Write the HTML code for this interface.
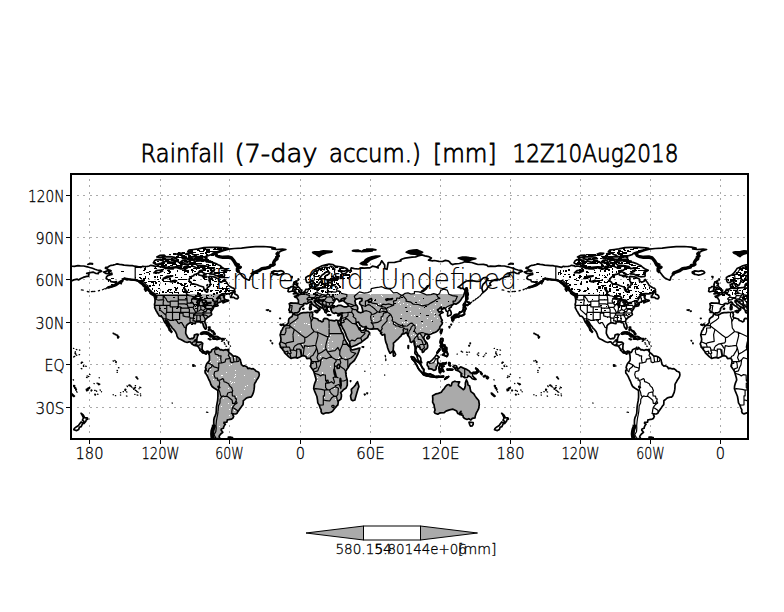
<!DOCTYPE html>
<html><head><meta charset="utf-8"><style>
html,body{margin:0;padding:0;background:#fff;}
svg{display:block;font-family:"Liberation Sans",sans-serif;}
</style></head><body>
<svg width="784" height="612" viewBox="0 0 784 612">
<defs>
<clipPath id="cm"><rect x="72" y="175" width="675" height="263"/></clipPath>
<clipPath id="cg"><rect x="72" y="294" width="438" height="144"/></clipPath>
<clipPath id="cg2"><rect x="510" y="294" width="237" height="144"/></clipPath>
</defs>
<rect width="784" height="612" fill="#fff"/>
<g clip-path="url(#cm)">
<path d="M89.5 175 V438 M160.5 175 V438 M229.5 175 V438 M300.5 175 V438 M370.5 175 V438 M440.5 175 V438 M510.5 175 V438 M580.5 175 V438 M650.5 175 V438 M720.5 175 V438" stroke="#aaa" stroke-width="1" stroke-dasharray="2 4.47" stroke-dashoffset="2.54" fill="none" shape-rendering="crispEdges"/>
<path d="M72 195.5 H747 M72 237.5 H747 M72 279.5 H747 M72 322.5 H747 M72 364.5 H747 M72 407.5 H747" stroke="#aaa" stroke-width="1" stroke-dasharray="2 4.47" stroke-dashoffset="1.87" fill="none" shape-rendering="crispEdges"/>
</g>
<g clip-path="url(#cg2)"><path d="M524.3 272.0 L526.6 273.4 L528.0 273.7 L530.7 273.5 L532.5 273.1 L532.7 274.5 L530.7 275.0 L528.4 275.7 L527.2 276.8 L526.9 278.5 L528.4 279.5 L530.7 280.0 L531.5 281.7 L534.8 282.2 L537.1 281.7 L536.6 283.4 L535.0 284.8 L533.1 285.8 L530.7 287.0 L528.4 287.5 L530.1 287.4 L532.5 286.5 L534.8 285.8 L537.1 284.8 L538.9 283.4 L540.6 282.0 L541.8 280.9 L543.2 281.0 L544.2 278.9 L545.3 278.2 L545.9 279.2 L547.7 279.9 L549.4 279.2 L551.7 279.9 L554.7 279.9 L557.0 280.3 L558.8 281.2 L560.5 282.2 L561.7 282.7 L563.4 284.1 L564.6 285.6 L566.4 287.0 L568.1 287.5 L568.7 289.1 L569.9 290.5 L571.0 291.5 L571.6 292.6 L573.4 293.6 L574.5 294.3 L576.3 295.2 L577.1 295.6 L577.5 296.9 L576.9 298.1 L575.7 297.0 L574.9 296.3 L575.5 298.3 L575.7 299.4 L575.7 302.5 L575.1 304.2 L575.5 306.8 L575.2 307.6 L575.9 308.9 L576.9 311.0 L577.5 311.7 L578.0 312.7 L578.3 313.4 L579.2 314.5 L579.7 315.8 L581.0 316.1 L582.1 316.6 L582.9 317.4 L583.7 318.5 L584.4 320.2 L585.1 321.9 L585.9 322.9 L587.0 324.3 L587.3 325.3 L588.8 327.1 L589.6 328.9 L589.8 330.2 L591.1 331.3 L592.2 332.3 L592.6 331.5 L591.7 330.5 L591.2 329.6 L590.3 328.0 L589.5 325.8 L588.6 324.4 L587.6 322.6 L586.6 320.9 L586.5 319.8 L587.4 320.5 L588.7 321.6 L589.5 323.3 L590.9 325.3 L592.1 326.5 L592.9 328.2 L594.4 329.4 L596.2 331.8 L597.3 334.3 L597.6 335.9 L598.5 337.6 L599.7 338.8 L602.0 339.8 L603.7 340.8 L605.5 341.8 L607.8 342.5 L609.6 341.9 L610.8 341.8 L612.7 344.1 L614.3 345.1 L616.0 345.6 L617.8 346.0 L618.4 346.3 L619.2 347.3 L620.3 348.9 L620.5 350.3 L621.3 350.8 L622.4 352.0 L623.6 353.0 L624.8 353.1 L626.0 353.8 L626.8 354.2 L627.1 353.4 L627.7 352.1 L628.9 352.8 L629.6 354.4 L630.0 355.5 L630.2 359.0 L630.0 360.5 L628.8 362.2 L627.7 363.3 L627.0 364.7 L626.5 366.1 L626.1 367.8 L626.9 368.9 L625.7 370.8 L625.8 372.9 L627.1 374.6 L628.3 376.7 L629.5 379.5 L630.6 381.7 L631.6 384.5 L632.7 386.5 L634.7 388.0 L637.1 389.4 L638.5 390.7 L638.6 393.7 L638.6 397.2 L638.2 400.7 L637.6 403.6 L637.1 407.1 L636.9 410.6 L636.7 413.5 L635.9 415.6 L635.1 417.3 L634.5 419.8 L634.4 423.4 L634.7 424.8 L634.4 426.9 L633.5 429.0 L632.7 431.1 L632.4 434.0 L632.7 436.8 L633.5 438.9 L635.3 440.3 L637.6 441.0 L639.4 438.9 L640.7 438.6 L639.7 436.8 L640.1 435.8 L641.4 434.0 L643.5 432.3 L641.7 430.1 L642.0 429.0 L644.1 428.3 L644.4 426.9 L645.2 425.2 L646.0 424.3 L644.6 423.4 L644.6 422.4 L647.6 422.1 L647.9 419.8 L649.3 419.7 L652.2 419.1 L653.4 418.4 L654.3 416.3 L653.6 415.3 L653.4 414.2 L652.2 413.2 L653.1 413.5 L654.9 414.0 L656.3 414.0 L657.7 413.3 L658.2 412.3 L659.6 410.2 L660.8 408.5 L661.6 407.4 L662.5 406.0 L663.7 404.7 L663.9 402.2 L663.9 400.7 L665.1 399.8 L666.5 398.6 L668.3 397.6 L670.2 397.2 L671.5 397.1 L672.7 395.8 L673.6 393.7 L674.2 392.3 L674.8 389.4 L675.0 386.6 L675.0 384.5 L675.6 383.1 L676.5 381.7 L677.4 380.0 L678.8 378.1 L679.7 376.0 L679.9 374.6 L679.5 372.5 L678.5 371.8 L676.8 371.2 L675.6 369.9 L673.9 368.7 L671.8 368.8 L669.8 368.1 L668.6 368.7 L667.4 366.7 L665.1 365.7 L663.9 366.1 L662.2 364.7 L661.6 362.6 L661.0 359.8 L659.8 358.2 L658.1 356.8 L656.3 356.2 L654.0 356.2 L652.8 355.1 L651.1 353.4 L649.9 352.7 L648.7 350.8 L647.6 349.9 L645.8 349.7 L644.1 350.4 L642.3 349.7 L640.9 349.9 L639.4 348.4 L638.6 347.5 L638.8 348.6 L637.2 349.3 L637.1 349.2 L636.5 348.0 L636.8 347.2 L635.9 348.2 L634.7 348.7 L633.5 349.2 L632.4 349.9 L632.0 351.3 L631.2 352.4 L630.2 352.5 L629.5 351.6 L627.7 351.1 L626.5 351.8 L625.4 352.1 L624.4 351.6 L623.6 350.6 L622.8 349.2 L622.9 347.0 L623.0 344.9 L623.4 343.5 L621.9 342.2 L620.1 342.1 L618.1 342.2 L617.2 342.4 L617.4 340.7 L617.5 338.6 L618.0 337.1 L618.4 335.7 L619.2 334.5 L617.8 334.2 L616.0 334.6 L615.0 335.0 L614.8 336.9 L613.7 338.6 L612.5 338.4 L610.8 339.0 L609.6 338.4 L608.4 337.6 L607.8 336.4 L607.0 335.0 L606.3 333.2 L606.4 330.8 L606.8 328.0 L607.0 325.8 L607.8 324.7 L609.6 323.4 L610.8 322.7 L612.5 322.9 L614.3 323.4 L616.0 323.7 L616.0 322.0 L617.2 321.7 L618.4 321.9 L620.1 321.7 L621.3 322.7 L622.4 322.3 L623.6 323.7 L624.0 325.4 L624.5 327.1 L625.4 328.2 L626.1 329.2 L626.8 328.7 L627.1 327.2 L626.8 325.4 L626.4 324.3 L625.7 322.6 L625.5 321.2 L626.0 319.5 L627.1 318.5 L628.3 317.4 L629.5 316.8 L630.6 315.8 L631.8 315.2 L632.4 314.5 L632.0 313.1 L631.6 312.4 L631.9 311.7 L632.4 310.7 L632.8 309.9 L633.5 309.0 L634.1 307.9 L634.2 307.0 L635.3 306.5 L637.1 306.2 L638.2 305.9 L638.8 305.6 L638.1 304.8 L638.0 303.8 L638.8 302.8 L640.0 302.4 L641.7 301.7 L642.4 301.1 L644.6 300.3 L645.3 300.0 L645.2 300.7 L643.5 302.1 L643.7 302.9 L645.2 302.2 L646.4 301.7 L648.2 301.1 L649.3 300.7 L648.7 300.1 L647.6 300.1 L646.0 299.5 L645.0 298.7 L644.6 297.8 L645.0 297.1 L644.1 296.9 L645.2 295.7 L644.1 295.2 L641.7 295.2 L640.6 296.2 L639.2 297.6 L638.2 298.3 L637.4 298.6 L638.8 297.1 L640.0 296.0 L641.1 295.0 L642.9 293.8 L645.8 293.6 L648.7 293.8 L651.1 293.3 L653.4 292.1 L655.2 291.2 L655.5 289.8 L654.6 288.4 L652.8 287.7 L651.1 286.7 L649.3 285.6 L648.4 284.1 L647.6 282.7 L646.4 281.3 L645.2 279.5 L644.3 280.2 L644.1 281.3 L642.9 281.7 L641.7 282.3 L640.6 281.6 L639.4 281.0 L639.4 279.5 L638.8 278.5 L637.1 278.2 L635.9 277.4 L634.1 276.8 L632.4 276.6 L630.0 276.4 L629.2 277.1 L630.0 278.8 L629.7 280.6 L630.6 282.0 L631.2 283.7 L630.9 285.3 L630.0 286.3 L628.3 287.4 L627.7 288.4 L628.5 290.5 L628.3 291.9 L627.1 292.2 L626.0 291.2 L624.8 289.9 L624.4 288.4 L624.2 287.0 L622.4 286.5 L620.1 285.8 L617.8 284.8 L616.0 284.3 L614.3 283.9 L612.5 284.1 L611.3 282.0 L609.9 281.3 L609.8 279.9 L610.2 278.5 L611.3 277.4 L612.5 276.4 L614.3 275.7 L614.8 274.7 L617.2 274.2 L618.9 273.1 L620.1 271.1 L621.9 270.3 L623.6 270.0 L625.4 268.6 L625.4 266.9 L624.2 266.2 L621.3 266.0 L620.1 267.9 L617.8 268.2 L616.0 267.2 L614.3 266.5 L612.5 265.8 L613.1 264.4 L611.3 262.9 L609.0 264.4 L608.4 266.5 L607.3 268.6 L605.5 268.3 L603.7 268.9 L601.4 268.9 L599.1 268.3 L596.7 267.5 L594.4 267.9 L593.8 269.0 L592.1 268.6 L589.1 268.9 L586.8 268.3 L586.2 268.6 L583.3 267.2 L580.4 266.6 L578.0 266.0 L575.1 266.5 L574.5 265.8 L571.6 265.3 L569.9 266.0 L568.1 266.3 L565.8 266.5 L564.6 266.6 L563.4 266.3 L561.7 267.3 L559.3 266.8 L557.0 266.3 L555.3 266.2 L552.9 265.6 L550.6 265.6 L547.7 265.3 L544.7 265.1 L542.4 264.6 L540.1 264.4 L537.7 263.9 L536.0 264.5 L533.6 265.1 L531.9 265.3 L530.1 266.0 L528.4 267.3 L526.4 267.3 L526.0 268.2 L528.4 269.2 L529.3 269.9 L530.7 270.1 L531.9 270.9 L530.1 271.3 L528.4 270.7 L527.2 271.1 L526.0 271.6 Z M713.7 314.1 L712.7 316.6 L710.7 317.8 L709.6 318.8 L709.1 320.9 L709.4 322.3 L708.3 323.7 L707.2 324.8 L705.4 325.8 L703.7 327.7 L703.1 329.4 L701.9 331.1 L701.3 332.9 L700.7 335.0 L701.3 337.1 L701.7 339.3 L701.3 341.7 L700.2 343.9 L701.0 345.6 L701.1 347.2 L702.5 348.4 L703.4 349.9 L704.8 351.3 L705.2 352.7 L706.6 354.1 L707.7 355.1 L709.5 356.9 L711.8 358.5 L713.6 357.8 L715.9 357.4 L718.3 358.1 L720.6 356.9 L722.4 355.9 L724.7 355.7 L726.4 356.5 L727.6 358.6 L729.4 358.3 L730.5 358.3 L731.7 359.3 L732.1 361.2 L731.7 363.3 L731.5 365.4 L730.9 366.1 L732.9 368.9 L734.4 371.2 L735.0 373.2 L735.8 376.0 L736.4 378.1 L736.7 380.0 L735.4 383.1 L734.6 385.9 L734.4 388.7 L735.2 390.8 L736.4 393.7 L737.5 396.5 L738.1 400.0 L738.5 402.9 L739.9 405.1 L740.8 407.8 L741.9 409.9 L741.6 411.3 L742.2 412.9 L744.0 413.9 L746.9 412.8 L749.8 412.8 L751.6 412.3 L753.3 411.1 L755.1 408.8 L756.8 406.4 L758.5 405.0 L758.9 402.2 L759.2 400.7 L761.5 399.3 L762.1 396.5 L762.1 394.4 L761.3 392.7 L763.3 390.8 L764.4 389.4 L766.8 388.0 L767.9 385.2 L767.9 380.2 L766.8 376.0 L766.5 373.9 L766.2 371.8 L767.3 369.6 L769.1 367.2 L770.8 364.0 L772.6 362.6 L774.9 360.5 L776.7 357.6 L778.4 354.1 L779.6 351.3 L780.5 348.0 L779.0 348.4 L777.3 348.9 L774.4 349.6 L772.6 350.0 L771.2 348.4 L770.6 347.0 L769.1 345.2 L767.3 342.8 L766.2 340.7 L765.0 338.6 L764.2 335.0 L763.6 333.6 L762.1 331.5 L761.5 329.4 L760.3 327.0 L759.2 324.4 L758.7 322.4 L758.3 320.5 L756.8 320.0 L755.1 320.9 L752.2 320.3 L749.8 320.0 L747.5 318.6 L745.1 318.3 L744.0 319.6 L744.0 321.0 L742.8 321.9 L741.0 320.9 L739.3 320.5 L738.4 319.0 L735.8 318.2 L734.0 317.8 L732.9 316.6 L733.5 314.8 L732.9 313.1 L733.5 312.4 L732.3 312.0 L730.5 312.5 L728.2 312.4 L726.4 312.7 L724.1 312.7 L721.8 313.1 L719.4 314.5 L718.0 315.1 L715.9 315.0 L714.4 314.0 Z M758.7 322.4 L759.7 325.1 L760.7 325.4 L761.0 323.7 L761.5 323.0 L762.1 325.1 L763.3 328.0 L765.0 330.8 L766.2 333.6 L767.1 336.4 L768.5 339.3 L770.3 342.1 L770.6 344.2 L771.2 346.6 L772.6 346.8 L773.8 346.3 L777.3 344.9 L779.0 343.8 L781.4 342.7 L783.1 341.4 L785.5 339.5 L787.0 338.4 L788.1 337.6 L789.0 335.7 L790.5 333.0 L789.0 331.3 L787.2 330.8 L786.5 329.5 L786.4 327.5 L785.5 328.7 L784.3 330.4 L781.9 330.5 L780.9 330.1 L780.9 328.1 L780.4 327.8 L780.0 329.6 L779.3 328.2 L778.4 326.5 L777.3 324.7 L776.7 323.0 L777.6 322.3 L779.0 322.0 L780.0 323.7 L780.8 325.3 L783.1 326.8 L785.5 327.0 L786.6 326.4 L787.6 328.2 L789.5 328.8 L792.5 329.2 L794.8 328.9 L798.3 328.8 L799.2 329.9 L800.6 331.5 L802.4 332.5 L801.2 333.2 L803.0 335.2 L805.3 334.3 L805.7 337.1 L805.9 339.3 L806.5 342.1 L807.7 344.9 L808.2 347.7 L809.4 350.6 L810.6 353.1 L811.2 353.3 L812.0 352.1 L813.1 351.6 L813.8 350.1 L814.1 347.0 L814.3 345.6 L814.1 343.2 L815.3 342.1 L816.8 340.7 L818.8 338.8 L820.5 337.0 L822.0 335.7 L822.3 334.3 L824.0 333.9 L825.2 333.6 L826.4 332.6 L827.5 333.0 L828.1 334.3 L828.5 335.4 L829.9 337.1 L830.7 339.3 L830.9 341.8 L832.2 342.4 L833.9 341.0 L834.6 342.1 L834.9 344.2 L835.7 347.0 L835.8 350.6 L835.5 352.7 L835.7 353.7 L837.5 355.5 L837.9 357.6 L838.6 359.8 L840.4 361.9 L841.5 362.9 L842.4 362.6 L841.5 360.5 L841.4 358.3 L840.0 355.9 L838.6 354.9 L837.8 353.0 L836.6 351.3 L836.5 349.2 L837.5 346.8 L838.5 345.8 L839.2 346.9 L840.4 347.5 L841.0 349.2 L842.7 350.0 L843.1 352.4 L844.5 351.7 L845.4 350.0 L847.4 348.7 L848.2 347.7 L848.3 345.6 L847.7 343.1 L846.2 341.4 L845.0 339.7 L844.2 337.8 L845.0 336.0 L846.2 334.3 L847.4 334.2 L848.6 334.3 L849.1 336.0 L849.7 334.6 L851.2 334.2 L853.2 333.3 L854.2 332.9 L856.1 332.3 L857.9 331.1 L859.1 329.9 L860.2 328.7 L860.5 327.2 L861.4 325.8 L862.6 324.4 L863.2 322.6 L862.0 321.5 L862.9 320.2 L861.8 318.5 L861.2 316.2 L860.0 315.2 L861.4 313.5 L863.7 312.4 L862.0 311.3 L859.7 312.1 L859.1 311.0 L858.1 309.9 L859.1 309.3 L860.2 308.3 L862.0 307.0 L862.6 309.6 L862.2 309.9 L863.5 308.9 L864.9 308.4 L866.1 308.4 L866.9 311.0 L868.4 311.7 L868.2 315.2 L868.4 316.1 L870.2 315.5 L871.7 314.8 L871.9 313.1 L871.3 311.0 L870.2 309.6 L869.6 308.4 L871.9 307.0 L872.2 305.9 L873.3 304.9 L874.8 303.6 L876.6 304.2 L878.9 302.8 L881.3 300.4 L882.4 298.3 L884.2 296.2 L884.8 294.0 L885.8 290.9 L885.4 289.8 L883.6 288.1 L881.3 288.5 L880.7 287.7 L878.6 287.2 L880.1 286.3 L881.9 284.8 L884.8 282.4 L887.1 281.0 L890.6 280.7 L894.1 280.9 L897.0 281.3 L898.8 281.3 L901.1 281.0 L901.7 279.9 L904.1 277.8 L907.0 277.4 L908.7 278.8 L907.6 279.9 L905.2 283.0 L903.8 284.1 L902.9 286.3 L902.5 288.4 L903.1 290.5 L903.7 292.6 L905.5 291.2 L907.6 289.1 L908.1 287.7 L909.9 285.6 L911.4 285.3 L910.5 283.4 L911.7 282.0 L913.4 280.6 L915.2 279.9 L918.7 279.2 L919.8 279.9 L922.2 278.5 L924.5 277.4 L928.0 276.4 L929.8 276.4 L930.4 274.2 L929.2 273.5 L928.0 273.3 L930.4 272.8 L931.5 272.6 L934.4 272.1 L937.4 273.5 L939.7 273.7 L939.7 272.4 L942.0 271.7 L943.0 271.3 L941.5 270.3 L938.5 270.0 L936.2 269.2 L933.9 268.3 L930.9 267.5 L928.6 266.8 L925.1 266.0 L921.6 265.9 L919.2 265.6 L915.7 266.3 L911.1 266.2 L908.7 266.5 L907.6 265.1 L904.1 264.4 L898.8 264.5 L895.9 263.6 L892.4 262.5 L888.9 262.2 L885.4 261.8 L883.0 262.7 L880.1 263.5 L876.0 263.8 L873.1 264.6 L871.3 263.6 L870.2 261.8 L868.4 260.8 L866.1 260.4 L863.2 261.5 L859.7 261.4 L855.0 260.5 L853.2 260.8 L849.1 260.1 L852.1 258.0 L849.1 256.6 L845.6 255.9 L842.5 254.9 L838.6 255.9 L836.3 256.9 L832.8 257.1 L829.3 257.6 L825.8 258.1 L822.8 259.0 L821.1 260.1 L821.7 260.8 L818.8 261.5 L815.3 262.4 L811.7 262.5 L808.8 262.5 L807.7 269.3 L805.3 268.6 L805.3 265.1 L802.4 260.8 L800.6 264.4 L798.3 266.5 L798.9 267.9 L796.6 266.9 L793.0 266.2 L790.7 267.9 L788.4 267.9 L784.9 268.2 L782.5 267.9 L779.0 269.0 L774.9 268.6 L772.0 267.9 L771.4 269.3 L772.0 271.1 L769.7 270.7 L767.9 271.4 L766.8 273.1 L764.4 274.2 L762.7 273.4 L761.5 271.4 L759.2 270.7 L760.9 270.6 L765.0 271.3 L768.5 269.7 L767.3 268.6 L765.0 267.7 L761.5 266.9 L759.2 266.5 L755.7 266.0 L753.3 264.5 L749.8 264.2 L746.3 264.9 L742.8 265.8 L739.9 267.2 L737.0 268.6 L735.2 271.4 L733.5 273.5 L731.7 275.0 L728.8 276.1 L726.4 277.4 L726.4 279.2 L727.0 281.3 L727.6 282.4 L729.4 282.7 L731.7 281.3 L732.9 280.2 L733.5 281.3 L734.0 282.3 L734.6 283.4 L735.4 285.3 L735.8 286.4 L737.5 286.0 L739.3 284.8 L739.9 283.2 L741.6 281.3 L742.8 280.2 L741.0 278.9 L741.0 277.1 L742.8 275.0 L745.1 273.5 L746.9 271.8 L749.2 271.7 L750.4 272.8 L749.2 274.2 L746.3 275.7 L745.7 277.8 L745.7 279.2 L747.5 279.9 L750.4 279.5 L753.3 279.2 L755.7 280.0 L753.3 280.6 L748.6 280.7 L748.1 281.7 L749.2 282.4 L748.6 283.9 L746.3 283.4 L745.1 284.8 L745.1 286.5 L744.0 287.2 L742.2 287.7 L739.3 288.0 L737.0 288.4 L734.6 288.1 L733.5 288.4 L732.3 287.7 L732.3 286.3 L732.9 283.4 L731.7 283.9 L730.2 284.8 L730.5 286.3 L730.9 288.4 L728.8 289.1 L726.4 289.4 L725.9 290.8 L724.7 291.9 L723.5 292.5 L722.5 293.3 L722.1 294.0 L720.8 294.5 L719.4 294.9 L719.1 294.5 L718.4 294.5 L718.7 295.9 L717.1 295.7 L715.1 296.3 L715.6 297.1 L717.7 297.8 L718.3 299.0 L719.2 300.4 L719.1 302.5 L718.5 303.4 L716.5 303.2 L714.2 303.1 L711.3 302.9 L709.9 303.8 L710.3 305.3 L710.4 307.5 L709.5 309.9 L710.3 311.1 L710.2 312.4 L711.8 312.1 L713.2 312.7 L714.1 313.8 L715.3 312.8 L718.0 312.8 L719.7 311.6 L720.6 309.9 L720.3 308.9 L721.5 307.2 L723.2 306.2 L724.3 305.3 L724.2 303.9 L725.9 303.4 L727.6 303.8 L729.4 302.8 L730.9 301.9 L732.3 302.5 L732.9 304.1 L734.6 305.5 L736.4 306.5 L738.1 307.9 L739.3 309.6 L738.9 311.0 L739.9 310.3 L740.7 309.6 L740.0 308.2 L741.0 307.5 L742.2 308.0 L741.6 307.2 L739.3 306.0 L738.7 305.3 L737.0 304.6 L736.4 303.2 L735.0 301.8 L735.2 300.4 L736.6 300.1 L736.5 301.1 L737.5 300.8 L738.7 302.5 L740.5 303.6 L742.2 304.8 L743.4 305.6 L743.2 307.5 L744.0 308.9 L745.1 310.3 L745.7 312.4 L746.9 313.1 L747.5 311.7 L747.2 310.6 L748.6 310.7 L747.2 308.9 L746.9 307.5 L748.6 307.0 L751.0 307.0 L751.2 307.7 L752.7 306.9 L754.5 306.5 L753.3 305.9 L753.1 304.6 L753.9 303.2 L755.3 301.1 L756.2 299.0 L757.4 298.8 L758.6 299.7 L759.7 300.8 L759.7 301.8 L761.5 301.2 L763.3 300.7 L761.5 300.1 L762.1 299.0 L765.0 298.1 L766.5 298.0 L765.0 299.7 L764.4 301.1 L765.6 302.1 L767.1 303.2 L769.1 305.3 L769.2 306.0 L767.3 306.8 L765.0 306.9 L763.3 306.3 L761.5 305.3 L759.2 305.3 L757.4 306.5 L755.1 306.5 L754.5 307.6 L752.2 307.6 L751.2 308.9 L751.9 310.3 L752.5 311.7 L753.3 312.7 L755.1 313.5 L756.4 312.7 L758.0 313.5 L760.3 313.4 L762.1 313.0 L762.9 312.8 L762.4 314.1 L762.6 315.2 L761.5 318.1 L760.9 320.0 L759.7 320.7 L758.7 320.9 Z" fill="#fff"/></g>
<g clip-path="url(#cg)"><path d="M103.6 272.0 L106.0 273.4 L107.4 273.7 L110.0 273.5 L111.8 273.1 L112.0 274.5 L110.0 275.0 L107.7 275.7 L106.5 276.8 L106.2 278.5 L107.7 279.5 L110.0 280.0 L110.9 281.7 L114.1 282.2 L116.5 281.7 L115.9 283.4 L114.4 284.8 L112.4 285.8 L110.0 287.0 L107.7 287.5 L109.5 287.4 L111.8 286.5 L114.1 285.8 L116.5 284.8 L118.2 283.4 L120.0 282.0 L121.2 280.9 L122.6 281.0 L123.5 278.9 L124.7 278.2 L125.2 279.2 L127.0 279.9 L128.7 279.2 L131.1 279.9 L134.0 279.9 L136.3 280.3 L138.1 281.2 L139.8 282.2 L141.0 282.7 L142.8 284.1 L143.9 285.6 L145.7 287.0 L147.4 287.5 L148.0 289.1 L149.2 290.5 L150.4 291.5 L150.9 292.6 L152.7 293.6 L153.9 294.3 L155.6 295.2 L156.4 295.6 L156.8 296.9 L156.2 298.1 L155.0 297.0 L154.2 296.3 L154.8 298.3 L155.0 299.4 L155.0 302.5 L154.5 304.2 L154.8 306.8 L154.6 307.6 L155.3 308.9 L156.2 311.0 L156.8 311.7 L157.4 312.7 L157.6 313.4 L158.5 314.5 L159.0 315.8 L160.3 316.1 L161.5 316.6 L162.3 317.4 L163.0 318.5 L163.7 320.2 L164.4 321.9 L165.2 322.9 L166.4 324.3 L166.6 325.3 L168.1 327.1 L168.9 328.9 L169.2 330.2 L170.5 331.3 L171.5 332.3 L172.0 331.5 L171.0 330.5 L170.6 329.6 L169.6 328.0 L168.8 325.8 L167.9 324.4 L167.0 322.6 L165.9 320.9 L165.8 319.8 L166.7 320.5 L168.0 321.6 L168.8 323.3 L170.2 325.3 L171.4 326.5 L172.2 328.2 L173.7 329.4 L175.5 331.8 L176.7 334.3 L176.9 335.9 L177.8 337.6 L179.0 338.8 L181.3 339.8 L183.1 340.8 L184.8 341.8 L187.2 342.5 L188.9 341.9 L190.1 341.8 L192.1 344.1 L193.6 345.1 L195.4 345.6 L197.1 346.0 L197.7 346.3 L198.5 347.3 L199.7 348.9 L199.8 350.3 L200.6 350.8 L201.8 352.0 L202.9 353.0 L204.1 353.1 L205.3 353.8 L206.1 354.2 L206.5 353.4 L207.0 352.1 L208.2 352.8 L208.9 354.4 L209.4 355.5 L209.5 359.0 L209.4 360.5 L208.1 362.2 L207.0 363.3 L206.3 364.7 L205.9 366.1 L205.4 367.8 L206.2 368.9 L205.0 370.8 L205.2 372.9 L206.5 374.6 L207.6 376.7 L208.8 379.5 L210.0 381.7 L210.9 384.5 L212.1 386.5 L214.0 388.0 L216.4 389.4 L217.8 390.7 L217.9 393.7 L217.9 397.2 L217.6 400.7 L217.0 403.6 L216.4 407.1 L216.3 410.6 L216.0 413.5 L215.2 415.6 L214.4 417.3 L213.8 419.8 L213.7 423.4 L214.0 424.8 L213.7 426.9 L212.9 429.0 L212.1 431.1 L211.7 434.0 L212.1 436.8 L212.9 438.9 L214.6 440.3 L217.0 441.0 L218.7 438.9 L220.0 438.6 L219.1 436.8 L219.4 435.8 L220.7 434.0 L222.8 432.3 L221.1 430.1 L221.3 429.0 L223.4 428.3 L223.7 426.9 L224.6 425.2 L225.4 424.3 L224.0 423.4 L224.0 422.4 L226.9 422.1 L227.3 419.8 L228.7 419.7 L231.6 419.1 L232.7 418.4 L233.7 416.3 L233.0 415.3 L232.7 414.2 L231.6 413.2 L232.4 413.5 L234.3 414.0 L235.7 414.0 L237.1 413.3 L237.5 412.3 L238.9 410.2 L240.1 408.5 L240.9 407.4 L241.9 406.0 L243.0 404.7 L243.3 402.2 L243.3 400.7 L244.4 399.8 L245.8 398.6 L247.6 397.6 L249.6 397.2 L250.9 397.1 L252.0 395.8 L253.0 393.7 L253.5 392.3 L254.1 389.4 L254.4 386.6 L254.4 384.5 L254.9 383.1 L255.9 381.7 L256.7 380.0 L258.1 378.1 L259.0 376.0 L259.3 374.6 L258.8 372.5 L257.9 371.8 L256.1 371.2 L254.9 369.9 L253.2 368.7 L251.1 368.8 L249.1 368.1 L247.9 368.7 L246.8 366.7 L244.4 365.7 L243.3 366.1 L241.5 364.7 L240.9 362.6 L240.3 359.8 L239.2 358.2 L237.4 356.8 L235.7 356.2 L233.3 356.2 L232.2 355.1 L230.4 353.4 L229.2 352.7 L228.1 350.8 L226.9 349.9 L225.1 349.7 L223.4 350.4 L221.6 349.7 L220.2 349.9 L218.7 348.4 L217.9 347.5 L218.1 348.6 L216.5 349.3 L216.4 349.2 L215.8 348.0 L216.2 347.2 L215.2 348.2 L214.0 348.7 L212.9 349.2 L211.7 349.9 L211.4 351.3 L210.5 352.4 L209.5 352.5 L208.8 351.6 L207.0 351.1 L205.9 351.8 L204.7 352.1 L203.8 351.6 L202.9 350.6 L202.1 349.2 L202.2 347.0 L202.4 344.9 L202.7 343.5 L201.2 342.2 L199.4 342.1 L197.5 342.2 L196.5 342.4 L196.8 340.7 L196.9 338.6 L197.3 337.1 L197.7 335.7 L198.5 334.5 L197.1 334.2 L195.4 334.6 L194.3 335.0 L194.2 336.9 L193.0 338.6 L191.8 338.4 L190.1 339.0 L188.9 338.4 L187.8 337.6 L187.2 336.4 L186.4 335.0 L185.7 333.2 L185.8 330.8 L186.1 328.0 L186.4 325.8 L187.2 324.7 L188.9 323.4 L190.1 322.7 L191.8 322.9 L193.6 323.4 L195.4 323.7 L195.4 322.0 L196.5 321.7 L197.7 321.9 L199.4 321.7 L200.6 322.7 L201.8 322.3 L202.9 323.7 L203.3 325.4 L203.9 327.1 L204.7 328.2 L205.4 329.2 L206.1 328.7 L206.5 327.2 L206.1 325.4 L205.8 324.3 L205.0 322.6 L204.8 321.2 L205.3 319.5 L206.5 318.5 L207.6 317.4 L208.8 316.8 L210.0 315.8 L211.1 315.2 L211.7 314.5 L211.4 313.1 L210.9 312.4 L211.2 311.7 L211.7 310.7 L212.2 309.9 L212.9 309.0 L213.5 307.9 L213.6 307.0 L214.6 306.5 L216.4 306.2 L217.6 305.9 L218.1 305.6 L217.4 304.8 L217.3 303.8 L218.1 302.8 L219.3 302.4 L221.1 301.7 L221.8 301.1 L224.0 300.3 L224.7 300.0 L224.6 300.7 L222.8 302.1 L223.0 302.9 L224.6 302.2 L225.7 301.7 L227.5 301.1 L228.7 300.7 L228.1 300.1 L226.9 300.1 L225.4 299.5 L224.3 298.7 L224.0 297.8 L224.3 297.1 L223.4 296.9 L224.6 295.7 L223.4 295.2 L221.1 295.2 L219.9 296.2 L218.5 297.6 L217.6 298.3 L216.7 298.6 L218.1 297.1 L219.3 296.0 L220.5 295.0 L222.2 293.8 L225.1 293.6 L228.1 293.8 L230.4 293.3 L232.7 292.1 L234.5 291.2 L234.8 289.8 L233.9 288.4 L232.2 287.7 L230.4 286.7 L228.7 285.6 L227.7 284.1 L226.9 282.7 L225.7 281.3 L224.6 279.5 L223.6 280.2 L223.4 281.3 L222.2 281.7 L221.1 282.3 L219.9 281.6 L218.7 281.0 L218.7 279.5 L218.1 278.5 L216.4 278.2 L215.2 277.4 L213.5 276.8 L211.7 276.6 L209.4 276.4 L208.6 277.1 L209.4 278.8 L209.0 280.6 L210.0 282.0 L210.5 283.7 L210.2 285.3 L209.4 286.3 L207.6 287.4 L207.0 288.4 L207.9 290.5 L207.6 291.9 L206.5 292.2 L205.3 291.2 L204.1 289.9 L203.8 288.4 L203.5 287.0 L201.8 286.5 L199.4 285.8 L197.1 284.8 L195.4 284.3 L193.6 283.9 L191.8 284.1 L190.7 282.0 L189.3 281.3 L189.2 279.9 L189.5 278.5 L190.7 277.4 L191.8 276.4 L193.6 275.7 L194.2 274.7 L196.5 274.2 L198.3 273.1 L199.4 271.1 L201.2 270.3 L202.9 270.0 L204.7 268.6 L204.7 266.9 L203.5 266.2 L200.6 266.0 L199.4 267.9 L197.1 268.2 L195.4 267.2 L193.6 266.5 L191.8 265.8 L192.4 264.4 L190.7 262.9 L188.3 264.4 L187.8 266.5 L186.6 268.6 L184.8 268.3 L183.1 268.9 L180.7 268.9 L178.4 268.3 L176.1 267.5 L173.7 267.9 L173.1 269.0 L171.4 268.6 L168.5 268.9 L166.1 268.3 L165.6 268.6 L162.6 267.2 L159.7 266.6 L157.4 266.0 L154.5 266.5 L153.9 265.8 L150.9 265.3 L149.2 266.0 L147.4 266.3 L145.1 266.5 L143.9 266.6 L142.8 266.3 L141.0 267.3 L138.7 266.8 L136.3 266.3 L134.6 266.2 L132.3 265.6 L129.9 265.6 L127.0 265.3 L124.1 265.1 L121.7 264.6 L119.4 264.4 L117.1 263.9 L115.3 264.5 L113.0 265.1 L111.2 265.3 L109.5 266.0 L107.7 267.3 L105.7 267.3 L105.4 268.2 L107.7 269.2 L108.6 269.9 L110.0 270.1 L111.2 270.9 L109.5 271.3 L107.7 270.7 L106.5 271.1 L105.4 271.6 Z M293.0 314.1 L292.0 316.6 L290.0 317.8 L288.9 318.8 L288.5 320.9 L288.7 322.3 L287.7 323.7 L286.5 324.8 L284.7 325.8 L283.0 327.7 L282.4 329.4 L281.2 331.1 L280.7 332.9 L280.1 335.0 L280.7 337.1 L281.0 339.3 L280.7 341.7 L279.5 343.9 L280.3 345.6 L280.4 347.2 L281.8 348.4 L282.8 349.9 L284.2 351.3 L284.5 352.7 L285.9 354.1 L287.1 355.1 L288.8 356.9 L291.2 358.5 L292.9 357.8 L295.3 357.4 L297.6 358.1 L299.9 356.9 L301.7 355.9 L304.0 355.7 L305.8 356.5 L306.9 358.6 L308.7 358.3 L309.9 358.3 L311.0 359.3 L311.4 361.2 L311.0 363.3 L310.8 365.4 L310.2 366.1 L312.2 368.9 L313.7 371.2 L314.3 373.2 L315.1 376.0 L315.7 378.1 L316.1 380.0 L314.8 383.1 L314.0 385.9 L313.7 388.7 L314.5 390.8 L315.7 393.7 L316.9 396.5 L317.5 400.0 L317.8 402.9 L319.2 405.1 L320.1 407.8 L321.2 409.9 L321.0 411.3 L321.6 412.9 L323.3 413.9 L326.2 412.8 L329.1 412.8 L330.9 412.3 L332.7 411.1 L334.4 408.8 L336.2 406.4 L337.8 405.0 L338.3 402.2 L338.5 400.7 L340.8 399.3 L341.4 396.5 L341.4 394.4 L340.6 392.7 L342.6 390.8 L343.8 389.4 L346.1 388.0 L347.3 385.2 L347.3 380.2 L346.1 376.0 L345.9 373.9 L345.5 371.8 L346.7 369.6 L348.4 367.2 L350.2 364.0 L351.9 362.6 L354.3 360.5 L356.0 357.6 L357.8 354.1 L358.9 351.3 L359.9 348.0 L358.4 348.4 L356.6 348.9 L353.7 349.6 L351.9 350.0 L350.5 348.4 L349.9 347.0 L348.4 345.2 L346.7 342.8 L345.5 340.7 L344.3 338.6 L343.5 335.0 L342.9 333.6 L341.4 331.5 L340.8 329.4 L339.7 327.0 L338.5 324.4 L338.0 322.4 L337.7 320.5 L336.2 320.0 L334.4 320.9 L331.5 320.3 L329.1 320.0 L326.8 318.6 L324.5 318.3 L323.3 319.6 L323.3 321.0 L322.1 321.9 L320.4 320.9 L318.6 320.5 L317.7 319.0 L315.1 318.2 L313.4 317.8 L312.2 316.6 L312.8 314.8 L312.2 313.1 L312.8 312.4 L311.6 312.0 L309.9 312.5 L307.5 312.4 L305.8 312.7 L303.4 312.7 L301.1 313.1 L298.8 314.5 L297.4 315.1 L295.3 315.0 L293.7 314.0 Z M338.0 322.4 L339.1 325.1 L340.0 325.4 L340.4 323.7 L340.8 323.0 L341.4 325.1 L342.6 328.0 L344.3 330.8 L345.5 333.6 L346.4 336.4 L347.8 339.3 L349.6 342.1 L349.9 344.2 L350.5 346.6 L351.9 346.8 L353.1 346.3 L356.6 344.9 L358.4 343.8 L360.7 342.7 L362.4 341.4 L364.8 339.5 L366.3 338.4 L367.5 337.6 L368.3 335.7 L369.8 333.0 L368.3 331.3 L366.5 330.8 L365.8 329.5 L365.7 327.5 L364.8 328.7 L363.6 330.4 L361.3 330.5 L360.2 330.1 L360.2 328.1 L359.8 327.8 L359.3 329.6 L358.6 328.2 L357.8 326.5 L356.6 324.7 L356.0 323.0 L357.0 322.3 L358.4 322.0 L359.3 323.7 L360.1 325.3 L362.4 326.8 L364.8 327.0 L366.0 326.4 L366.9 328.2 L368.9 328.8 L371.8 329.2 L374.1 328.9 L377.6 328.8 L378.6 329.9 L380.0 331.5 L381.7 332.5 L380.6 333.2 L382.3 335.2 L384.7 334.3 L385.0 337.1 L385.2 339.3 L385.8 342.1 L387.0 344.9 L387.6 347.7 L388.7 350.6 L389.9 353.1 L390.5 353.3 L391.3 352.1 L392.5 351.6 L393.2 350.1 L393.4 347.0 L393.6 345.6 L393.4 343.2 L394.6 342.1 L396.1 340.7 L398.1 338.8 L399.8 337.0 L401.4 335.7 L401.6 334.3 L403.3 333.9 L404.5 333.6 L405.7 332.6 L406.9 333.0 L407.4 334.3 L407.8 335.4 L409.2 337.1 L410.0 339.3 L410.2 341.8 L411.5 342.4 L413.3 341.0 L414.0 342.1 L414.2 344.2 L415.0 347.0 L415.1 350.6 L414.8 352.7 L415.0 353.7 L416.8 355.5 L417.3 357.6 L418.0 359.8 L419.7 361.9 L420.9 362.9 L421.7 362.6 L420.9 360.5 L420.8 358.3 L419.4 355.9 L418.0 354.9 L417.1 353.0 L416.0 351.3 L415.9 349.2 L416.8 346.8 L417.8 345.8 L418.5 346.9 L419.7 347.5 L420.3 349.2 L422.0 350.0 L422.4 352.4 L423.8 351.7 L424.7 350.0 L426.7 348.7 L427.5 347.7 L427.7 345.6 L427.1 343.1 L425.5 341.4 L424.4 339.7 L423.6 337.8 L424.4 336.0 L425.5 334.3 L426.7 334.2 L427.9 334.3 L428.5 336.0 L429.1 334.6 L430.6 334.2 L432.6 333.3 L433.5 332.9 L435.5 332.3 L437.2 331.1 L438.4 329.9 L439.6 328.7 L439.8 327.2 L440.7 325.8 L441.9 324.4 L442.5 322.6 L441.3 321.5 L442.3 320.2 L441.1 318.5 L440.5 316.2 L439.3 315.2 L440.7 313.5 L443.1 312.4 L441.3 311.3 L439.0 312.1 L438.4 311.0 L437.5 309.9 L438.4 309.3 L439.6 308.3 L441.3 307.0 L441.9 309.6 L441.6 309.9 L442.8 308.9 L444.2 308.4 L445.4 308.4 L446.2 311.0 L447.8 311.7 L447.5 315.2 L447.8 316.1 L449.5 315.5 L451.0 314.8 L451.3 313.1 L450.7 311.0 L449.5 309.6 L448.9 308.4 L451.3 307.0 L451.5 305.9 L452.7 304.9 L454.2 303.6 L455.9 304.2 L458.3 302.8 L460.6 300.4 L461.8 298.3 L463.5 296.2 L464.1 294.0 L465.2 290.9 L464.7 289.8 L462.9 288.1 L460.6 288.5 L460.0 287.7 L457.9 287.2 L459.4 286.3 L461.2 284.8 L464.1 282.4 L466.4 281.0 L470.0 280.7 L473.5 280.9 L476.4 281.3 L478.1 281.3 L480.5 281.0 L481.1 279.9 L483.4 277.8 L486.3 277.4 L488.1 278.8 L486.9 279.9 L484.6 283.0 L483.2 284.1 L482.2 286.3 L481.9 288.4 L482.5 290.5 L483.0 292.6 L484.8 291.2 L486.9 289.1 L487.5 287.7 L489.2 285.6 L490.8 285.3 L489.8 283.4 L491.0 282.0 L492.7 280.6 L494.5 279.9 L498.0 279.2 L499.2 279.9 L501.5 278.5 L503.8 277.4 L507.3 276.4 L509.1 276.4 L509.7 274.2 L508.5 273.5 L507.3 273.3 L509.7 272.8 L510.9 272.6 L513.8 272.1 L516.7 273.5 L519.0 273.7 L519.0 272.4 L521.4 271.7 L522.3 271.3 L520.8 270.3 L517.9 270.0 L515.5 269.2 L513.2 268.3 L510.3 267.5 L507.9 266.8 L504.4 266.0 L500.9 265.9 L498.6 265.6 L495.1 266.3 L490.4 266.2 L488.1 266.5 L486.9 265.1 L483.4 264.4 L478.1 264.5 L475.2 263.6 L471.7 262.5 L468.2 262.2 L464.7 261.8 L462.4 262.7 L459.4 263.5 L455.3 263.8 L452.4 264.6 L450.7 263.6 L449.5 261.8 L447.8 260.8 L445.4 260.4 L442.5 261.5 L439.0 261.4 L434.3 260.5 L432.6 260.8 L428.5 260.1 L431.4 258.0 L428.5 256.6 L425.0 255.9 L421.8 254.9 L418.0 255.9 L415.6 256.9 L412.1 257.1 L408.6 257.6 L405.1 258.1 L402.2 259.0 L400.4 260.1 L401.0 260.8 L398.1 261.5 L394.6 262.4 L391.1 262.5 L388.2 262.5 L387.0 269.3 L384.7 268.6 L384.7 265.1 L381.7 260.8 L380.0 264.4 L377.6 266.5 L378.2 267.9 L375.9 266.9 L372.4 266.2 L370.0 267.9 L367.7 267.9 L364.2 268.2 L361.9 267.9 L358.4 269.0 L354.3 268.6 L351.3 267.9 L350.8 269.3 L351.3 271.1 L349.0 270.7 L347.3 271.4 L346.1 273.1 L343.8 274.2 L342.0 273.4 L340.8 271.4 L338.5 270.7 L340.2 270.6 L344.3 271.3 L347.8 269.7 L346.7 268.6 L344.3 267.7 L340.8 266.9 L338.5 266.5 L335.0 266.0 L332.7 264.5 L329.1 264.2 L325.6 264.9 L322.1 265.8 L319.2 267.2 L316.3 268.6 L314.5 271.4 L312.8 273.5 L311.0 275.0 L308.1 276.1 L305.8 277.4 L305.8 279.2 L306.4 281.3 L306.9 282.4 L308.7 282.7 L311.0 281.3 L312.2 280.2 L312.8 281.3 L313.4 282.3 L314.0 283.4 L314.8 285.3 L315.1 286.4 L316.9 286.0 L318.6 284.8 L319.2 283.2 L321.0 281.3 L322.1 280.2 L320.4 278.9 L320.4 277.1 L322.1 275.0 L324.5 273.5 L326.2 271.8 L328.6 271.7 L329.7 272.8 L328.6 274.2 L325.6 275.7 L325.1 277.8 L325.1 279.2 L326.8 279.9 L329.7 279.5 L332.7 279.2 L335.0 280.0 L332.7 280.6 L328.0 280.7 L327.4 281.7 L328.6 282.4 L328.0 283.9 L325.6 283.4 L324.5 284.8 L324.5 286.5 L323.3 287.2 L321.6 287.7 L318.6 288.0 L316.3 288.4 L314.0 288.1 L312.8 288.4 L311.6 287.7 L311.6 286.3 L312.2 283.4 L311.0 283.9 L309.5 284.8 L309.9 286.3 L310.2 288.4 L308.1 289.1 L305.8 289.4 L305.2 290.8 L304.0 291.9 L302.9 292.5 L301.8 293.3 L301.5 294.0 L300.2 294.5 L298.8 294.9 L298.4 294.5 L297.7 294.5 L298.1 295.9 L296.4 295.7 L294.4 296.3 L294.9 297.1 L297.0 297.8 L297.6 299.0 L298.5 300.4 L298.4 302.5 L297.8 303.4 L295.8 303.2 L293.5 303.1 L290.6 302.9 L289.2 303.8 L289.7 305.3 L289.8 307.5 L288.8 309.9 L289.7 311.1 L289.5 312.4 L291.2 312.1 L292.6 312.7 L293.4 313.8 L294.7 312.8 L297.4 312.8 L299.0 311.6 L299.9 309.9 L299.6 308.9 L300.9 307.2 L302.5 306.2 L303.7 305.3 L303.6 303.9 L305.2 303.4 L306.9 303.8 L308.7 302.8 L310.2 301.9 L311.6 302.5 L312.2 304.1 L314.0 305.5 L315.7 306.5 L317.5 307.9 L318.6 309.6 L318.3 311.0 L319.2 310.3 L320.0 309.6 L319.3 308.2 L320.4 307.5 L321.6 308.0 L321.0 307.2 L318.6 306.0 L318.0 305.3 L316.3 304.6 L315.7 303.2 L314.3 301.8 L314.5 300.4 L315.9 300.1 L315.8 301.1 L316.9 300.8 L318.0 302.5 L319.8 303.6 L321.6 304.8 L322.7 305.6 L322.5 307.5 L323.3 308.9 L324.5 310.3 L325.1 312.4 L326.2 313.1 L326.8 311.7 L326.6 310.6 L328.0 310.7 L326.6 308.9 L326.2 307.5 L328.0 307.0 L330.3 307.0 L330.5 307.7 L332.1 306.9 L333.8 306.5 L332.7 305.9 L332.4 304.6 L333.2 303.2 L334.6 301.1 L335.6 299.0 L336.7 298.8 L337.9 299.7 L339.1 300.8 L339.1 301.8 L340.8 301.2 L342.6 300.7 L340.8 300.1 L341.4 299.0 L344.3 298.1 L345.9 298.0 L344.3 299.7 L343.8 301.1 L344.9 302.1 L346.4 303.2 L348.4 305.3 L348.5 306.0 L346.7 306.8 L344.3 306.9 L342.6 306.3 L340.8 305.3 L338.5 305.3 L336.7 306.5 L334.4 306.5 L333.8 307.6 L331.5 307.6 L330.5 308.9 L331.2 310.3 L331.8 311.7 L332.7 312.7 L334.4 313.5 L335.7 312.7 L337.3 313.5 L339.7 313.4 L341.4 313.0 L342.2 312.8 L341.8 314.1 L341.9 315.2 L340.8 318.1 L340.2 320.0 L339.1 320.7 L338.0 320.9 Z M432.6 395.8 L433.1 395.5 L436.1 393.8 L438.4 393.4 L441.3 392.3 L442.7 390.1 L444.2 388.7 L445.4 386.6 L447.2 384.8 L448.9 384.5 L450.1 385.9 L451.3 385.6 L451.8 383.5 L452.4 382.2 L454.8 381.2 L455.9 381.5 L457.7 381.9 L459.7 381.9 L458.6 383.8 L458.3 385.6 L460.0 387.0 L461.8 388.4 L463.5 389.7 L464.5 388.7 L465.3 385.9 L465.4 382.8 L466.4 379.8 L467.6 382.4 L468.0 384.9 L469.7 385.9 L470.0 388.0 L470.9 391.6 L473.8 393.7 L475.2 396.1 L476.4 397.9 L478.7 400.5 L479.3 404.3 L478.7 408.5 L477.5 410.9 L476.4 412.8 L475.2 416.3 L475.0 417.8 L472.3 418.4 L470.9 420.0 L468.8 418.7 L467.0 419.5 L464.7 418.5 L463.3 417.4 L462.9 415.3 L461.2 415.0 L461.8 413.5 L460.8 414.4 L459.8 414.6 L461.0 411.3 L458.9 413.9 L457.7 413.5 L456.7 411.1 L453.0 409.2 L449.5 409.9 L446.0 411.1 L444.2 412.6 L440.2 412.8 L437.8 414.2 L434.9 413.2 L434.3 412.0 L435.1 409.9 L434.3 407.1 L434.1 405.0 L432.6 402.2 L432.8 399.3 Z M357.5 381.7 L358.9 386.6 L358.1 388.7 L357.5 390.8 L356.6 393.7 L355.4 397.9 L354.9 400.0 L352.8 400.7 L351.3 399.8 L350.5 395.8 L351.7 393.0 L351.3 389.4 L353.7 387.0 L355.4 385.2 L356.0 383.8 Z M428.7 363.1 L436.1 363.1 L436.4 366.8 L436.1 368.9 L435.4 369.9 L433.7 370.4 L432.0 369.2 L430.5 368.9 L428.7 368.8 L428.5 366.8 Z M457.1 369.6 L457.7 369.4 L460.6 367.2 L463.5 368.1 L466.4 369.2 L469.4 371.1 L471.1 372.9 L471.1 375.3 L468.2 375.7 L464.7 375.3 L461.8 375.3 L461.2 373.9 L458.9 371.2 Z" fill="#aaa"/><path d="M368.1 300.4 L369.5 299.3 L371.4 298.6 L371.8 300.4 L370.6 301.9 L368.9 302.5 Z M170.2 281.6 L173.7 280.6 L176.7 281.0 L172.6 281.9 Z M421.2 291.8 L423.2 291.2 L426.1 289.1 L428.2 285.8 L427.5 285.8 L425.0 289.1 L422.0 290.9 Z M385.8 299.4 L387.6 298.8 L389.9 299.0 L392.5 298.7 L391.7 299.4 L388.2 299.7 L386.4 300.4 Z M202.5 305.8 L204.7 306.0 L206.5 305.2 L207.7 304.2 L206.5 304.5 L204.7 304.5 L202.9 305.3 Z M153.9 272.8 L156.2 270.7 L160.9 270.0 L162.6 271.0 L160.3 272.1 L158.5 273.0 L156.2 272.4 Z M163.2 278.5 L166.7 276.4 L172.6 275.9 L170.2 276.8 L165.0 278.5 Z M201.2 299.8 L202.4 299.8 L204.7 300.0 L205.9 300.7 L206.5 301.8 L204.9 302.1 L204.5 303.6 L203.5 303.9 L203.2 302.5 L202.4 302.5 L202.6 301.1 L201.2 300.4 Z M335.0 279.9 L336.2 280.0 L338.3 278.9 L337.3 277.8 L335.6 278.1 L335.0 279.2 Z M340.2 378.3 L340.7 378.8 L341.1 385.2 L340.5 384.9 L340.0 381.0 Z M197.3 305.3 L197.7 305.9 L198.5 305.8 L199.1 304.6 L199.1 302.5 L199.9 301.1 L200.8 300.0 L200.0 299.8 L198.9 300.0 L197.7 301.1 L197.1 301.8 L197.6 303.2 Z M340.2 278.5 L342.0 278.2 L342.4 277.1 L340.8 275.9 L340.2 276.8 Z M206.7 303.5 L208.2 303.4 L210.8 303.2 L210.9 302.4 L209.4 302.5 L207.2 302.9 Z M192.3 298.7 L194.2 298.8 L196.5 298.3 L197.7 299.0 L200.6 298.6 L201.1 299.0 L200.8 297.6 L199.4 296.2 L196.5 296.2 L195.4 296.9 L193.8 297.8 Z M334.1 369.4 L334.5 369.6 L335.6 373.9 L336.2 377.0 L335.7 377.0 L334.4 373.9 L333.9 371.1 Z M218.1 386.3 L219.0 386.6 L219.7 387.6 L219.1 387.7 L218.1 387.0 Z M337.0 366.1 L338.5 364.3 L339.7 365.1 L339.7 366.1 L339.1 368.2 L337.3 368.5 L336.9 366.8 Z M186.6 293.3 L187.4 291.9 L186.0 290.5 L184.8 288.7 L184.3 289.1 L186.0 291.9 Z M357.2 299.0 L359.5 298.3 L361.9 298.6 L361.9 300.7 L359.9 301.8 L359.5 303.6 L361.3 305.3 L361.9 307.2 L362.4 308.9 L362.9 312.0 L360.7 312.8 L358.4 312.1 L357.2 311.0 L357.8 308.2 L357.2 306.0 L355.4 304.2 L355.4 302.5 L354.9 301.1 L355.4 299.7 Z M414.8 352.7 L416.8 355.5 L417.3 357.6 L418.0 359.8 L419.7 361.9 L420.9 362.9 L421.7 362.6 L420.9 360.5 L420.8 358.3 L419.4 355.9 L418.0 354.9 L417.1 353.0 L416.0 351.3 Z M445.2 308.2 L446.2 311.0 L447.8 311.7 L447.5 315.2 L447.8 316.1 L449.5 315.5 L451.0 314.8 L451.3 313.1 L450.7 311.0 L449.5 309.6 L448.9 308.4 L450.1 307.5 L447.8 306.8 Z" fill="#fff"/><path d="M370 294h1v1h-1zM430 294h1v1h-1zM381 295h1v1h-1zM382 296h1v1h-1zM414 296h1v1h-1zM397 298h1v1h-1zM436 298h1v1h-1zM370 299h1v1h-1zM373 300h1v1h-1zM419 300h1v1h-1zM399 301h1v1h-1zM408 301h1v1h-1zM398 302h1v1h-1zM380 303h1v1h-1zM403 303h1v1h-1zM415 303h1v1h-1zM378 304h1v1h-1zM383 304h1v1h-1zM385 304h1v1h-1zM400 304h1v1h-1zM407 304h1v1h-1zM421 304h1v1h-1zM435 304h1v1h-1zM441 304h1v1h-1zM457 304h1v1h-1zM371 305h1v1h-1zM376 305h1v1h-1zM441 305h1v1h-1zM371 306h1v1h-1zM410 306h1v1h-1zM405 307h1v1h-1zM419 308h1v1h-1zM375 309h1v1h-1zM381 309h1v1h-1zM389 309h1v1h-1zM433 309h1v1h-1zM454 309h1v1h-1zM430 310h1v1h-1zM452 310h1v1h-1zM410 311h1v1h-1zM385 312h1v1h-1zM431 312h1v1h-1zM434 313h1v1h-1zM401 314h1v1h-1zM411 315h1v1h-1zM414 315h1v1h-1zM387 316h1v1h-1zM419 316h1v1h-1zM434 316h1v1h-1zM442 317h1v1h-1zM373 318h1v1h-1zM382 318h1v1h-1zM393 318h1v1h-1zM427 318h1v1h-1zM437 318h1v1h-1zM446 318h1v1h-1zM381 319h1v1h-1zM373 320h1v1h-1zM431 320h1v1h-1zM389 322h1v1h-1zM402 322h1v1h-1zM404 322h1v1h-1zM407 322h1v1h-1zM394 323h1v1h-1zM422 323h1v1h-1zM398 324h1v1h-1zM416 324h1v1h-1zM394 325h1v1h-1zM406 325h1v1h-1zM416 325h1v1h-1zM401 326h1v1h-1zM415 326h1v1h-1zM426 326h1v1h-1zM422 327h1v1h-1zM439 327h1v1h-1zM395 328h1v1h-1zM415 329h1v1h-1zM420 329h1v1h-1zM430 330h1v1h-1zM424 332h1v1h-1zM431 332h1v1h-1zM430 333h1v1h-1zM413 334h1v1h-1zM406 335h1v1h-1zM411 335h1v1h-1zM415 335h1v1h-1zM419 335h1v1h-1zM423 335h1v1h-1zM423 338h1v1h-1zM416 342h1v1h-1zM295 322h1v1h-1zM329 322h1v1h-1zM285 323h1v1h-1zM304 323h1v1h-1zM306 323h1v1h-1zM329 323h1v1h-1zM285 324h1v1h-1zM308 324h1v1h-1zM309 324h1v1h-1zM288 325h1v1h-1zM294 325h1v1h-1zM328 328h1v1h-1zM329 328h1v1h-1zM317 329h1v1h-1zM285 331h1v1h-1zM300 331h1v1h-1zM339 333h1v1h-1zM292 335h1v1h-1zM298 335h1v1h-1zM327 335h1v1h-1zM330 335h1v1h-1zM317 337h1v1h-1zM329 338h1v1h-1zM328 341h1v1h-1zM332 341h1v1h-1zM302 344h1v1h-1zM321 344h1v1h-1zM328 344h1v1h-1zM314 346h1v1h-1zM328 346h1v1h-1zM308 347h1v1h-1zM323 348h1v1h-1zM332 348h1v1h-1zM328 349h1v1h-1zM322 351h1v1h-1zM309 353h1v1h-1zM308 354h1v1h-1zM307 355h1v1h-1zM320 356h1v1h-1zM339 357h1v1h-1zM345 357h1v1h-1zM338 358h1v1h-1zM343 359h1v1h-1zM322 360h1v1h-1zM318 361h1v1h-1zM330 366h1v1h-1zM322 372h1v1h-1zM315 373h1v1h-1zM322 373h1v1h-1zM324 374h1v1h-1zM317 377h1v1h-1zM317 380h1v1h-1zM327 380h1v1h-1zM334 382h1v1h-1zM328 383h1v1h-1zM334 388h1v1h-1zM331 389h1v1h-1zM329 393h1v1h-1zM324 397h1v1h-1zM335 399h1v1h-1zM332 404h1v1h-1zM230 356h1v1h-1zM217 357h1v1h-1zM234 357h1v1h-1zM219 359h1v1h-1zM233 359h1v1h-1zM221 360h1v1h-1zM210 361h1v1h-1zM217 361h1v1h-1zM211 363h1v1h-1zM231 364h1v1h-1zM229 365h1v1h-1zM210 366h1v1h-1zM243 366h1v1h-1zM210 369h1v1h-1zM235 370h1v1h-1zM208 371h1v1h-1zM226 372h1v1h-1zM207 373h1v1h-1zM235 374h1v1h-1zM212 375h1v1h-1zM214 375h1v1h-1zM221 375h1v1h-1zM222 375h1v1h-1zM244 375h1v1h-1zM235 376h1v1h-1zM234 377h1v1h-1zM254 378h1v1h-1zM213 379h1v1h-1zM230 381h1v1h-1zM232 382h1v1h-1zM234 382h1v1h-1zM231 383h1v1h-1zM247 385h1v1h-1zM245 386h1v1h-1zM228 388h1v1h-1zM244 389h1v1h-1zM241 394h1v1h-1zM236 396h1v1h-1zM218 397h1v1h-1zM223 398h1v1h-1zM228 403h1v1h-1zM221 406h1v1h-1zM231 406h1v1h-1zM229 409h1v1h-1zM234 410h1v1h-1zM218 411h1v1h-1zM229 415h1v1h-1zM219 426h1v1h-1z" fill="#fff" shape-rendering="crispEdges"/></g>
<g clip-path="url(#cm)">
<path d="M-264.5 295.4 L-232.0 295.4 L-232.0 294.9 L-231.5 295.7 L-229.4 296.0 L-227.7 296.7 L-225.4 296.9 M-208.0 301.1 L-204.3 301.1 L-203.7 300.7 L-202.9 299.8 L-202.5 298.7 L-201.6 297.7 L-200.4 297.8 L-200.0 298.1 L-200.0 300.1 L-199.3 300.8 M-285.5 266.3 L-285.5 279.5 L-283.2 279.9 L-281.4 281.3 L-279.1 280.2 L-276.7 282.0 L-274.4 284.8 L-272.6 285.7 L-272.6 287.0 M-257.6 318.8 L-254.8 318.5 L-250.6 320.4 L-247.2 320.4 L-247.2 319.8 L-245.2 319.8 L-243.4 321.3 L-242.8 322.7 L-241.3 323.7 L-240.5 322.6 L-238.8 322.7 L-237.9 324.4 L-237.0 325.8 L-236.4 327.2 L-234.3 328.1 M-265.6 299.3 L-264.5 299.5 L-262.1 300.2 L-259.8 299.8 L-257.3 299.7 M-257.5 295.4 L-257.5 299.1 L-257.3 299.7 L-256.9 300.4 L-257.5 302.1 L-257.5 305.3 M-265.9 305.3 L-250.5 305.3 M-256.3 295.4 L-256.3 297.0 L-255.7 297.6 L-254.5 298.8 L-253.9 300.4 L-252.8 301.8 L-251.6 301.8 L-250.5 301.8 M-250.5 301.1 L-250.5 306.8 L-240.0 306.8 M-250.5 301.1 L-242.3 301.1 M-242.3 295.4 L-242.3 306.8 M-242.3 299.8 L-233.6 299.8 M-234.3 295.4 L-233.8 297.6 L-233.6 299.8 L-233.5 303.2 L-233.6 304.6 M-242.3 303.9 L-235.8 303.9 L-233.6 304.6 L-232.9 306.0 L-232.7 307.3 L-232.1 308.2 L-240.0 308.2 L-240.0 306.8 M-254.0 305.3 L-254.0 312.4 L-254.8 313.8 L-254.6 315.2 M-261.0 305.3 L-261.0 309.6 L-254.6 315.2 L-254.5 317.4 L-254.8 318.5 M-254.0 312.4 L-240.0 312.4 L-231.3 312.4 M-248.2 306.8 L-248.2 320.4 M-240.0 306.8 L-240.0 312.4 M-241.1 312.4 L-241.1 319.5 L-245.3 319.5 L-245.2 319.8 M-241.1 313.1 L-237.6 313.1 L-237.6 315.9 L-235.2 316.6 L-232.9 316.9 L-231.2 317.2 L-230.6 317.3 L-230.6 318.1 L-227.3 318.1 M-231.3 312.4 L-231.3 309.4 L-232.1 308.2 M-232.7 307.3 L-227.5 307.3 M-233.5 303.2 L-227.3 303.2 M-228.2 298.7 L-228.6 299.5 L-229.2 300.4 L-229.2 301.5 L-227.3 303.2 L-227.2 304.6 L-226.1 305.6 L-227.1 306.5 L-227.5 307.3 L-227.1 308.9 L-226.1 309.9 L-225.3 312.0 L-225.0 312.4 L-225.3 313.1 L-225.5 313.8 L-226.1 315.2 L-227.1 316.6 L-227.3 318.1 L-227.8 320.9 L-225.5 320.9 L-225.4 322.0 M-231.3 313.1 L-226.0 313.1 L-225.9 313.8 L-225.5 313.8 M-231.3 313.1 L-231.2 317.2 M-230.6 318.1 L-230.6 320.9 L-230.2 322.3 L-230.3 322.7 M-226.4 298.8 L-223.6 300.0 L-223.1 301.0 M-226.6 304.6 L-223.3 304.6 M-223.0 305.8 L-223.0 308.9 L-223.1 310.3 L-223.6 311.3 M-225.0 312.4 L-224.1 312.3 L-223.6 311.3 L-221.8 311.0 L-220.6 310.3 L-219.8 309.4 L-218.3 310.1 L-217.3 310.4 L-216.3 309.6 L-215.4 309.0 L-214.9 307.3 M-223.0 305.7 L-219.8 305.7 L-218.3 305.7 M-219.8 305.8 L-219.8 309.4 M-214.8 305.3 L-214.8 308.6 L-209.3 308.6 M-213.9 305.3 L-208.8 305.3 L-208.4 306.2 L-208.0 306.3 L-208.5 307.3 L-208.1 307.9 L-209.0 308.4 M-217.3 310.4 L-216.6 311.7 L-216.4 311.7 L-214.6 311.7 L-214.2 310.3 L-213.0 309.3 L-211.6 309.2 M-213.6 308.6 L-213.6 309.3 L-211.9 308.7 L-211.5 309.2 L-210.7 309.9 L-209.9 311.0 M-225.3 313.1 L-209.4 313.0 M-216.6 311.7 L-218.5 313.0 M-226.3 315.2 L-217.8 315.2 M-219.2 315.2 L-218.3 314.5 L-216.6 313.8 L-216.2 313.0 M-223.8 315.2 L-224.0 321.7 M-220.8 315.2 L-220.2 319.5 L-220.1 320.9 M-223.1 321.9 L-223.1 320.9 L-220.1 320.9 L-219.9 321.3 L-216.8 321.5 L-216.0 321.3 M-217.8 315.2 L-216.6 316.9 L-215.4 319.3 M-217.8 315.2 L-217.1 315.0 L-215.3 315.1 L-214.2 315.5 L-212.6 316.8 M-206.4 301.1 L-206.5 303.1 L-206.3 304.3 L-206.6 305.3 L-206.7 306.6 M-204.3 301.1 L-205.5 303.2 L-205.4 304.3 M-206.3 304.3 L-203.7 304.3 M-203.8 300.7 L-203.3 303.8 M-206.6 305.3 L-204.2 305.3 M-204.6 305.3 L-204.6 306.3 M-208.0 306.3 L-207.2 306.8 M-209.3 308.6 L-209.2 310.4 L-208.4 310.4 M-228.5 344.2 L-228.5 343.1 L-227.5 341.9 L-226.4 341.9 L-226.4 340.3 L-224.9 339.5 L-224.9 342.2 M-226.0 345.3 L-225.2 344.3 L-225.0 344.1 L-223.8 342.5 M-225.2 344.3 L-223.3 345.1 L-223.3 345.8 M-222.4 346.3 L-221.2 344.9 L-220.1 344.2 L-218.0 343.5 M-220.9 349.0 L-218.9 349.3 L-218.5 349.3 M-217.6 353.3 L-217.3 351.3 M-211.8 354.5 L-211.2 352.5 M-204.0 348.0 L-205.5 349.2 L-206.0 351.7 L-205.5 353.4 L-205.3 354.2 L-202.5 354.8 L-201.9 355.9 L-199.6 355.9 L-200.0 358.3 L-199.4 361.9 L-198.9 363.0 L-201.9 363.1 L-201.8 366.3 L-202.4 370.6 M-198.9 363.0 L-195.5 361.9 L-194.8 359.2 L-191.8 358.6 L-190.8 357.4 L-192.4 355.5 L-191.7 353.7 L-190.8 352.7 M-190.8 357.4 L-190.5 359.0 L-190.3 361.9 L-188.5 362.6 L-186.8 362.0 L-183.8 361.6 L-182.1 361.4 L-181.0 358.8 M-186.8 362.0 L-187.6 356.2 M-183.8 361.6 L-183.8 356.6 M-213.0 362.9 L-211.2 363.6 L-208.7 364.8 L-206.6 366.8 L-202.5 368.0 L-202.4 370.6 M-208.7 364.8 L-209.0 366.8 L-211.9 368.9 L-212.5 371.8 L-214.2 370.4 L-214.6 369.5 M-202.4 370.6 L-206.0 371.8 L-206.6 374.6 L-205.5 378.1 L-203.1 378.1 L-203.2 380.2 L-202.1 380.1 L-201.0 382.4 L-201.4 385.9 L-201.9 388.0 L-201.9 389.4 L-203.0 390.6 M-202.1 380.1 L-200.2 379.8 L-197.9 378.6 L-197.0 379.5 L-196.7 381.7 L-194.4 382.4 L-192.0 383.8 L-191.1 385.9 L-189.0 387.7 L-188.5 389.4 L-187.9 390.4 L-188.5 392.7 L-189.7 392.0 L-192.8 393.0 L-193.5 395.1 L-193.9 396.1 L-196.1 396.5 L-197.6 395.9 L-199.0 396.9 L-200.2 395.1 L-200.8 392.3 L-201.9 389.4 M-199.0 396.9 L-200.5 399.3 L-200.8 402.9 L-202.2 405.7 L-202.5 411.3 L-203.1 414.9 L-203.7 417.7 L-204.3 421.2 L-204.6 425.5 L-204.5 428.3 L-204.9 431.8 L-206.6 434.7 L-205.5 436.8 L-204.8 438.2 L-201.9 438.5 M-188.5 392.7 L-188.3 395.9 L-185.8 396.2 L-185.2 398.6 L-184.2 398.8 L-184.5 400.9 M-193.9 396.1 L-190.8 398.3 L-188.5 400.3 L-188.0 403.3 L-185.9 403.4 L-184.5 400.9 M-184.5 400.9 L-183.6 403.0 L-186.2 404.8 L-188.0 407.4 L-186.2 408.5 L-183.2 410.6 L-183.1 412.3 M-188.0 407.4 L-188.6 409.9 L-189.0 412.6 M-122.8 315.2 L-122.7 318.1 L-125.1 320.0 L-130.9 324.1 L-130.9 325.6 L-136.2 325.6 M-130.9 325.6 L-130.9 328.0 L-134.8 328.0 L-134.8 331.5 L-135.9 334.6 L-140.6 334.6 M-130.9 326.1 L-126.3 329.4 L-119.3 335.0 L-115.8 337.6 M-126.3 329.4 L-127.7 334.6 L-127.2 341.4 L-134.2 342.8 L-135.0 343.9 L-140.0 341.8 M-135.0 343.9 L-134.1 347.2 L-140.2 347.2 M-136.7 346.8 L-138.3 349.3 M-134.1 347.2 L-131.3 347.2 L-130.4 349.2 L-130.7 350.3 L-129.5 353.0 L-130.7 354.0 L-132.8 352.7 L-132.8 351.1 L-136.2 352.0 M-132.8 352.7 L-134.1 354.9 M-130.7 354.0 L-129.5 358.5 M-130.4 350.1 L-127.2 350.0 L-123.9 351.3 L-124.5 357.5 M-123.9 351.3 L-124.1 349.2 L-120.7 349.2 L-119.3 356.1 M-119.7 349.2 L-118.9 355.9 M-116.5 348.2 L-117.6 355.7 M-127.2 350.0 L-127.0 348.0 L-125.8 346.0 L-123.1 344.2 L-120.5 343.6 L-118.2 346.9 L-117.9 347.9 L-116.5 348.2 M-120.5 343.6 L-116.6 342.9 L-115.8 341.5 L-115.8 337.6 L-113.7 337.1 L-106.7 331.5 L-107.3 330.4 L-109.0 328.0 L-109.6 322.0 L-109.6 319.5 L-111.0 315.9 L-110.7 312.5 M-109.6 322.0 L-108.7 320.2 L-107.3 317.8 M-106.7 331.5 L-104.4 332.2 L-103.2 332.2 L-92.7 337.1 L-92.7 336.4 L-91.5 336.4 L-91.5 333.6 L-77.7 333.6 M-91.5 320.0 L-91.5 333.6 M-103.2 332.2 L-102.6 335.7 L-105.0 344.9 M-116.5 348.2 L-116.1 345.6 L-112.6 346.3 L-109.0 345.9 L-105.0 345.3 L-104.1 347.7 L-105.0 350.6 L-106.7 353.4 L-107.9 355.5 L-109.6 356.2 L-110.7 358.3 M-104.1 347.7 L-103.2 350.6 L-102.6 354.1 L-99.1 352.3 L-95.0 349.4 L-94.4 349.4 M-92.7 337.1 L-94.4 343.5 L-95.0 347.0 L-94.4 349.4 L-92.7 352.7 L-88.6 357.4 M-102.6 354.1 L-103.8 357.6 L-102.0 361.6 L-99.7 359.8 L-97.9 357.6 L-94.4 358.8 L-90.9 357.2 L-88.6 357.4 L-84.7 359.8 L-81.1 359.3 L-78.8 358.2 M-109.3 361.4 L-107.5 361.6 L-105.3 361.6 L-102.0 361.6 M-107.5 361.6 L-107.5 363.3 L-109.5 363.3 M-105.3 361.6 L-104.4 363.3 L-103.8 367.8 L-106.7 368.9 L-107.6 370.4 M-99.7 359.8 L-100.3 364.7 L-101.8 367.8 L-102.9 370.8 L-106.5 371.8 M-106.4 373.2 L-102.0 374.6 L-100.1 376.0 L-97.9 374.6 L-95.3 375.0 L-95.0 380.5 L-92.7 380.2 L-92.1 383.1 L-89.2 381.7 L-86.8 383.6 L-86.1 381.9 L-87.5 377.7 L-84.9 376.4 M-106.9 389.2 L-105.1 388.7 L-99.1 389.3 L-96.2 390.1 L-93.3 389.6 L-91.2 389.9 M-95.0 380.5 L-92.7 383.1 L-95.0 383.1 L-95.0 387.6 L-93.3 389.6 M-96.2 390.1 L-96.2 395.8 L-97.4 395.8 L-97.4 399.8 L-97.4 404.8 L-101.5 405.1 M-97.4 399.8 L-94.4 400.7 L-90.9 401.0 L-89.2 398.1 L-86.5 396.1 L-84.2 396.4 L-83.3 400.0 L-82.3 402.7 M-91.2 389.9 L-90.4 392.3 L-88.6 394.4 L-86.5 396.1 M-91.2 389.9 L-88.0 388.0 L-85.2 386.7 L-82.3 388.3 L-82.5 391.6 L-82.8 394.4 L-84.2 396.4 M-85.2 386.7 L-85.4 385.8 L-81.9 384.5 L-81.6 384.5 L-79.8 388.6 L-79.5 385.9 L-80.2 381.0 M-73.5 379.5 L-76.9 381.0 L-80.0 381.0 M-84.9 376.4 L-82.2 378.1 M-74.9 371.3 L-76.7 368.9 L-81.0 366.1 M-86.3 370.9 L-86.1 366.7 L-86.3 363.3 L-84.5 361.4 L-84.7 359.8 M-86.1 366.7 L-85.1 366.1 L-84.5 366.1 M-81.0 358.8 L-79.8 362.6 L-81.0 364.7 M-78.8 358.2 L-75.2 359.8 L-72.8 359.2 L-72.8 367.1 M-72.8 359.2 L-69.3 357.8 L-64.9 353.4 L-69.3 352.0 L-70.7 349.2 M-78.8 358.2 L-81.0 354.8 L-80.9 352.7 L-80.4 349.9 L-78.1 344.5 L-76.3 344.3 L-74.0 344.2 L-71.1 347.0 M-78.1 344.5 L-77.5 340.7 L-75.6 339.3 M-93.3 352.0 L-89.2 351.1 L-85.7 350.6 L-82.8 347.5 L-80.9 351.3 M-89.2 405.7 L-88.0 405.1 L-86.4 406.1 L-87.4 407.8 L-88.6 407.1 L-89.2 405.7 M-122.8 303.4 L-120.7 304.4 L-119.0 304.6 L-117.0 304.8 M-131.0 305.3 L-130.3 305.2 L-128.3 305.8 L-128.8 306.8 L-128.9 308.9 L-129.3 310.3 L-129.5 312.1 M-117.8 292.5 L-117.2 292.9 L-115.8 293.6 L-115.1 294.0 L-114.0 294.7 L-113.3 294.7 L-112.6 295.2 L-111.2 295.4 L-111.9 297.4 M-111.9 297.4 L-112.6 297.6 L-113.7 299.0 L-112.8 299.7 L-112.6 300.7 L-113.0 301.4 L-112.0 302.8 M-111.9 297.4 L-109.6 297.4 L-109.5 298.1 L-108.5 298.4 L-108.8 299.3 L-110.2 300.0 L-111.4 299.7 L-112.6 299.8 L-113.7 299.3 M-109.5 297.6 L-105.5 297.6 L-105.5 296.4 L-104.6 295.7 L-106.6 293.6 L-103.4 292.6 L-103.7 290.4 L-104.0 288.5 M-113.6 293.9 L-113.7 292.9 L-112.6 290.8 L-112.3 289.4 M-116.8 292.1 L-114.0 292.3 M-110.7 287.1 L-109.2 287.2 M-108.5 298.4 L-106.7 298.3 L-104.7 299.0 L-102.0 298.7 M-104.6 295.7 L-103.2 295.4 L-101.0 296.0 L-100.8 296.9 L-101.5 297.6 L-102.0 298.7 M-104.7 299.0 L-104.8 300.3 M-104.8 300.4 L-102.6 300.0 L-101.5 299.0 M-101.9 298.4 L-100.8 296.9 L-98.8 297.1 L-96.8 296.2 L-94.8 296.3 L-94.1 297.1 L-95.6 299.3 L-97.1 299.5 L-98.8 299.8 L-100.3 299.8 L-101.5 299.0 M-103.4 292.6 L-101.5 293.5 L-99.7 294.0 L-97.9 294.7 L-94.4 295.3 M-101.0 296.0 L-99.9 295.4 L-98.8 294.7 M-94.8 296.3 L-94.4 295.3 L-92.7 293.3 L-93.2 291.9 L-93.3 290.5 L-92.8 288.5 L-94.1 287.8 L-97.8 287.8 M-97.1 299.5 L-95.6 301.4 L-94.2 302.1 L-91.5 302.9 L-89.2 302.4 L-87.3 302.9 M-94.1 297.1 L-92.1 297.0 L-89.7 296.6 L-87.8 299.0 L-87.8 300.4 L-86.0 300.8 M-89.7 296.6 L-88.0 296.4 L-86.3 297.8 L-85.7 299.0 L-87.8 300.4 M-94.6 302.5 L-94.4 304.6 L-93.9 306.2 L-90.4 305.8 L-88.0 305.3 M-98.5 299.8 L-98.2 301.2 L-97.9 303.2 L-97.4 304.4 L-96.2 305.1 L-94.7 304.9 M-102.3 300.8 L-98.5 301.1 L-98.2 303.2 L-99.1 304.6 L-100.3 303.9 L-101.8 302.2 L-102.3 300.8 M-98.1 304.5 L-96.8 305.3 L-96.4 306.9 L-97.0 308.6 M-96.8 305.1 L-94.7 304.9 L-93.9 306.2 L-96.4 306.9 M-97.0 308.6 L-96.2 306.9 L-93.9 306.2 L-90.0 305.8 L-90.4 307.0 M-90.0 305.8 L-88.0 305.3 M-72.1 306.0 L-69.9 306.6 L-69.3 308.2 L-68.4 308.6 L-69.0 312.1 M-78.4 312.8 L-78.0 313.5 L-77.5 312.8 L-74.0 312.7 L-71.2 312.3 L-69.0 312.1 M-71.2 312.3 L-72.5 313.1 L-72.8 315.9 L-75.4 317.5 M-78.8 315.8 L-78.1 315.9 L-78.7 317.4 L-78.9 318.5 L-75.4 317.5 M-75.4 317.5 L-74.8 319.2 L-77.5 320.2 L-76.3 321.6 L-76.9 322.3 L-79.8 323.1 M-79.1 317.8 L-79.3 320.2 L-79.8 323.0 M-80.8 320.5 L-80.0 323.0 M-75.4 317.5 L-72.8 319.5 L-68.5 323.4 L-66.4 323.6 L-65.0 324.4 M-69.0 312.1 L-67.6 314.1 L-67.0 315.2 L-67.6 316.6 L-64.9 318.8 L-64.6 321.6 L-63.9 322.4 M-65.0 324.4 L-65.2 323.7 L-66.4 323.6 M-70.7 341.5 L-68.7 340.1 L-65.8 340.8 L-63.5 338.4 L-60.0 337.8 L-55.6 333.6 L-56.2 332.6 L-59.3 332.3 L-60.4 330.1 M-60.0 337.8 L-58.7 341.2 M-56.2 332.6 L-55.3 330.8 L-54.9 329.4 M-57.8 312.0 L-56.5 311.1 L-54.1 310.7 L-51.2 311.7 L-49.5 313.0 L-49.2 314.4 L-50.0 316.6 L-49.6 320.2 L-48.6 320.5 L-48.9 322.6 L-49.6 322.6 L-47.7 324.7 L-47.4 326.3 L-46.9 327.1 L-48.8 329.1 M-68.4 308.6 L-66.4 309.7 L-64.6 309.6 L-64.1 310.3 L-63.6 310.4 M-74.0 303.4 L-71.7 303.5 L-69.3 304.4 L-66.4 305.5 L-64.1 305.6 M-69.9 306.6 L-68.2 306.5 L-66.4 305.5 M-49.2 314.4 L-47.1 314.1 L-45.4 313.4 L-43.0 311.8 L-41.3 312.4 L-38.9 311.7 L-37.2 311.1 L-33.2 312.1 M-33.7 312.4 L-37.2 313.1 L-37.8 315.9 L-39.5 316.9 L-39.5 320.2 L-43.0 322.4 L-47.7 323.1 L-49.6 322.6 M-29.8 314.5 L-31.9 315.9 L-33.7 318.1 L-33.6 320.9 L-35.0 322.4 L-37.8 325.3 L-38.9 327.2 L-38.4 328.4 L-39.5 330.4 L-41.0 331.2 M-29.8 314.5 L-27.8 318.8 L-28.7 320.5 L-27.1 321.9 L-26.1 322.0 L-22.6 324.4 L-20.2 325.3 L-17.8 325.3 L-17.0 326.1 L-13.2 325.8 L-10.3 323.4 L-8.6 323.1 L-7.0 324.8 M-27.1 321.9 L-27.3 324.0 L-24.9 325.8 L-22.6 326.0 L-20.2 327.1 L-17.8 327.2 L-17.8 325.3 M-17.9 334.0 L-17.1 330.4 L-17.8 330.1 L-16.7 328.0 L-15.6 329.1 L-12.9 329.2 L-13.2 330.6 L-13.8 332.2 L-12.6 334.6 M-12.9 335.4 L-12.1 333.6 L-11.5 330.8 L-10.2 329.4 L-9.5 327.2 L-7.0 324.8 L-5.6 325.8 L-5.4 328.2 L-6.5 330.8 L-4.5 333.5 L-2.5 334.5 M-2.5 334.5 L-3.8 335.9 L-6.2 338.6 L-6.8 340.0 L-5.6 342.1 L-5.6 344.9 L-4.8 347.7 L-5.4 350.6 M-3.8 335.9 L-2.7 337.1 L-2.5 339.5 L-1.0 339.4 L0.8 340.0 L1.7 342.1 L2.5 344.5 L-0.4 344.5 L-1.2 345.5 L-0.5 348.2 M-2.5 334.5 L-1.8 333.0 L-0.4 334.0 L0.8 335.3 L1.7 337.3 L3.7 340.0 L4.9 342.2 L5.0 344.2 L3.1 344.9 L3.7 347.7 L2.0 349.3 L1.4 350.0 M2.5 344.5 L3.1 344.9 M-0.4 332.8 L1.4 332.5 L3.7 333.0 L5.5 334.3 M-1.8 333.0 L-0.4 332.8 M-18.1 295.2 L-14.4 299.7 L-14.6 301.1 L-9.7 302.2 L-7.4 304.2 L-2.7 304.5 L2.0 305.9 L7.8 304.6 L9.9 303.1 L13.1 301.4 L16.6 299.0 L19.3 298.3 L17.2 296.9 L15.6 294.3 M15.6 294.3 L16.9 294.7 L18.9 293.6 L20.1 290.5 L23.0 289.1 L26.5 290.1 L28.3 294.3 L31.8 295.6 L36.7 296.4 L34.7 301.1 L32.3 301.2 L32.7 303.9 L31.9 304.8 M-18.1 295.2 L-15.6 293.3 L-12.6 292.9 L-9.7 294.0 L-6.2 293.6 L-6.2 291.5 L-1.5 291.9 L3.1 293.6 L6.1 295.0 L10.1 294.6 L13.1 293.6 L15.6 294.3 M-18.1 295.2 L-20.2 296.2 L-20.8 298.3 L-23.7 298.0 L-24.3 300.4 L-27.3 301.1 L-26.9 303.9 L-27.0 305.3 L-30.8 306.8 L-33.1 307.5 L-34.5 308.9 L-33.2 312.1 L-31.9 313.1 L-29.8 314.5 M24.6 308.2 L26.5 306.8 L29.1 305.5 L30.6 304.8 L31.9 304.8 M26.6 311.4 L27.7 311.0 L29.3 310.1 M-19.1 295.4 L-21.4 294.0 L-23.7 292.6 L-27.3 292.9 L-30.8 289.1 L-35.4 288.4 L-38.9 286.7 L-41.3 287.2 L-44.8 287.7 L-49.5 288.7 L-49.5 291.2 L-53.0 292.6 L-56.5 293.2 L-61.1 291.9 L-64.6 294.7 L-66.4 296.2 L-65.8 298.3 L-64.1 299.0 M-27.0 305.3 L-31.9 303.9 L-34.8 304.6 L-37.8 304.2 L-40.1 306.2 L-43.0 305.3 L-43.6 303.9 L-48.3 303.2 L-52.4 300.4 L-55.3 301.1 L-55.3 306.3 L-56.5 306.0 L-58.8 305.2 M-55.3 306.3 L-52.4 304.6 L-50.6 305.1 L-48.9 306.5 L-45.9 308.9 L-43.0 311.8 M-34.5 308.9 L-37.2 308.9 L-39.5 308.2 L-40.7 310.3 L-41.5 312.0 M-40.1 306.2 L-37.8 306.8 L-35.4 307.5 L-34.5 308.9 M-74.0 297.1 L-73.8 294.7 L-76.3 294.0 L-79.3 293.3 L-80.4 291.9 L-81.6 290.8 L-83.6 291.1 M-93.2 291.9 L-89.2 291.8 L-85.1 292.2 L-83.6 291.1 L-84.5 289.1 L-82.8 288.4 L-84.5 286.3 L-87.8 285.4 M-93.3 288.5 L-92.1 288.5 L-90.4 288.1 L-89.7 286.7 L-87.8 285.4 M-96.2 285.4 L-93.9 285.1 L-91.5 285.3 L-89.7 286.0 M-92.3 282.9 L-90.4 283.0 L-88.7 283.4 L-88.0 284.8 L-87.8 285.4 M-88.7 283.4 L-88.5 282.7 L-88.6 281.3 L-88.0 280.6 M-88.2 279.2 L-86.8 277.8 L-84.5 276.4 L-85.7 274.2 L-86.3 271.4 L-85.7 269.0 L-87.4 267.9 L-87.1 267.2 L-84.7 266.0 M-92.7 271.7 L-93.0 270.6 L-93.3 268.6 L-96.8 267.0 L-95.6 266.8 L-91.5 267.7 L-89.8 265.9 L-87.4 267.2 M-107.4 281.5 L-106.1 279.2 L-106.5 277.4 L-106.7 275.0 L-103.8 272.8 L-102.0 270.0 L-99.1 267.9 L-96.8 267.0 M-3.6 355.5 L-2.7 356.2 L-1.4 355.9 M7.3 361.9 L9.0 363.3 L11.3 363.0 L13.1 362.6 L14.2 360.5 L14.8 358.6 L16.8 358.8 M44.0 368.4 L44.0 374.5 L44.0 377.6 M156.2 295.4 L188.7 295.4 L188.7 294.9 L189.2 295.7 L191.3 296.0 L193.0 296.7 L195.2 296.9 M212.6 301.1 L216.4 301.1 L217.0 300.7 L217.8 299.8 L218.1 298.7 L219.1 297.7 L220.2 297.8 L220.7 298.1 L220.7 300.1 L221.4 300.8 M135.2 266.3 L135.2 279.5 L137.5 279.9 L139.3 281.3 L141.6 280.2 L143.9 282.0 L146.3 284.8 L148.0 285.7 L148.0 287.0 M163.1 318.8 L165.9 318.5 L170.1 320.4 L173.5 320.4 L173.5 319.8 L175.5 319.8 L177.2 321.3 L177.8 322.7 L179.3 323.7 L180.2 322.6 L181.9 322.7 L182.7 324.4 L183.7 325.8 L184.3 327.2 L186.4 328.1 M155.0 299.3 L156.2 299.5 L158.5 300.2 L160.9 299.8 L163.3 299.7 M163.2 295.4 L163.2 299.1 L163.3 299.7 L163.8 300.4 L163.2 302.1 L163.2 305.3 M154.8 305.3 L170.2 305.3 M164.3 295.4 L164.3 297.0 L165.0 297.6 L166.1 298.8 L166.7 300.4 L167.9 301.8 L169.1 301.8 L170.2 301.8 M170.2 301.1 L170.2 306.8 L180.7 306.8 M170.2 301.1 L178.3 301.1 M178.3 295.4 L178.3 306.8 M178.3 299.8 L187.1 299.8 M186.4 295.4 L186.8 297.6 L187.1 299.8 L187.2 303.2 L187.1 304.6 M178.3 303.9 L184.8 303.9 L187.1 304.6 L187.8 306.0 L188.0 307.3 L188.6 308.2 L180.7 308.2 L180.7 306.8 M166.7 305.3 L166.7 312.4 L165.9 313.8 L166.0 315.2 M159.7 305.3 L159.7 309.6 L166.0 315.2 L166.1 317.4 L165.9 318.5 M166.7 312.4 L180.7 312.4 L189.4 312.4 M172.5 306.8 L172.5 320.4 M180.7 306.8 L180.7 312.4 M179.6 312.4 L179.6 319.5 L175.4 319.5 L175.5 319.8 M179.6 313.1 L183.1 313.1 L183.1 315.9 L185.4 316.6 L187.8 316.9 L189.5 317.2 L190.0 317.3 L190.0 318.1 L193.4 318.1 M189.4 312.4 L189.4 309.4 L188.6 308.2 M188.0 307.3 L193.1 307.3 M187.2 303.2 L193.4 303.2 M192.4 298.7 L192.1 299.5 L191.5 300.4 L191.5 301.5 L193.4 303.2 L193.5 304.6 L194.5 305.6 L193.6 306.5 L193.1 307.3 L193.6 308.9 L194.5 309.9 L195.4 312.0 L195.7 312.4 L195.4 313.1 L195.1 313.8 L194.5 315.2 L193.6 316.6 L193.4 318.1 L192.9 320.9 L195.1 320.9 L195.2 322.0 M189.4 313.1 L194.6 313.1 L194.8 313.8 L195.1 313.8 M189.4 313.1 L189.5 317.2 M190.0 318.1 L190.0 320.9 L190.4 322.3 L190.3 322.7 M194.3 298.8 L197.1 300.0 L197.6 301.0 M194.1 304.6 L197.3 304.6 M197.7 305.8 L197.7 308.9 L197.6 310.3 L197.1 311.3 M195.7 312.4 L196.5 312.3 L197.1 311.3 L198.9 311.0 L200.0 310.3 L200.8 309.4 L202.4 310.1 L203.4 310.4 L204.3 309.6 L205.3 309.0 L205.8 307.3 M197.7 305.7 L200.8 305.7 L202.4 305.7 M200.8 305.8 L200.8 309.4 M205.8 305.3 L205.8 308.6 L211.4 308.6 M206.7 305.3 L211.8 305.3 L212.3 306.2 L212.6 306.3 L212.2 307.3 L212.5 307.9 L211.7 308.4 M203.4 310.4 L204.1 311.7 L204.2 311.7 L206.1 311.7 L206.5 310.3 L207.6 309.3 L209.0 309.2 M207.0 308.6 L207.0 309.3 L208.8 308.7 L209.1 309.2 L210.0 309.9 L210.8 311.0 M195.4 313.1 L211.2 313.0 M204.1 311.7 L202.1 313.0 M194.4 315.2 L202.8 315.2 M201.4 315.2 L202.4 314.5 L204.1 313.8 L204.5 313.0 M196.9 315.2 L196.6 321.7 M199.9 315.2 L200.5 319.5 L200.6 320.9 M197.6 321.9 L197.6 320.9 L200.6 320.9 L200.7 321.3 L203.9 321.5 L204.7 321.3 M202.8 315.2 L204.1 316.9 L205.3 319.3 M202.8 315.2 L203.5 315.0 L205.4 315.1 L206.5 315.5 L208.1 316.8 M214.3 301.1 L214.2 303.1 L214.3 304.3 L214.0 305.3 L213.9 306.6 M216.4 301.1 L215.2 303.2 L215.3 304.3 M214.3 304.3 L217.0 304.3 M216.9 300.7 L217.3 303.8 M214.0 305.3 L216.5 305.3 M216.0 305.3 L216.0 306.3 M212.6 306.3 L213.5 306.8 M211.4 308.6 L211.4 310.4 L212.2 310.4 M192.2 344.2 L192.2 343.1 L193.1 341.9 L194.3 341.9 L194.3 340.3 L195.8 339.5 L195.8 342.2 M194.6 345.3 L195.5 344.3 L195.7 344.1 L196.9 342.5 M195.5 344.3 L197.3 345.1 L197.3 345.8 M198.3 346.3 L199.4 344.9 L200.6 344.2 L202.7 343.5 M199.8 349.0 L201.8 349.3 L202.1 349.3 M203.1 353.3 L203.4 351.3 M208.9 354.5 L209.5 352.5 M216.6 348.0 L215.2 349.2 L214.6 351.7 L215.2 353.4 L215.3 354.2 L218.1 354.8 L218.7 355.9 L221.1 355.9 L220.7 358.3 L221.3 361.9 L221.8 363.0 L218.7 363.1 L218.8 366.3 L218.3 370.6 M221.8 363.0 L225.1 361.9 L225.8 359.2 L228.9 358.6 L229.8 357.4 L228.3 355.5 L229.0 353.7 L229.8 352.7 M229.8 357.4 L230.2 359.0 L230.4 361.9 L232.2 362.6 L233.9 362.0 L236.8 361.6 L238.6 361.4 L239.6 358.8 M233.9 362.0 L233.1 356.2 M236.8 361.6 L236.8 356.6 M207.6 362.9 L209.5 363.6 L211.9 364.8 L214.0 366.8 L218.1 368.0 L218.3 370.6 M211.9 364.8 L211.7 366.8 L208.8 368.9 L208.2 371.8 L206.5 370.4 L206.1 369.5 M218.3 370.6 L214.6 371.8 L214.0 374.6 L215.2 378.1 L217.6 378.1 L217.4 380.2 L218.6 380.1 L219.7 382.4 L219.3 385.9 L218.7 388.0 L218.7 389.4 L217.7 390.6 M218.6 380.1 L220.5 379.8 L222.8 378.6 L223.6 379.5 L224.0 381.7 L226.3 382.4 L228.7 383.8 L229.6 385.9 L231.7 387.7 L232.2 389.4 L232.7 390.4 L232.2 392.7 L231.0 392.0 L227.8 393.0 L227.1 395.1 L226.8 396.1 L224.6 396.5 L223.0 395.9 L221.6 396.9 L220.5 395.1 L219.9 392.3 L218.7 389.4 M221.6 396.9 L220.1 399.3 L219.9 402.9 L218.5 405.7 L218.1 411.3 L217.6 414.9 L217.0 417.7 L216.4 421.2 L216.0 425.5 L216.2 428.3 L215.8 431.8 L214.0 434.7 L215.2 436.8 L215.9 438.2 L218.7 438.5 M232.2 392.7 L232.4 395.9 L234.8 396.2 L235.4 398.6 L236.5 398.8 L236.1 400.9 M226.8 396.1 L229.8 398.3 L232.2 400.3 L232.6 403.3 L234.7 403.4 L236.1 400.9 M236.1 400.9 L237.1 403.0 L234.5 404.8 L232.6 407.4 L234.5 408.5 L237.4 410.6 L237.5 412.3 M232.6 407.4 L232.0 409.9 L231.7 412.6 M297.8 315.2 L297.9 318.1 L295.6 320.0 L289.8 324.1 L289.8 325.6 L284.5 325.6 M289.8 325.6 L289.8 328.0 L285.9 328.0 L285.9 331.5 L284.7 334.6 L280.1 334.6 M289.8 326.1 L294.3 329.4 L301.3 335.0 L304.8 337.6 M294.3 329.4 L292.9 334.6 L293.5 341.4 L286.5 342.8 L285.7 343.9 L280.7 341.8 M285.7 343.9 L286.6 347.2 L280.4 347.2 M283.9 346.8 L282.4 349.3 M286.6 347.2 L289.4 347.2 L290.2 349.2 L290.0 350.3 L291.2 353.0 L290.0 354.0 L287.9 352.7 L287.9 351.1 L284.5 352.0 M287.9 352.7 L286.6 354.9 M290.0 354.0 L291.2 358.5 M290.2 350.1 L293.5 350.0 L296.8 351.3 L296.2 357.5 M296.8 351.3 L296.5 349.2 L299.9 349.2 L301.3 356.1 M301.0 349.2 L301.8 355.9 M304.1 348.2 L303.1 355.7 M293.5 350.0 L293.6 348.0 L294.9 346.0 L297.6 344.2 L300.2 343.6 L302.5 346.9 L302.7 347.9 L304.1 348.2 M300.2 343.6 L304.0 342.9 L304.8 341.5 L304.8 337.6 L306.9 337.1 L314.0 331.5 L313.4 330.4 L311.6 328.0 L311.0 322.0 L311.0 319.5 L309.6 315.9 L310.0 312.5 M311.0 322.0 L312.0 320.2 L313.4 317.8 M314.0 331.5 L316.3 332.2 L317.5 332.2 L328.0 337.1 L328.0 336.4 L329.1 336.4 L329.1 333.6 L342.9 333.6 M329.1 320.0 L329.1 333.6 M317.5 332.2 L318.0 335.7 L315.7 344.9 M304.1 348.2 L304.6 345.6 L308.1 346.3 L311.6 345.9 L315.7 345.3 L316.5 347.7 L315.7 350.6 L314.0 353.4 L312.8 355.5 L311.0 356.2 L310.0 358.3 M316.5 347.7 L317.5 350.6 L318.0 354.1 L321.6 352.3 L325.6 349.4 L326.2 349.4 M328.0 337.1 L326.2 343.5 L325.6 347.0 L326.2 349.4 L328.0 352.7 L332.1 357.4 M318.0 354.1 L316.9 357.6 L318.6 361.6 L321.0 359.8 L322.7 357.6 L326.2 358.8 L329.7 357.2 L332.1 357.4 L335.9 359.8 L339.5 359.3 L341.9 358.2 M311.4 361.4 L313.1 361.6 L315.4 361.6 L318.6 361.6 M313.1 361.6 L313.1 363.3 L311.2 363.3 M315.4 361.6 L316.3 363.3 L316.9 367.8 L314.0 368.9 L313.0 370.4 M321.0 359.8 L320.4 364.7 L318.9 367.8 L317.8 370.8 L314.2 371.8 M314.3 373.2 L318.6 374.6 L320.6 376.0 L322.7 374.6 L325.4 375.0 L325.6 380.5 L328.0 380.2 L328.6 383.1 L331.5 381.7 L333.8 383.6 L334.5 381.9 L333.1 377.7 L335.8 376.4 M313.7 389.2 L315.6 388.7 L321.6 389.3 L324.5 390.1 L327.4 389.6 L329.5 389.9 M325.6 380.5 L328.0 383.1 L325.6 383.1 L325.6 387.6 L327.4 389.6 M324.5 390.1 L324.5 395.8 L323.3 395.8 L323.3 399.8 L323.3 404.8 L319.2 405.1 M323.3 399.8 L326.2 400.7 L329.7 401.0 L331.5 398.1 L334.2 396.1 L336.5 396.4 L337.3 400.0 L338.4 402.7 M329.5 389.9 L330.3 392.3 L332.1 394.4 L334.2 396.1 M329.5 389.9 L332.7 388.0 L335.5 386.7 L338.4 388.3 L338.1 391.6 L337.9 394.4 L336.5 396.4 M335.5 386.7 L335.2 385.8 L338.7 384.5 L339.1 384.5 L340.8 388.6 L341.2 385.9 L340.5 381.0 M347.1 379.5 L343.8 381.0 L340.7 381.0 M335.8 376.4 L338.5 378.1 M345.7 371.3 L344.0 368.9 L339.7 366.1 M334.4 370.9 L334.5 366.7 L334.4 363.3 L336.2 361.4 L335.9 359.8 M334.5 366.7 L335.6 366.1 L336.2 366.1 M339.7 358.8 L340.8 362.6 L339.7 364.7 M341.9 358.2 L345.5 359.8 L347.8 359.2 L347.8 367.1 M347.8 359.2 L351.3 357.8 L355.8 353.4 L351.3 352.0 L349.9 349.2 M341.9 358.2 L339.7 354.8 L339.8 352.7 L340.2 349.9 L342.6 344.5 L344.3 344.3 L346.7 344.2 L349.6 347.0 M342.6 344.5 L343.2 340.7 L345.0 339.3 M327.4 352.0 L331.5 351.1 L335.0 350.6 L337.9 347.5 L339.8 351.3 M331.5 405.7 L332.7 405.1 L334.3 406.1 L333.2 407.8 L332.1 407.1 L331.5 405.7 M297.8 303.4 L299.9 304.4 L301.7 304.6 L303.7 304.8 M289.7 305.3 L290.4 305.2 L292.3 305.8 L291.9 306.8 L291.8 308.9 L291.4 310.3 L291.2 312.1 M302.9 292.5 L303.4 292.9 L304.8 293.6 L305.5 294.0 L306.7 294.7 L307.4 294.7 L308.1 295.2 L309.5 295.4 L308.8 297.4 M308.8 297.4 L308.1 297.6 L306.9 299.0 L307.9 299.7 L308.1 300.7 L307.6 301.4 L308.7 302.8 M308.8 297.4 L311.0 297.4 L311.2 298.1 L312.2 298.4 L311.9 299.3 L310.5 300.0 L309.3 299.7 L308.1 299.8 L306.9 299.3 M311.2 297.6 L315.1 297.6 L315.1 296.4 L316.1 295.7 L314.1 293.6 L317.2 292.6 L317.0 290.4 L316.6 288.5 M307.1 293.9 L306.9 292.9 L308.1 290.8 L308.3 289.4 M303.9 292.1 L306.7 292.3 M310.0 287.1 L311.5 287.2 M312.2 298.4 L314.0 298.3 L315.9 299.0 L318.6 298.7 M316.1 295.7 L317.5 295.4 L319.7 296.0 L319.9 296.9 L319.2 297.6 L318.6 298.7 M315.9 299.0 L315.8 300.3 M315.8 300.4 L318.0 300.0 L319.2 299.0 M318.7 298.4 L319.9 296.9 L321.9 297.1 L323.9 296.2 L325.9 296.3 L326.6 297.1 L325.1 299.3 L323.5 299.5 L321.9 299.8 L320.4 299.8 L319.2 299.0 M317.2 292.6 L319.2 293.5 L321.0 294.0 L322.7 294.7 L326.2 295.3 M319.7 296.0 L320.7 295.4 L321.9 294.7 M325.9 296.3 L326.2 295.3 L328.0 293.3 L327.5 291.9 L327.4 290.5 L327.9 288.5 L326.6 287.8 L322.8 287.8 M323.5 299.5 L325.1 301.4 L326.5 302.1 L329.1 302.9 L331.5 302.4 L333.4 302.9 M326.6 297.1 L328.6 297.0 L331.0 296.6 L332.9 299.0 L332.9 300.4 L334.6 300.8 M331.0 296.6 L332.7 296.4 L334.4 297.8 L335.0 299.0 L332.9 300.4 M326.1 302.5 L326.2 304.6 L326.8 306.2 L330.3 305.8 L332.7 305.3 M322.1 299.8 L322.5 301.2 L322.7 303.2 L323.3 304.4 L324.5 305.1 L326.0 304.9 M318.4 300.8 L322.1 301.1 L322.5 303.2 L321.6 304.6 L320.4 303.9 L318.9 302.2 L318.4 300.8 M322.6 304.5 L323.9 305.3 L324.2 306.9 L323.7 308.6 M323.9 305.1 L326.0 304.9 L326.8 306.2 L324.2 306.9 M323.7 308.6 L324.5 306.9 L326.8 306.2 L330.7 305.8 L330.3 307.0 M330.7 305.8 L332.7 305.3 M348.5 306.0 L350.8 306.6 L351.3 308.2 L352.3 308.6 L351.7 312.1 M342.2 312.8 L342.7 313.5 L343.2 312.8 L346.7 312.7 L349.5 312.3 L351.7 312.1 M349.5 312.3 L348.2 313.1 L347.8 315.9 L345.3 317.5 M341.9 315.8 L342.6 315.9 L342.0 317.4 L341.8 318.5 L345.3 317.5 M345.3 317.5 L345.9 319.2 L343.2 320.2 L344.3 321.6 L343.8 322.3 L340.8 323.1 M341.5 317.8 L341.4 320.2 L340.8 323.0 M339.9 320.5 L340.7 323.0 M345.3 317.5 L347.8 319.5 L352.2 323.4 L354.3 323.6 L355.7 324.4 M351.7 312.1 L353.1 314.1 L353.7 315.2 L353.1 316.6 L355.8 318.8 L356.0 321.6 L356.7 322.4 M355.7 324.4 L355.4 323.7 L354.3 323.6 M349.9 341.5 L351.9 340.1 L354.9 340.8 L357.2 338.4 L360.7 337.8 L365.0 333.6 L364.4 332.6 L361.4 332.3 L360.2 330.1 M360.7 337.8 L362.0 341.2 M364.4 332.6 L365.4 330.8 L365.7 329.4 M362.9 312.0 L364.2 311.1 L366.5 310.7 L369.5 311.7 L371.2 313.0 L371.4 314.4 L370.6 316.6 L371.1 320.2 L372.0 320.5 L371.8 322.6 L371.1 322.6 L373.0 324.7 L373.3 326.3 L373.8 327.1 L371.9 329.1 M352.3 308.6 L354.3 309.7 L356.0 309.6 L356.6 310.3 L357.1 310.4 M346.7 303.4 L349.0 303.5 L351.3 304.4 L354.3 305.5 L356.6 305.6 M350.8 306.6 L352.5 306.5 L354.3 305.5 M371.4 314.4 L373.6 314.1 L375.3 313.4 L377.6 311.8 L379.4 312.4 L381.7 311.7 L383.5 311.1 L387.5 312.1 M387.0 312.4 L383.5 313.1 L382.9 315.9 L381.1 316.9 L381.1 320.2 L377.6 322.4 L373.0 323.1 L371.1 322.6 M390.8 314.5 L388.7 315.9 L387.0 318.1 L387.1 320.9 L385.7 322.4 L382.9 325.3 L381.7 327.2 L382.3 328.4 L381.1 330.4 L379.6 331.2 M390.8 314.5 L392.8 318.8 L392.0 320.5 L393.5 321.9 L394.6 322.0 L398.1 324.4 L400.4 325.3 L402.9 325.3 L403.7 326.1 L407.4 325.8 L410.4 323.4 L412.1 323.1 L413.6 324.8 M393.5 321.9 L393.4 324.0 L395.8 325.8 L398.1 326.0 L400.4 327.1 L402.9 327.2 L402.9 325.3 M402.8 334.0 L403.6 330.4 L402.9 330.1 L403.9 328.0 L405.1 329.1 L407.8 329.2 L407.4 330.6 L406.9 332.2 L408.0 334.6 M407.8 335.4 L408.6 333.6 L409.2 330.8 L410.5 329.4 L411.2 327.2 L413.6 324.8 L415.0 325.8 L415.3 328.2 L414.2 330.8 L416.2 333.5 L418.2 334.5 M418.2 334.5 L416.9 335.9 L414.4 338.6 L413.9 340.0 L415.0 342.1 L415.0 344.9 L415.9 347.7 L415.3 350.6 M416.9 335.9 L418.0 337.1 L418.2 339.5 L419.7 339.4 L421.5 340.0 L422.4 342.1 L423.2 344.5 L420.3 344.5 L419.5 345.5 L420.2 348.2 M418.2 334.5 L418.9 333.0 L420.3 334.0 L421.5 335.3 L422.4 337.3 L424.4 340.0 L425.5 342.2 L425.7 344.2 L423.8 344.9 L424.4 347.7 L422.6 349.3 L422.0 350.0 M423.2 344.5 L423.8 344.9 M420.3 332.8 L422.0 332.5 L424.4 333.0 L426.1 334.3 M418.9 333.0 L420.3 332.8 M402.5 295.2 L406.3 299.7 L406.0 301.1 L410.9 302.2 L413.3 304.2 L418.0 304.5 L422.6 305.9 L428.5 304.6 L430.6 303.1 L433.7 301.4 L437.2 299.0 L439.9 298.3 L437.8 296.9 L436.3 294.3 M436.3 294.3 L437.6 294.7 L439.6 293.6 L440.7 290.5 L443.7 289.1 L447.2 290.1 L448.9 294.3 L452.4 295.6 L457.3 296.4 L455.3 301.1 L453.0 301.2 L453.4 303.9 L452.5 304.8 M402.5 295.2 L405.1 293.3 L408.0 292.9 L410.9 294.0 L414.4 293.6 L414.4 291.5 L419.1 291.9 L423.8 293.6 L426.7 295.0 L430.8 294.6 L433.7 293.6 L436.3 294.3 M402.5 295.2 L400.4 296.2 L399.8 298.3 L396.9 298.0 L396.3 300.4 L393.4 301.1 L393.8 303.9 L393.6 305.3 L389.9 306.8 L387.6 307.5 L386.2 308.9 L387.5 312.1 L388.7 313.1 L390.8 314.5 M445.3 308.2 L447.2 306.8 L449.7 305.5 L451.3 304.8 L452.5 304.8 M447.3 311.4 L448.3 311.0 L450.0 310.1 M401.6 295.4 L399.3 294.0 L396.9 292.6 L393.4 292.9 L389.9 289.1 L385.2 288.4 L381.7 286.7 L379.4 287.2 L375.9 287.7 L371.2 288.7 L371.2 291.2 L367.7 292.6 L364.2 293.2 L359.5 291.9 L356.0 294.7 L354.3 296.2 L354.9 298.3 L356.6 299.0 M393.6 305.3 L388.7 303.9 L385.8 304.6 L382.9 304.2 L380.6 306.2 L377.6 305.3 L377.1 303.9 L372.4 303.2 L368.3 300.4 L365.4 301.1 L365.4 306.3 L364.2 306.0 L361.9 305.2 M365.4 306.3 L368.3 304.6 L370.0 305.1 L371.8 306.5 L374.7 308.9 L377.6 311.8 M386.2 308.9 L383.5 308.9 L381.1 308.2 L380.0 310.3 L379.2 312.0 M380.6 306.2 L382.9 306.8 L385.2 307.5 L386.2 308.9 M346.7 297.1 L346.9 294.7 L344.3 294.0 L341.4 293.3 L340.2 291.9 L339.1 290.8 L337.1 291.1 M327.5 291.9 L331.5 291.8 L335.6 292.2 L337.1 291.1 L336.2 289.1 L337.9 288.4 L336.2 286.3 L332.9 285.4 M327.4 288.5 L328.6 288.5 L330.3 288.1 L331.0 286.7 L332.9 285.4 M324.5 285.4 L326.8 285.1 L329.1 285.3 L331.0 286.0 M328.3 282.9 L330.3 283.0 L332.0 283.4 L332.7 284.8 L332.9 285.4 M332.0 283.4 L332.2 282.7 L332.1 281.3 L332.7 280.6 M332.4 279.2 L333.8 277.8 L336.2 276.4 L335.0 274.2 L334.4 271.4 L335.0 269.0 L333.2 267.9 L333.6 267.2 L335.9 266.0 M328.0 271.7 L327.6 270.6 L327.4 268.6 L323.9 267.0 L325.1 266.8 L329.1 267.7 L330.9 265.9 L333.2 267.2 M313.3 281.5 L314.5 279.2 L314.2 277.4 L314.0 275.0 L316.9 272.8 L318.6 270.0 L321.6 267.9 L323.9 267.0 M417.0 355.5 L418.0 356.2 L419.2 355.9 M428.0 361.9 L429.6 363.3 L432.0 363.0 L433.7 362.6 L434.9 360.5 L435.5 358.6 L437.5 358.8 M464.7 368.4 L464.7 374.5 L464.7 377.6 M576.9 295.4 L609.4 295.4 L609.4 294.9 L609.8 295.7 L611.9 296.0 L613.7 296.7 L615.9 296.9 M633.3 301.1 L637.1 301.1 L637.6 300.7 L638.5 299.8 L638.8 298.7 L639.7 297.7 L640.9 297.8 L641.4 298.1 L641.4 300.1 L642.1 300.8 M555.8 266.3 L555.8 279.5 L558.2 279.9 L559.9 281.3 L562.3 280.2 L564.6 282.0 L566.9 284.8 L568.7 285.7 L568.7 287.0 M583.8 318.8 L586.6 318.5 L590.8 320.4 L594.2 320.4 L594.2 319.8 L596.2 319.8 L597.9 321.3 L598.5 322.7 L600.0 323.7 L600.8 322.6 L602.6 322.7 L603.4 324.4 L604.3 325.8 L604.9 327.2 L607.0 328.1 M575.7 299.3 L576.9 299.5 L579.2 300.2 L581.5 299.8 L584.0 299.7 M583.8 295.4 L583.8 299.1 L584.0 299.7 L584.5 300.4 L583.9 302.1 L583.8 305.3 M575.5 305.3 L590.8 305.3 M585.0 295.4 L585.0 297.0 L585.6 297.6 L586.8 298.8 L587.4 300.4 L588.6 301.8 L589.7 301.8 L590.8 301.8 M590.8 301.1 L590.8 306.8 L601.4 306.8 M590.8 301.1 L599.0 301.1 M599.0 295.4 L599.0 306.8 M599.0 299.8 L607.8 299.8 M607.0 295.4 L607.5 297.6 L607.8 299.8 L607.8 303.2 L607.7 304.6 M599.0 303.9 L605.5 303.9 L607.7 304.6 L608.4 306.0 L608.7 307.3 L609.2 308.2 L601.4 308.2 L601.4 306.8 M587.3 305.3 L587.3 312.4 L586.6 313.8 L586.7 315.2 M580.4 305.3 L580.4 309.6 L586.7 315.2 L586.8 317.4 L586.6 318.5 M587.3 312.4 L601.4 312.4 L610.1 312.4 M593.2 306.8 L593.2 320.4 M601.4 306.8 L601.4 312.4 M600.2 312.4 L600.2 319.5 L596.0 319.5 L596.2 319.8 M600.2 313.1 L603.7 313.1 L603.7 315.9 L606.1 316.6 L608.4 316.9 L610.2 317.2 L610.7 317.3 L610.7 318.1 L614.0 318.1 M610.1 312.4 L610.1 309.4 L609.2 308.2 M608.7 307.3 L613.8 307.3 M607.8 303.2 L614.0 303.2 M613.1 298.7 L612.7 299.5 L612.2 300.4 L612.2 301.5 L614.0 303.2 L614.1 304.6 L615.2 305.6 L614.3 306.5 L613.8 307.3 L614.3 308.9 L615.2 309.9 L616.0 312.0 L616.4 312.4 L616.0 313.1 L615.8 313.8 L615.2 315.2 L614.3 316.6 L614.0 318.1 L613.6 320.9 L615.8 320.9 L615.9 322.0 M610.1 313.1 L615.3 313.1 L615.4 313.8 L615.8 313.8 M610.1 313.1 L610.2 317.2 M610.7 318.1 L610.7 320.9 L611.1 322.3 L611.0 322.7 M615.0 298.8 L617.8 300.0 L618.2 301.0 M614.7 304.6 L618.0 304.6 M618.4 305.8 L618.4 308.9 L618.2 310.3 L617.8 311.3 M616.4 312.4 L617.2 312.3 L617.8 311.3 L619.5 311.0 L620.7 310.3 L621.5 309.4 L623.0 310.1 L624.1 310.4 L625.0 309.6 L626.0 309.0 L626.4 307.3 M618.4 305.7 L621.5 305.7 L623.0 305.7 M621.5 305.8 L621.5 309.4 M626.5 305.3 L626.5 308.6 L632.0 308.6 M627.4 305.3 L632.5 305.3 L633.0 306.2 L633.3 306.3 L632.8 307.3 L633.2 307.9 L632.4 308.4 M624.1 310.4 L624.8 311.7 L624.9 311.7 L626.8 311.7 L627.1 310.3 L628.3 309.3 L629.7 309.2 M627.7 308.6 L627.7 309.3 L629.5 308.7 L629.8 309.2 L630.6 309.9 L631.4 311.0 M616.0 313.1 L631.9 313.0 M624.8 311.7 L622.8 313.0 M615.1 315.2 L623.5 315.2 M622.1 315.2 L623.0 314.5 L624.8 313.8 L625.1 313.0 M617.5 315.2 L617.3 321.7 M620.6 315.2 L621.2 319.5 L621.3 320.9 M618.2 321.9 L618.2 320.9 L621.3 320.9 L621.4 321.3 L624.5 321.5 L625.4 321.3 M623.5 315.2 L624.8 316.9 L626.0 319.3 M623.5 315.2 L624.2 315.0 L626.1 315.1 L627.1 315.5 L628.8 316.8 M634.9 301.1 L634.8 303.1 L635.0 304.3 L634.7 305.3 L634.6 306.6 M637.1 301.1 L635.9 303.2 L635.9 304.3 M635.0 304.3 L637.6 304.3 M637.5 300.7 L638.0 303.8 M634.7 305.3 L637.2 305.3 M636.7 305.3 L636.7 306.3 M633.3 306.3 L634.1 306.8 M632.0 308.6 L632.1 310.4 L632.9 310.4 M612.9 344.2 L612.9 343.1 L613.8 341.9 L615.0 341.9 L615.0 340.3 L616.4 339.5 L616.4 342.2 M615.3 345.3 L616.1 344.3 L616.4 344.1 L617.5 342.5 M616.1 344.3 L618.0 345.1 L618.0 345.8 M618.9 346.3 L620.1 344.9 L621.3 344.2 L623.4 343.5 M620.5 349.0 L622.4 349.3 L622.8 349.3 M623.7 353.3 L624.1 351.3 M629.6 354.5 L630.2 352.5 M637.3 348.0 L635.9 349.2 L635.3 351.7 L635.9 353.4 L636.0 354.2 L638.8 354.8 L639.4 355.9 L641.7 355.9 L641.4 358.3 L642.0 361.9 L642.4 363.0 L639.4 363.1 L639.5 366.3 L638.9 370.6 M642.4 363.0 L645.8 361.9 L646.5 359.2 L649.6 358.6 L650.5 357.4 L649.0 355.5 L649.7 353.7 L650.5 352.7 M650.5 357.4 L650.8 359.0 L651.1 361.9 L652.8 362.6 L654.6 362.0 L657.5 361.6 L659.3 361.4 L660.3 358.8 M654.6 362.0 L653.8 356.2 M657.5 361.6 L657.5 356.6 M628.3 362.9 L630.2 363.6 L632.6 364.8 L634.7 366.8 L638.8 368.0 L638.9 370.6 M632.6 364.8 L632.4 366.8 L629.5 368.9 L628.9 371.8 L627.1 370.4 L626.8 369.5 M638.9 370.6 L635.3 371.8 L634.7 374.6 L635.9 378.1 L638.2 378.1 L638.1 380.2 L639.3 380.1 L640.3 382.4 L640.0 385.9 L639.4 388.0 L639.4 389.4 L638.3 390.6 M639.3 380.1 L641.1 379.8 L643.5 378.6 L644.3 379.5 L644.6 381.7 L647.0 382.4 L649.3 383.8 L650.3 385.9 L652.4 387.7 L652.8 389.4 L653.4 390.4 L652.8 392.7 L651.7 392.0 L648.5 393.0 L647.8 395.1 L647.5 396.1 L645.2 396.5 L643.7 395.9 L642.3 396.9 L641.1 395.1 L640.6 392.3 L639.4 389.4 M642.3 396.9 L640.8 399.3 L640.6 402.9 L639.2 405.7 L638.8 411.3 L638.2 414.9 L637.6 417.7 L637.1 421.2 L636.7 425.5 L636.8 428.3 L636.5 431.8 L634.7 434.7 L635.9 436.8 L636.6 438.2 L639.4 438.5 M652.8 392.7 L653.1 395.9 L655.5 396.2 L656.1 398.6 L657.2 398.8 L656.8 400.9 M647.5 396.1 L650.5 398.3 L652.8 400.3 L653.3 403.3 L655.4 403.4 L656.8 400.9 M656.8 400.9 L657.7 403.0 L655.2 404.8 L653.3 407.4 L655.2 408.5 L658.1 410.6 L658.2 412.3 M653.3 407.4 L652.7 409.9 L652.4 412.6 M718.5 315.2 L718.6 318.1 L716.3 320.0 L710.4 324.1 L710.4 325.6 L705.2 325.6 M710.4 325.6 L710.4 328.0 L706.6 328.0 L706.6 331.5 L705.4 334.6 L700.7 334.6 M710.4 326.1 L715.0 329.4 L722.0 335.0 L725.5 337.6 M715.0 329.4 L713.6 334.6 L714.2 341.4 L707.2 342.8 L706.3 343.9 L701.3 341.8 M706.3 343.9 L707.3 347.2 L701.1 347.2 M704.6 346.8 L703.1 349.3 M707.3 347.2 L710.1 347.2 L710.9 349.2 L710.7 350.3 L711.8 353.0 L710.7 354.0 L708.6 352.7 L708.6 351.1 L705.2 352.0 M708.6 352.7 L707.3 354.9 M710.7 354.0 L711.8 358.5 M710.9 350.1 L714.2 350.0 L717.4 351.3 L716.9 357.5 M717.4 351.3 L717.2 349.2 L720.6 349.2 L722.0 356.1 M721.7 349.2 L722.5 355.9 M724.8 348.2 L723.8 355.7 M714.2 350.0 L714.3 348.0 L715.6 346.0 L718.3 344.2 L720.8 343.6 L723.2 346.9 L723.4 347.9 L724.8 348.2 M720.8 343.6 L724.7 342.9 L725.5 341.5 L725.5 337.6 L727.6 337.1 L734.6 331.5 L734.0 330.4 L732.3 328.0 L731.7 322.0 L731.7 319.5 L730.3 315.9 L730.7 312.5 M731.7 322.0 L732.6 320.2 L734.0 317.8 M734.6 331.5 L737.0 332.2 L738.1 332.2 L748.6 337.1 L748.6 336.4 L749.8 336.4 L749.8 333.6 L763.6 333.6 M749.8 320.0 L749.8 333.6 M738.1 332.2 L738.7 335.7 L736.4 344.9 M724.8 348.2 L725.3 345.6 L728.8 346.3 L732.3 345.9 L736.4 345.3 L737.2 347.7 L736.4 350.6 L734.6 353.4 L733.5 355.5 L731.7 356.2 L730.7 358.3 M737.2 347.7 L738.1 350.6 L738.7 354.1 L742.2 352.3 L746.3 349.4 L746.9 349.4 M748.6 337.1 L746.9 343.5 L746.3 347.0 L746.9 349.4 L748.6 352.7 L752.7 357.4 M738.7 354.1 L737.5 357.6 L739.3 361.6 L741.6 359.8 L743.4 357.6 L746.9 358.8 L750.4 357.2 L752.7 357.4 L756.6 359.8 L760.2 359.3 L762.6 358.2 M732.1 361.4 L733.8 361.6 L736.0 361.6 L739.3 361.6 M733.8 361.6 L733.8 363.3 L731.8 363.3 M736.0 361.6 L737.0 363.3 L737.5 367.8 L734.6 368.9 L733.7 370.4 M741.6 359.8 L741.0 364.7 L739.5 367.8 L738.5 370.8 L734.9 371.8 M735.0 373.2 L739.3 374.6 L741.3 376.0 L743.4 374.6 L746.1 375.0 L746.3 380.5 L748.6 380.2 L749.2 383.1 L752.2 381.7 L754.5 383.6 L755.2 381.9 L753.8 377.7 L756.5 376.4 M734.4 389.2 L736.3 388.7 L742.2 389.3 L745.1 390.1 L748.1 389.6 L750.2 389.9 M746.3 380.5 L748.6 383.1 L746.3 383.1 L746.3 387.6 L748.1 389.6 M745.1 390.1 L745.1 395.8 L744.0 395.8 L744.0 399.8 L744.0 404.8 L739.9 405.1 M744.0 399.8 L746.9 400.7 L750.4 401.0 L752.2 398.1 L754.8 396.1 L757.2 396.4 L758.0 400.0 L759.0 402.7 M750.2 389.9 L751.0 392.3 L752.7 394.4 L754.8 396.1 M750.2 389.9 L753.3 388.0 L756.1 386.7 L759.0 388.3 L758.8 391.6 L758.6 394.4 L757.2 396.4 M756.1 386.7 L755.9 385.8 L759.4 384.5 L759.7 384.5 L761.5 388.6 L761.8 385.9 L761.1 381.0 M767.8 379.5 L764.4 381.0 L761.4 381.0 M756.5 376.4 L759.2 378.1 M766.4 371.3 L764.7 368.9 L760.3 366.1 M755.1 370.9 L755.2 366.7 L755.1 363.3 L756.8 361.4 L756.6 359.8 M755.2 366.7 L756.2 366.1 L756.8 366.1 M760.3 358.8 L761.5 362.6 L760.3 364.7 M762.6 358.2 L766.2 359.8 L768.5 359.2 L768.5 367.1 M768.5 359.2 L772.0 357.8 L776.5 353.4 L772.0 352.0 L770.6 349.2 M762.6 358.2 L760.3 354.8 L760.4 352.7 L760.9 349.9 L763.3 344.5 L765.0 344.3 L767.3 344.2 L770.3 347.0 M763.3 344.5 L763.8 340.7 L765.7 339.3 M748.1 352.0 L752.2 351.1 L755.7 350.6 L758.6 347.5 L760.4 351.3 M752.2 405.7 L753.3 405.1 L755.0 406.1 L753.9 407.8 L752.7 407.1 L752.2 405.7 M718.5 303.4 L720.6 304.4 L722.4 304.6 L724.3 304.8 M710.3 305.3 L711.0 305.2 L713.0 305.8 L712.5 306.8 L712.4 308.9 L712.1 310.3 L711.8 312.1 M723.5 292.5 L724.1 292.9 L725.5 293.6 L726.2 294.0 L727.4 294.7 L728.1 294.7 L728.8 295.2 L730.2 295.4 L729.5 297.4 M729.5 297.4 L728.8 297.6 L727.6 299.0 L728.5 299.7 L728.8 300.7 L728.3 301.4 L729.4 302.8 M729.5 297.4 L731.7 297.4 L731.8 298.1 L732.9 298.4 L732.5 299.3 L731.1 300.0 L729.9 299.7 L728.8 299.8 L727.6 299.3 M731.8 297.6 L735.8 297.6 L735.8 296.4 L736.7 295.7 L734.7 293.6 L737.9 292.6 L737.7 290.4 L737.3 288.5 M727.7 293.9 L727.6 292.9 L728.8 290.8 L729.0 289.4 M724.6 292.1 L727.4 292.3 M730.7 287.1 L732.2 287.2 M732.9 298.4 L734.6 298.3 L736.6 299.0 L739.3 298.7 M736.7 295.7 L738.1 295.4 L740.3 296.0 L740.6 296.9 L739.9 297.6 L739.3 298.7 M736.6 299.0 L736.5 300.3 M736.5 300.4 L738.7 300.0 L739.9 299.0 M739.4 298.4 L740.6 296.9 L742.6 297.1 L744.6 296.2 L746.5 296.3 L747.2 297.1 L745.7 299.3 L744.2 299.5 L742.6 299.8 L741.0 299.8 L739.9 299.0 M737.9 292.6 L739.9 293.5 L741.6 294.0 L743.4 294.7 L746.9 295.3 M740.3 296.0 L741.4 295.4 L742.6 294.7 M746.5 296.3 L746.9 295.3 L748.6 293.3 L748.2 291.9 L748.1 290.5 L748.5 288.5 L747.2 287.8 L743.5 287.8 M744.2 299.5 L745.7 301.4 L747.1 302.1 L749.8 302.9 L752.2 302.4 L754.0 302.9 M747.2 297.1 L749.2 297.0 L751.7 296.6 L753.6 299.0 L753.6 300.4 L755.3 300.8 M751.7 296.6 L753.3 296.4 L755.1 297.8 L755.7 299.0 L753.6 300.4 M746.8 302.5 L746.9 304.6 L747.5 306.2 L751.0 305.8 L753.3 305.3 M742.8 299.8 L743.2 301.2 L743.4 303.2 L744.0 304.4 L745.1 305.1 L746.7 304.9 M739.1 300.8 L742.8 301.1 L743.2 303.2 L742.2 304.6 L741.0 303.9 L739.5 302.2 L739.1 300.8 M743.3 304.5 L744.6 305.3 L744.9 306.9 L744.3 308.6 M744.6 305.1 L746.7 304.9 L747.5 306.2 L744.9 306.9 M744.3 308.6 L745.1 306.9 L747.5 306.2 L751.3 305.8 L751.0 307.0 M751.3 305.8 L753.3 305.3 M769.2 306.0 L771.4 306.6 L772.0 308.2 L773.0 308.6 L772.4 312.1 M762.9 312.8 L763.4 313.5 L763.8 312.8 L767.3 312.7 L770.1 312.3 L772.4 312.1 M770.1 312.3 L768.9 313.1 L768.5 315.9 L765.9 317.5 M762.6 315.8 L763.3 315.9 L762.7 317.4 L762.4 318.5 L765.9 317.5 M765.9 317.5 L766.5 319.2 L763.8 320.2 L765.0 321.6 L764.4 322.3 L761.5 323.1 M762.2 317.8 L762.1 320.2 L761.5 323.0 M760.6 320.5 L761.4 323.0 M765.9 317.5 L768.5 319.5 L772.8 323.4 L774.9 323.6 L776.3 324.4 M772.4 312.1 L773.8 314.1 L774.4 315.2 L773.8 316.6 L776.5 318.8 L776.7 321.6 L777.4 322.4 M776.3 324.4 L776.1 323.7 L774.9 323.6 M770.6 341.5 L772.6 340.1 L775.5 340.8 L777.9 338.4 L781.4 337.8 L785.7 333.6 L785.1 332.6 L782.1 332.3 L780.9 330.1 M781.4 337.8 L782.6 341.2 M785.1 332.6 L786.0 330.8 L786.4 329.4 M783.6 312.0 L784.9 311.1 L787.2 310.7 L790.1 311.7 L791.9 313.0 L792.1 314.4 L791.3 316.6 L791.8 320.2 L792.7 320.5 L792.5 322.6 L791.8 322.6 L793.6 324.7 L794.0 326.3 L794.5 327.1 L792.6 329.1 M773.0 308.6 L774.9 309.7 L776.7 309.6 L777.3 310.3 L777.7 310.4 M767.3 303.4 L769.7 303.5 L772.0 304.4 L774.9 305.5 L777.3 305.6 M771.4 306.6 L773.2 306.5 L774.9 305.5 M792.1 314.4 L794.2 314.1 L796.0 313.4 L798.3 311.8 L800.1 312.4 L802.4 311.7 L804.1 311.1 L808.1 312.1 M807.7 312.4 L804.1 313.1 L803.6 315.9 L801.8 316.9 L801.8 320.2 L798.3 322.4 L793.6 323.1 L791.8 322.6 M811.5 314.5 L809.4 315.9 L807.7 318.1 L807.8 320.9 L806.4 322.4 L803.6 325.3 L802.4 327.2 L803.0 328.4 L801.8 330.4 L800.3 331.2 M811.5 314.5 L813.5 318.8 L812.7 320.5 L814.2 321.9 L815.3 322.0 L818.8 324.4 L821.1 325.3 L823.5 325.3 L824.4 326.1 L828.1 325.8 L831.0 323.4 L832.8 323.1 L834.3 324.8 M814.2 321.9 L814.1 324.0 L816.4 325.8 L818.8 326.0 L821.1 327.1 L823.5 327.2 L823.5 325.3 M823.4 334.0 L824.2 330.4 L823.5 330.1 L824.6 328.0 L825.8 329.1 L828.5 329.2 L828.1 330.6 L827.5 332.2 L828.7 334.6 M828.5 335.4 L829.3 333.6 L829.9 330.8 L831.1 329.4 L831.8 327.2 L834.3 324.8 L835.7 325.8 L835.9 328.2 L834.9 330.8 L836.9 333.5 L838.9 334.5 M838.9 334.5 L837.6 335.9 L835.1 338.6 L834.5 340.0 L835.7 342.1 L835.7 344.9 L836.5 347.7 L835.9 350.6 M837.6 335.9 L838.6 337.1 L838.9 339.5 L840.4 339.4 L842.1 340.0 L843.1 342.1 L843.9 344.5 L841.0 344.5 L840.1 345.5 L840.8 348.2 M838.9 334.5 L839.6 333.0 L841.0 334.0 L842.1 335.3 L843.1 337.3 L845.0 340.0 L846.2 342.2 L846.3 344.2 L844.5 344.9 L845.0 347.7 L843.3 349.3 L842.7 350.0 M843.9 344.5 L844.5 344.9 M841.0 332.8 L842.7 332.5 L845.0 333.0 L846.8 334.3 M839.6 333.0 L841.0 332.8 M823.2 295.2 L826.9 299.7 L826.7 301.1 L831.6 302.2 L833.9 304.2 L838.6 304.5 L843.3 305.9 L849.1 304.6 L851.2 303.1 L854.4 301.4 L857.9 299.0 L860.6 298.3 L858.5 296.9 L857.0 294.3 M857.0 294.3 L858.3 294.7 L860.2 293.6 L861.4 290.5 L864.3 289.1 L867.8 290.1 L869.6 294.3 L873.1 295.6 L878.0 296.4 L876.0 301.1 L873.7 301.2 L874.0 303.9 L873.2 304.8 M823.2 295.2 L825.8 293.3 L828.7 292.9 L831.6 294.0 L835.1 293.6 L835.1 291.5 L839.8 291.9 L844.5 293.6 L847.4 295.0 L851.5 294.6 L854.4 293.6 L857.0 294.3 M823.2 295.2 L821.1 296.2 L820.5 298.3 L817.6 298.0 L817.0 300.4 L814.1 301.1 L814.4 303.9 L814.3 305.3 L810.6 306.8 L808.2 307.5 L806.8 308.9 L808.1 312.1 L809.4 313.1 L811.5 314.5 M866.0 308.2 L867.8 306.8 L870.4 305.5 L871.9 304.8 L873.2 304.8 M868.0 311.4 L869.0 311.0 L870.6 310.1 M822.3 295.4 L819.9 294.0 L817.6 292.6 L814.1 292.9 L810.6 289.1 L805.9 288.4 L802.4 286.7 L800.1 287.2 L796.6 287.7 L791.9 288.7 L791.9 291.2 L788.4 292.6 L784.9 293.2 L780.2 291.9 L776.7 294.7 L774.9 296.2 L775.5 298.3 L777.3 299.0 M814.3 305.3 L809.4 303.9 L806.5 304.6 L803.6 304.2 L801.2 306.2 L798.3 305.3 L797.7 303.9 L793.0 303.2 L789.0 300.4 L786.0 301.1 L786.0 306.3 L784.9 306.0 L782.5 305.2 M786.0 306.3 L789.0 304.6 L790.7 305.1 L792.5 306.5 L795.4 308.9 L798.3 311.8 M806.8 308.9 L804.1 308.9 L801.8 308.2 L800.6 310.3 L799.8 312.0 M801.2 306.2 L803.6 306.8 L805.9 307.5 L806.8 308.9 M767.3 297.1 L767.6 294.7 L765.0 294.0 L762.1 293.3 L760.9 291.9 L759.7 290.8 L757.8 291.1 M748.2 291.9 L752.2 291.8 L756.2 292.2 L757.8 291.1 L756.8 289.1 L758.6 288.4 L756.8 286.3 L753.6 285.4 M748.1 288.5 L749.2 288.5 L751.0 288.1 L751.7 286.7 L753.6 285.4 M745.1 285.4 L747.5 285.1 L749.8 285.3 L751.7 286.0 M749.0 282.9 L751.0 283.0 L752.6 283.4 L753.3 284.8 L753.6 285.4 M752.6 283.4 L752.9 282.7 L752.7 281.3 L753.3 280.6 M753.1 279.2 L754.5 277.8 L756.8 276.4 L755.7 274.2 L755.1 271.4 L755.7 269.0 L753.9 267.9 L754.3 267.2 L756.6 266.0 M748.6 271.7 L748.3 270.6 L748.1 268.6 L744.6 267.0 L745.7 266.8 L749.8 267.7 L751.6 265.9 L753.9 267.2 M733.9 281.5 L735.2 279.2 L734.9 277.4 L734.6 275.0 L737.5 272.8 L739.3 270.0 L742.2 267.9 L744.6 267.0 M837.7 355.5 L838.6 356.2 L839.9 355.9 M848.7 361.9 L850.3 363.3 L852.6 363.0 L854.4 362.6 L855.6 360.5 L856.1 358.6 L858.1 358.8 M885.4 368.4 L885.4 374.5 L885.4 377.6" stroke="#000" stroke-width="1.2" fill="none" stroke-linejoin="round"/>
<path d="M-127.6 314.1 L-128.7 316.6 L-130.7 317.8 L-131.7 318.8 L-132.2 320.9 L-132.0 322.3 L-133.0 323.7 L-134.2 324.8 L-135.9 325.8 L-137.7 327.7 L-138.3 329.4 L-139.4 331.1 L-140.0 332.9 L-140.6 335.0 L-140.0 337.1 L-139.7 339.3 L-140.0 341.7 L-141.2 343.9 L-140.4 345.6 L-140.2 347.2 L-138.8 348.4 L-137.9 349.9 L-136.5 351.3 L-136.2 352.7 L-134.8 354.1 L-133.6 355.1 L-131.8 356.9 L-129.5 358.5 L-127.7 357.8 L-125.4 357.4 L-123.1 358.1 L-120.7 356.9 L-119.0 355.9 L-116.6 355.7 L-114.9 356.5 L-113.7 358.6 L-112.0 358.3 L-110.8 358.3 L-109.6 359.3 L-109.3 361.2 L-109.6 363.3 L-109.9 365.4 L-110.5 366.1 L-108.5 368.9 L-106.9 371.2 L-106.4 373.2 L-105.5 376.0 L-105.0 378.1 L-104.6 380.0 L-105.9 383.1 L-106.7 385.9 L-106.9 388.7 L-106.1 390.8 L-105.0 393.7 L-103.8 396.5 L-103.2 400.0 L-102.9 402.9 L-101.5 405.1 L-100.5 407.8 L-99.5 409.9 L-99.7 411.3 L-99.1 412.9 L-97.4 413.9 L-94.4 412.8 L-91.5 412.8 L-89.8 412.3 L-88.0 411.1 L-86.3 408.8 L-84.5 406.4 L-82.9 405.0 L-82.4 402.2 L-82.2 400.7 L-79.8 399.3 L-79.3 396.5 L-79.3 394.4 L-80.1 392.7 L-78.1 390.8 L-76.9 389.4 L-74.6 388.0 L-73.4 385.2 L-73.4 380.2 L-74.6 376.0 L-74.8 373.9 L-75.2 371.8 L-74.0 369.6 L-72.2 367.2 L-70.5 364.0 L-68.7 362.6 L-66.4 360.5 L-64.6 357.6 L-62.9 354.1 L-61.7 351.3 L-60.8 348.0 L-62.3 348.4 L-64.1 348.9 L-67.0 349.6 L-68.7 350.0 L-70.1 348.4 L-70.7 347.0 L-72.2 345.2 L-74.0 342.8 L-75.2 340.7 L-76.3 338.6 L-77.1 335.0 L-77.7 333.6 L-79.3 331.5 L-79.8 329.4 L-81.0 327.0 L-82.2 324.4 L-82.6 322.4 L-83.0 320.5 L-84.5 320.0 L-86.3 320.9 L-89.2 320.3 L-91.5 320.0 L-93.9 318.6 L-96.2 318.3 L-97.4 319.6 L-97.4 321.0 L-98.5 321.9 L-100.3 320.9 L-102.0 320.5 L-103.0 319.0 L-105.5 318.2 L-107.3 317.8 L-108.5 316.6 L-107.9 314.8 L-108.5 313.1 L-107.9 312.4 L-109.0 312.0 L-110.8 312.5 L-113.1 312.4 L-114.9 312.7 L-117.2 312.7 L-119.6 313.1 L-121.9 314.5 L-123.3 315.1 L-125.4 315.0 L-126.9 314.0 Z M-216.1 289.8 L-214.9 289.8 L-215.4 289.5 Z M30.2 324.4 L30.8 324.4 L30.6 325.0 Z M-12.5 345.5 L-12.1 345.8 L-12.3 348.4 L-12.6 348.0 Z M11.9 395.8 L12.5 395.5 L15.4 393.8 L17.7 393.4 L20.7 392.3 L22.1 390.1 L23.6 388.7 L24.7 386.6 L26.5 384.8 L28.3 384.5 L29.4 385.9 L30.6 385.6 L31.2 383.5 L31.8 382.2 L34.1 381.2 L35.3 381.5 L37.0 381.9 L39.0 381.9 L38.0 383.8 L37.6 385.6 L39.4 387.0 L41.1 388.4 L42.9 389.7 L43.8 388.7 L44.6 385.9 L44.7 382.8 L45.8 379.8 L46.9 382.4 L47.3 384.9 L49.1 385.9 L49.3 388.0 L50.2 391.6 L53.1 393.7 L54.5 396.1 L55.7 397.9 L58.0 400.5 L58.6 404.3 L58.0 408.5 L56.9 410.9 L55.7 412.8 L54.5 416.3 L54.3 417.8 L51.6 418.4 L50.2 420.0 L48.1 418.7 L46.4 419.5 L44.0 418.5 L42.6 417.4 L42.3 415.3 L40.5 415.0 L41.1 413.5 L40.2 414.4 L39.1 414.6 L40.3 411.3 L38.2 413.9 L37.0 413.5 L36.1 411.1 L32.3 409.2 L28.8 409.9 L25.3 411.1 L23.6 412.6 L19.5 412.8 L17.2 414.2 L14.2 413.2 L13.6 412.0 L14.5 409.9 L13.6 407.1 L13.4 405.0 L11.9 402.2 L12.1 399.3 Z M-154.3 310.0 L-152.3 309.9 L-152.9 310.3 Z M-151.0 311.1 L-150.2 311.1 L-150.5 311.4 Z M-211.9 327.0 L-210.7 327.2 L-210.9 328.0 L-212.1 327.4 Z M-212.1 329.1 L-211.5 329.6 L-211.6 330.8 L-212.2 330.1 Z M-210.1 329.4 L-209.5 330.1 L-208.7 331.3 L-209.1 331.6 L-209.8 330.4 Z M-207.8 330.8 L-207.6 332.2 L-206.9 334.3 L-206.0 334.6 L-205.5 333.9 Z M12.9 376.1 L14.5 376.6 L13.9 377.1 Z M-234.1 258.7 L-238.2 258.7 L-238.8 256.9 L-234.7 256.6 Z M-213.6 285.6 L-213.0 284.8 L-213.4 284.7 Z M-196.5 276.4 L-200.8 276.8 L-204.3 275.7 L-207.2 274.2 L-211.3 273.8 L-209.5 272.4 L-206.6 271.1 L-206.0 269.3 L-207.8 268.2 L-210.7 268.6 L-212.5 266.5 L-216.0 265.8 L-220.1 265.3 L-223.6 265.1 L-225.3 263.6 L-225.9 262.2 L-224.7 261.1 L-220.6 260.8 L-216.6 260.5 L-211.9 262.1 L-208.4 262.4 L-204.9 263.6 L-202.5 264.8 L-200.2 265.8 L-198.4 267.5 L-196.1 268.9 L-193.2 270.3 L-194.4 271.1 L-197.3 272.1 L-196.7 273.5 L-196.1 275.0 Z M-265.0 264.4 L-267.4 262.9 L-266.2 260.8 L-264.5 259.7 L-260.4 259.8 L-257.5 260.8 L-256.3 262.2 L-259.2 263.2 L-262.1 263.9 Z M6.6 362.6 L7.3 361.9 L9.0 362.2 L11.3 360.2 L13.1 358.3 L14.2 357.1 L15.7 354.9 L16.8 355.8 L18.6 357.2 L17.2 358.3 L16.8 360.0 L17.2 362.6 L18.3 363.3 L16.9 363.6 L16.6 365.4 L15.5 366.8 L15.4 368.9 L14.7 369.9 L13.1 370.4 L11.3 369.2 L9.8 368.9 L8.0 368.8 L7.8 366.8 L6.6 365.4 L6.6 364.0 Z M59.9 372.0 L61.3 373.9 L61.0 374.3 L60.2 373.2 Z M26.5 369.2 L27.9 369.4 L27.4 370.1 L26.5 369.8 Z M-214.2 262.0 L-210.7 262.0 L-210.1 261.1 L-214.2 260.7 Z M-63.5 299.0 L-61.1 298.3 L-58.8 298.6 L-58.8 300.7 L-60.8 301.8 L-61.1 303.6 L-59.4 305.3 L-58.8 307.2 L-58.2 308.9 L-57.8 312.0 L-60.0 312.8 L-62.3 312.1 L-63.5 311.0 L-62.9 308.2 L-63.5 306.0 L-65.2 304.2 L-65.2 302.5 L-65.8 301.1 L-65.2 299.7 Z M-304.9 361.9 L-304.4 361.9 L-304.7 362.3 Z M-217.7 276.8 L-216.0 276.1 L-217.1 275.7 L-218.3 276.1 Z M-70.3 380.8 L-69.9 380.8 L-70.1 381.5 Z M-110.7 306.0 L-110.7 304.6 L-109.7 303.9 L-109.6 305.3 L-110.0 306.2 Z M-233.5 259.4 L-230.0 259.1 L-231.2 258.1 L-233.5 258.3 Z M-93.3 314.8 L-92.1 314.7 L-90.0 315.0 L-90.4 315.2 L-91.9 315.4 L-93.3 315.0 Z M-219.9 333.7 L-218.9 332.6 L-216.6 332.1 L-214.2 332.1 L-211.9 333.2 L-209.5 334.7 L-207.4 336.2 L-208.4 336.6 L-210.7 336.6 L-211.3 335.4 L-212.5 334.3 L-214.2 333.9 L-216.0 333.3 L-217.7 333.6 L-219.1 334.2 Z M-150.2 340.5 L-149.8 340.5 L-149.9 341.0 Z M-148.5 343.1 L-148.2 343.1 L-148.3 343.6 Z M-83.0 315.7 L-82.8 315.1 L-81.6 314.8 L-80.3 314.4 L-81.0 315.2 L-82.2 315.8 Z M-214.2 259.3 L-220.1 259.4 L-225.9 259.3 L-228.2 258.7 L-231.7 258.0 L-228.8 256.9 L-223.6 256.7 L-218.9 256.6 L-214.8 257.0 L-213.6 258.0 Z M75.8 389.4 L76.3 389.7 L75.9 390.0 Z M-214.2 257.0 L-221.2 256.9 L-225.3 256.6 L-224.7 255.4 L-227.7 254.5 L-229.4 253.0 L-232.9 251.6 L-231.7 250.2 L-227.1 249.5 L-222.4 248.8 L-216.6 247.7 L-210.7 247.4 L-202.5 247.4 L-195.5 247.8 L-192.6 248.4 L-196.1 249.5 L-200.2 250.5 L-203.1 251.6 L-206.0 252.6 L-208.4 253.6 L-209.0 254.5 L-212.5 255.6 L-214.8 256.2 Z M-242.3 255.2 L-239.3 254.5 L-237.6 253.3 L-241.1 253.0 L-244.0 254.0 Z M-233.5 254.5 L-231.2 254.0 L-232.9 253.3 L-234.7 253.9 Z M73.8 385.6 L74.6 385.9 L74.4 386.7 L73.9 386.5 Z M-82.6 322.4 L-81.6 325.1 L-80.7 325.4 L-80.3 323.7 L-79.8 323.0 L-79.3 325.1 L-78.1 328.0 L-76.3 330.8 L-75.2 333.6 L-74.2 336.4 L-72.8 339.3 L-71.1 342.1 L-70.7 344.2 L-70.1 346.6 L-68.7 346.8 L-67.6 346.3 L-64.1 344.9 L-62.3 343.8 L-60.0 342.7 L-58.2 341.4 L-55.9 339.5 L-54.4 338.4 L-53.2 337.6 L-52.4 335.7 L-50.9 333.0 L-52.4 331.3 L-54.1 330.8 L-54.8 329.5 L-54.9 327.5 L-55.9 328.7 L-57.0 330.4 L-59.4 330.5 L-60.4 330.1 L-60.4 328.1 L-60.9 327.8 L-61.4 329.6 L-62.1 328.2 L-62.9 326.5 L-64.1 324.7 L-64.6 323.0 L-63.7 322.3 L-62.3 322.0 L-61.4 323.7 L-60.6 325.3 L-58.2 326.8 L-55.9 327.0 L-54.7 326.4 L-53.8 328.2 L-51.8 328.8 L-48.9 329.2 L-46.5 328.9 L-43.0 328.8 L-42.1 329.9 L-40.7 331.5 L-38.9 332.5 L-40.1 333.2 L-38.4 335.2 L-36.0 334.3 L-35.7 337.1 L-35.4 339.3 L-34.8 342.1 L-33.7 344.9 L-33.1 347.7 L-31.9 350.6 L-30.8 353.1 L-30.2 353.3 L-29.4 352.1 L-28.2 351.6 L-27.5 350.1 L-27.3 347.0 L-27.0 345.6 L-27.3 343.2 L-26.1 342.1 L-24.6 340.7 L-22.6 338.8 L-20.8 337.0 L-19.3 335.7 L-19.1 334.3 L-17.3 333.9 L-16.2 333.6 L-15.0 332.6 L-13.8 333.0 L-13.2 334.3 L-12.9 335.4 L-11.5 337.1 L-10.7 339.3 L-10.4 341.8 L-9.1 342.4 L-7.4 341.0 L-6.7 342.1 L-6.5 344.2 L-5.6 347.0 L-5.5 350.6 L-5.9 352.7 L-5.6 353.7 L-3.9 355.5 L-3.4 357.6 L-2.7 359.8 L-1.0 361.9 L0.2 362.9 L1.0 362.6 L0.2 360.5 L0.1 358.3 L-1.3 355.9 L-2.7 354.9 L-3.5 353.0 L-4.7 351.3 L-4.8 349.2 L-3.9 346.8 L-2.8 345.8 L-2.1 346.9 L-1.0 347.5 L-0.4 349.2 L1.4 350.0 L1.7 352.4 L3.1 351.7 L4.1 350.0 L6.1 348.7 L6.9 347.7 L7.0 345.6 L6.4 343.1 L4.9 341.4 L3.7 339.7 L2.9 337.8 L3.7 336.0 L4.9 334.3 L6.1 334.2 L7.2 334.3 L7.8 336.0 L8.4 334.6 L9.9 334.2 L11.9 333.3 L12.8 332.9 L14.8 332.3 L16.6 331.1 L17.7 329.9 L18.9 328.7 L19.1 327.2 L20.1 325.8 L21.2 324.4 L21.8 322.6 L20.7 321.5 L21.6 320.2 L20.4 318.5 L19.8 316.2 L18.7 315.2 L20.1 313.5 L22.4 312.4 L20.7 311.3 L18.3 312.1 L17.7 311.0 L16.8 309.9 L17.7 309.3 L18.9 308.3 L20.7 307.0 L21.2 309.6 L20.9 309.9 L22.2 308.9 L23.6 308.4 L24.7 308.4 L25.6 311.0 L27.1 311.7 L26.9 315.2 L27.1 316.1 L28.8 315.5 L30.4 314.8 L30.6 313.1 L30.0 311.0 L28.8 309.6 L28.3 308.4 L30.6 307.0 L30.8 305.9 L32.0 304.9 L33.5 303.6 L35.3 304.2 L37.6 302.8 L39.9 300.4 L41.1 298.3 L42.9 296.2 L43.4 294.0 L44.5 290.9 L44.0 289.8 L42.3 288.1 L39.9 288.5 L39.4 287.7 L37.3 287.2 L38.8 286.3 L40.5 284.8 L43.4 282.4 L45.8 281.0 L49.3 280.7 L52.8 280.9 L55.7 281.3 L57.5 281.3 L59.8 281.0 L60.4 279.9 L62.7 277.8 L65.6 277.4 L67.4 278.8 L66.2 279.9 L63.9 283.0 L62.5 284.1 L61.6 286.3 L61.2 288.4 L61.8 290.5 L62.4 292.6 L64.1 291.2 L66.2 289.1 L66.8 287.7 L68.6 285.6 L70.1 285.3 L69.2 283.4 L70.3 282.0 L72.1 280.6 L73.8 279.9 L77.3 279.2 L78.5 279.9 L80.8 278.5 L83.2 277.4 L86.7 276.4 L88.4 276.4 L89.0 274.2 L87.8 273.5 L86.7 273.3 L89.0 272.8 L90.2 272.6 L93.1 272.1 L96.0 273.5 L98.4 273.7 L98.4 272.4 L100.7 271.7 L101.6 271.3 L100.1 270.3 L97.2 270.0 L94.9 269.2 L92.5 268.3 L89.6 267.5 L87.3 266.8 L83.8 266.0 L80.3 265.9 L77.9 265.6 L74.4 266.3 L69.7 266.2 L67.4 266.5 L66.2 265.1 L62.7 264.4 L57.5 264.5 L54.5 263.6 L51.0 262.5 L47.5 262.2 L44.0 261.8 L41.7 262.7 L38.8 263.5 L34.7 263.8 L31.8 264.6 L30.0 263.6 L28.8 261.8 L27.1 260.8 L24.7 260.4 L21.8 261.5 L18.3 261.4 L13.6 260.5 L11.9 260.8 L7.8 260.1 L10.7 258.0 L7.8 256.6 L4.3 255.9 L1.1 254.9 L-2.7 255.9 L-5.1 256.9 L-8.6 257.1 L-12.1 257.6 L-15.6 258.1 L-18.5 259.0 L-20.2 260.1 L-19.7 260.8 L-22.6 261.5 L-26.1 262.4 L-29.6 262.5 L-32.5 262.5 L-33.7 269.3 L-36.0 268.6 L-36.0 265.1 L-38.9 260.8 L-40.7 264.4 L-43.0 266.5 L-42.4 267.9 L-44.8 266.9 L-48.3 266.2 L-50.6 267.9 L-53.0 267.9 L-56.5 268.2 L-58.8 267.9 L-62.3 269.0 L-66.4 268.6 L-69.3 267.9 L-69.9 269.3 L-69.3 271.1 L-71.7 270.7 L-73.4 271.4 L-74.6 273.1 L-76.9 274.2 L-78.7 273.4 L-79.8 271.4 L-82.2 270.7 L-80.4 270.6 L-76.3 271.3 L-72.8 269.7 L-74.0 268.6 L-76.3 267.7 L-79.8 266.9 L-82.2 266.5 L-85.7 266.0 L-88.0 264.5 L-91.5 264.2 L-95.0 264.9 L-98.5 265.8 L-101.5 267.2 L-104.4 268.6 L-106.1 271.4 L-107.9 273.5 L-109.6 275.0 L-112.6 276.1 L-114.9 277.4 L-114.9 279.2 L-114.3 281.3 L-113.7 282.4 L-112.0 282.7 L-109.6 281.3 L-108.5 280.2 L-107.9 281.3 L-107.3 282.3 L-106.7 283.4 L-105.9 285.3 L-105.5 286.4 L-103.8 286.0 L-102.0 284.8 L-101.5 283.2 L-99.7 281.3 L-98.5 280.2 L-100.3 278.9 L-100.3 277.1 L-98.5 275.0 L-96.2 273.5 L-94.4 271.8 L-92.1 271.7 L-90.9 272.8 L-92.1 274.2 L-95.0 275.7 L-95.6 277.8 L-95.6 279.2 L-93.9 279.9 L-90.9 279.5 L-88.0 279.2 L-85.7 280.0 L-88.0 280.6 L-92.7 280.7 L-93.3 281.7 L-92.1 282.4 L-92.7 283.9 L-95.0 283.4 L-96.2 284.8 L-96.2 286.5 L-97.4 287.2 L-99.1 287.7 L-102.0 288.0 L-104.4 288.4 L-106.7 288.1 L-107.9 288.4 L-109.0 287.7 L-109.0 286.3 L-108.5 283.4 L-109.6 283.9 L-111.2 284.8 L-110.8 286.3 L-110.5 288.4 L-112.6 289.1 L-114.9 289.4 L-115.5 290.8 L-116.6 291.9 L-117.8 292.5 L-118.9 293.3 L-119.2 294.0 L-120.5 294.5 L-121.9 294.9 L-122.3 294.5 L-123.0 294.5 L-122.6 295.9 L-124.2 295.7 L-126.2 296.3 L-125.8 297.1 L-123.7 297.8 L-123.1 299.0 L-122.1 300.4 L-122.3 302.5 L-122.8 303.4 L-124.8 303.2 L-127.2 303.1 L-130.1 302.9 L-131.5 303.8 L-131.0 305.3 L-130.9 307.5 L-131.8 309.9 L-131.0 311.1 L-131.1 312.4 L-129.5 312.1 L-128.1 312.7 L-127.3 313.8 L-126.0 312.8 L-123.3 312.8 L-121.7 311.6 L-120.7 309.9 L-121.1 308.9 L-119.8 307.2 L-118.2 306.2 L-117.0 305.3 L-117.1 303.9 L-115.5 303.4 L-113.7 303.8 L-112.0 302.8 L-110.5 301.9 L-109.0 302.5 L-108.5 304.1 L-106.7 305.5 L-105.0 306.5 L-103.2 307.9 L-102.0 309.6 L-102.4 311.0 L-101.5 310.3 L-100.6 309.6 L-101.3 308.2 L-100.3 307.5 L-99.1 308.0 L-99.7 307.2 L-102.0 306.0 L-102.6 305.3 L-104.4 304.6 L-105.0 303.2 L-106.4 301.8 L-106.1 300.4 L-104.7 300.1 L-104.8 301.1 L-103.8 300.8 L-102.6 302.5 L-100.9 303.6 L-99.1 304.8 L-97.9 305.6 L-98.2 307.5 L-97.4 308.9 L-96.2 310.3 L-95.6 312.4 L-94.4 313.1 L-93.9 311.7 L-94.1 310.6 L-92.7 310.7 L-94.1 308.9 L-94.4 307.5 L-92.7 307.0 L-90.4 307.0 L-90.1 307.7 L-88.6 306.9 L-86.8 306.5 L-88.0 305.9 L-88.2 304.6 L-87.4 303.2 L-86.0 301.1 L-85.1 299.0 L-83.9 298.8 L-82.8 299.7 L-81.6 300.8 L-81.6 301.8 L-79.8 301.2 L-78.1 300.7 L-79.8 300.1 L-79.3 299.0 L-76.3 298.1 L-74.8 298.0 L-76.3 299.7 L-76.9 301.1 L-75.7 302.1 L-74.2 303.2 L-72.2 305.3 L-72.1 306.0 L-74.0 306.8 L-76.3 306.9 L-78.1 306.3 L-79.8 305.3 L-82.2 305.3 L-83.9 306.5 L-86.3 306.5 L-86.8 307.6 L-89.2 307.6 L-90.1 308.9 L-89.4 310.3 L-88.8 311.7 L-88.0 312.7 L-86.3 313.5 L-85.0 312.7 L-83.3 313.5 L-81.0 313.4 L-79.3 313.0 L-78.4 312.8 L-78.9 314.1 L-78.8 315.2 L-79.8 318.1 L-80.4 320.0 L-81.6 320.7 L-82.6 320.9 Z M-192.4 437.2 L-189.7 437.2 L-188.2 437.6 L-189.1 438.6 L-191.4 438.5 Z M-129.4 276.6 L-128.4 276.6 L-128.7 277.8 Z M-329.3 390.1 L-329.0 390.4 L-329.4 390.8 Z M-68.2 250.9 L-64.6 251.4 L-60.0 251.2 L-62.3 250.2 L-67.0 250.4 Z M-59.4 251.6 L-53.0 251.4 L-48.3 250.8 L-50.6 249.7 L-56.5 249.8 Z M-54.1 249.2 L-48.3 249.1 L-44.8 249.9 L-50.6 249.9 Z M19.3 376.7 L22.9 376.1 L22.8 377.0 L19.5 377.1 Z M-137.7 324.1 L-136.9 324.1 L-137.3 325.0 Z M-227.8 364.8 L-227.0 365.1 L-227.0 366.1 L-227.7 366.1 Z M-127.4 293.9 L-124.8 293.6 L-121.9 293.0 L-119.1 292.3 L-119.7 291.5 L-118.7 290.2 L-120.4 289.4 L-121.0 288.2 L-122.5 287.0 L-123.1 285.8 L-124.2 285.6 L-123.1 284.1 L-122.8 283.3 L-124.8 283.2 L-124.4 281.9 L-126.6 281.9 L-126.9 283.4 L-127.4 284.8 L-127.2 286.1 L-126.3 287.2 L-124.6 287.5 L-124.2 288.7 L-124.2 289.4 L-126.0 289.4 L-125.6 290.1 L-125.5 290.8 L-126.8 291.5 L-124.6 292.1 L-126.0 292.5 L-126.8 293.5 Z M-139.2 325.0 L-138.7 324.8 L-138.8 325.4 Z M-171.6 280.2 L-173.9 279.2 L-176.8 277.8 L-178.6 275.9 L-179.7 274.2 L-181.5 272.1 L-183.2 270.7 L-183.2 268.6 L-180.3 267.2 L-182.1 266.5 L-184.4 265.1 L-181.5 264.4 L-185.6 262.9 L-186.8 260.8 L-189.1 258.0 L-192.6 257.0 L-197.9 257.3 L-201.4 256.6 L-204.3 255.4 L-206.0 254.2 L-204.9 253.3 L-200.2 251.6 L-196.7 250.5 L-192.0 249.1 L-186.2 248.5 L-179.2 248.1 L-173.3 247.4 L-165.1 246.7 L-157.0 246.5 L-149.9 247.1 L-145.3 248.0 L-148.8 248.8 L-144.1 249.5 L-138.3 249.1 L-134.8 249.5 L-139.4 250.9 L-141.8 252.3 L-143.5 253.8 L-142.4 255.9 L-144.1 257.3 L-143.5 258.7 L-145.3 259.8 L-146.4 261.5 L-147.0 262.9 L-146.4 264.4 L-147.6 265.1 L-149.9 265.5 L-151.1 267.2 L-155.8 268.3 L-158.7 268.6 L-161.6 270.7 L-165.1 272.0 L-167.5 272.8 L-168.6 275.0 L-170.4 277.1 L-171.0 279.2 Z M65.8 377.8 L67.2 378.6 L66.8 378.8 L66.0 378.3 Z M48.2 345.5 L48.7 345.5 L48.5 346.0 Z M28.3 362.6 L29.4 363.3 L28.8 364.7 L29.8 365.8 L28.6 365.4 L28.0 363.6 Z M-302.9 336.2 L-301.9 336.9 L-302.7 338.0 L-303.0 337.0 Z M-303.8 335.2 L-303.0 335.3 L-303.4 335.6 Z M-305.7 334.2 L-305.0 334.6 L-305.5 334.6 Z M-307.3 333.3 L-306.9 333.5 L-307.1 333.7 Z M-207.7 338.7 L-205.7 336.6 L-203.7 336.6 L-201.9 337.6 L-200.5 338.4 L-201.9 339.0 L-203.7 339.4 L-204.9 339.0 L-207.2 339.0 Z M6.3 338.6 L7.2 339.0 L8.4 338.1 L9.0 337.0 L8.4 336.3 L7.2 336.4 L6.2 337.6 Z M42.9 306.0 L44.0 305.6 L44.6 304.5 L46.7 305.3 L48.1 304.1 L49.3 303.5 L48.9 302.5 L47.5 302.4 L45.2 300.5 L44.7 301.8 L44.5 303.5 L43.3 303.5 L42.9 304.6 Z M32.2 316.6 L34.1 316.4 L35.8 315.8 L37.3 316.1 L37.6 317.2 L38.8 316.4 L39.4 315.7 L41.1 315.8 L41.7 315.2 L42.6 315.2 L43.8 314.2 L43.6 312.7 L44.0 311.0 L44.7 309.6 L45.2 308.7 L44.6 307.5 L44.5 306.2 L43.4 306.5 L42.9 307.5 L42.9 308.9 L42.3 310.6 L41.1 311.7 L39.7 312.5 L39.1 312.0 L38.2 313.8 L37.6 314.4 L35.8 314.5 L34.1 314.8 L32.9 315.8 Z M-127.7 290.9 L-127.7 289.1 L-127.2 287.7 L-128.0 286.7 L-129.5 286.5 L-130.7 287.7 L-132.4 288.1 L-132.2 289.5 L-132.8 291.2 L-131.8 291.8 L-130.1 291.5 Z M-146.4 274.4 L-148.8 273.3 L-147.0 272.8 L-149.1 272.1 L-146.4 270.9 L-142.9 271.3 L-139.4 270.7 L-137.7 271.4 L-136.6 272.6 L-137.7 273.5 L-140.0 274.5 L-142.7 275.1 L-145.3 274.5 Z M64.2 375.3 L66.0 376.6 L65.6 376.9 L64.1 375.7 Z M2.2 374.3 L3.1 373.0 L5.5 373.6 L7.8 374.5 L9.6 374.0 L11.1 374.9 L13.1 375.7 L12.9 377.0 L10.1 376.6 L7.8 376.1 L5.5 375.7 L3.7 375.2 Z M-212.2 338.8 L-209.9 339.3 L-209.8 339.4 L-210.7 339.7 L-211.9 339.0 Z M-237.0 267.5 L-233.5 267.9 L-232.3 266.8 L-234.1 266.0 L-235.8 266.5 Z M30.9 317.4 L32.2 316.8 L33.3 317.6 L32.8 320.2 L31.9 320.9 L31.4 320.2 L31.2 318.3 Z M14.8 376.6 L15.6 376.4 L15.3 377.3 Z M19.5 342.1 L20.2 338.6 L22.1 338.6 L22.2 340.7 L21.4 342.4 L21.8 344.9 L24.2 345.2 L24.2 347.0 L23.0 346.3 L21.2 345.2 L20.2 344.2 Z M-140.8 318.3 L-140.2 318.3 L-140.5 318.6 Z M-117.9 308.9 L-117.0 308.3 L-116.8 308.7 L-117.2 309.2 Z M66.9 376.4 L67.9 377.8 L67.4 378.1 L66.9 377.3 Z M74.6 387.3 L75.3 387.9 L74.9 388.2 Z M-214.8 277.4 L-213.9 276.6 L-214.6 276.4 Z M-284.7 377.0 L-284.0 377.1 L-284.3 377.4 L-283.2 378.4 L-282.9 378.8 Z M-53.8 393.0 L-53.2 393.1 L-53.4 393.7 Z M19.8 345.6 L21.2 346.3 L20.9 347.5 L20.1 347.0 Z M-244.0 258.7 L-249.3 259.3 L-254.5 259.4 L-258.0 258.7 L-256.3 256.9 L-250.4 256.7 L-245.8 257.3 Z M-63.1 381.7 L-61.7 386.6 L-62.5 388.7 L-63.1 390.8 L-64.1 393.7 L-65.2 397.9 L-65.8 400.0 L-67.9 400.7 L-69.3 399.8 L-70.1 395.8 L-69.0 393.0 L-69.3 389.4 L-67.0 387.0 L-65.2 385.2 L-64.6 383.8 Z M21.8 354.8 L23.6 353.7 L23.8 352.5 L25.9 351.1 L27.1 354.1 L26.7 355.8 L25.9 356.5 L24.2 355.5 Z M-317.0 272.0 L-314.7 273.4 L-313.3 273.7 L-310.6 273.5 L-308.9 273.1 L-308.6 274.5 L-310.6 275.0 L-313.0 275.7 L-314.1 276.8 L-314.5 278.5 L-313.0 279.5 L-310.6 280.0 L-309.8 281.7 L-306.5 282.2 L-304.2 281.7 L-304.8 283.4 L-306.3 284.8 L-308.3 285.8 L-310.6 287.0 L-313.0 287.5 L-311.2 287.4 L-308.9 286.5 L-306.5 285.8 L-304.2 284.8 L-302.4 283.4 L-300.7 282.0 L-299.5 280.9 L-298.1 281.0 L-297.2 278.9 L-296.0 278.2 L-295.4 279.2 L-293.7 279.9 L-291.9 279.2 L-289.6 279.9 L-286.7 279.9 L-284.3 280.3 L-282.6 281.2 L-280.8 282.2 L-279.7 282.7 L-277.9 284.1 L-276.7 285.6 L-275.0 287.0 L-273.2 287.5 L-272.6 289.1 L-271.5 290.5 L-270.3 291.5 L-269.7 292.6 L-268.0 293.6 L-266.8 294.3 L-265.0 295.2 L-264.2 295.6 L-263.9 296.9 L-264.5 298.1 L-265.6 297.0 L-266.4 296.3 L-265.9 298.3 L-265.6 299.4 L-265.6 302.5 L-266.2 304.2 L-265.9 306.8 L-266.1 307.6 L-265.4 308.9 L-264.5 311.0 L-263.9 311.7 L-263.3 312.7 L-263.1 313.4 L-262.1 314.5 L-261.7 315.8 L-260.4 316.1 L-259.2 316.6 L-258.4 317.4 L-257.7 318.5 L-257.0 320.2 L-256.3 321.9 L-255.5 322.9 L-254.3 324.3 L-254.1 325.3 L-252.5 327.1 L-251.7 328.9 L-251.5 330.2 L-250.2 331.3 L-249.2 332.3 L-248.7 331.5 L-249.6 330.5 L-250.1 329.6 L-251.0 328.0 L-251.8 325.8 L-252.8 324.4 L-253.7 322.6 L-254.8 320.9 L-254.9 319.8 L-253.9 320.5 L-252.7 321.6 L-251.8 323.3 L-250.4 325.3 L-249.3 326.5 L-248.5 328.2 L-246.9 329.4 L-245.2 331.8 L-244.0 334.3 L-243.8 335.9 L-242.8 337.6 L-241.7 338.8 L-239.3 339.8 L-237.6 340.8 L-235.8 341.8 L-233.5 342.5 L-231.7 341.9 L-230.6 341.8 L-228.6 344.1 L-227.1 345.1 L-225.3 345.6 L-223.6 346.0 L-223.0 346.3 L-222.2 347.3 L-221.0 348.9 L-220.9 350.3 L-220.1 350.8 L-218.9 352.0 L-217.7 353.0 L-216.6 353.1 L-215.4 353.8 L-214.6 354.2 L-214.2 353.4 L-213.6 352.1 L-212.5 352.8 L-211.8 354.4 L-211.3 355.5 L-211.2 359.0 L-211.3 360.5 L-212.6 362.2 L-213.6 363.3 L-214.3 364.7 L-214.8 366.1 L-215.3 367.8 L-214.4 368.9 L-215.6 370.8 L-215.5 372.9 L-214.2 374.6 L-213.0 376.7 L-211.9 379.5 L-210.7 381.7 L-209.8 384.5 L-208.6 386.5 L-206.6 388.0 L-204.3 389.4 L-202.9 390.7 L-202.8 393.7 L-202.8 397.2 L-203.1 400.7 L-203.7 403.6 L-204.3 407.1 L-204.4 410.6 L-204.6 413.5 L-205.5 415.6 L-206.3 417.3 L-206.9 419.8 L-207.0 423.4 L-206.6 424.8 L-207.0 426.9 L-207.8 429.0 L-208.6 431.1 L-209.0 434.0 L-208.6 436.8 L-207.8 438.9 L-206.0 440.3 L-203.7 441.0 L-201.9 438.9 L-200.7 438.6 L-201.6 436.8 L-201.2 435.8 L-200.0 434.0 L-197.9 432.3 L-199.6 430.1 L-199.4 429.0 L-197.3 428.3 L-196.9 426.9 L-196.1 425.2 L-195.3 424.3 L-196.7 423.4 L-196.7 422.4 L-193.8 422.1 L-193.4 419.8 L-192.0 419.7 L-189.1 419.1 L-187.9 418.4 L-187.0 416.3 L-187.7 415.3 L-187.9 414.2 L-189.1 413.2 L-188.3 413.5 L-186.4 414.0 L-185.0 414.0 L-183.6 413.3 L-183.1 412.3 L-181.7 410.2 L-180.6 408.5 L-179.7 407.4 L-178.8 406.0 L-177.6 404.7 L-177.4 402.2 L-177.4 400.7 L-176.2 399.8 L-174.8 398.6 L-173.1 397.6 L-171.1 397.2 L-169.8 397.1 L-168.6 395.8 L-167.7 393.7 L-167.1 392.3 L-166.5 389.4 L-166.3 386.6 L-166.3 384.5 L-165.7 383.1 L-164.8 381.7 L-164.0 380.0 L-162.6 378.1 L-161.6 376.0 L-161.4 374.6 L-161.9 372.5 L-162.8 371.8 L-164.6 371.2 L-165.7 369.9 L-167.5 368.7 L-169.6 368.8 L-171.6 368.1 L-172.7 368.7 L-173.9 366.7 L-176.2 365.7 L-177.4 366.1 L-179.2 364.7 L-179.7 362.6 L-180.3 359.8 L-181.5 358.2 L-183.2 356.8 L-185.0 356.2 L-187.3 356.2 L-188.5 355.1 L-190.3 353.4 L-191.4 352.7 L-192.6 350.8 L-193.8 349.9 L-195.5 349.7 L-197.3 350.4 L-199.0 349.7 L-200.4 349.9 L-201.9 348.4 L-202.8 347.5 L-202.5 348.6 L-204.2 349.3 L-204.3 349.2 L-204.9 348.0 L-204.5 347.2 L-205.5 348.2 L-206.6 348.7 L-207.8 349.2 L-209.0 349.9 L-209.3 351.3 L-210.1 352.4 L-211.2 352.5 L-211.9 351.6 L-213.6 351.1 L-214.8 351.8 L-216.0 352.1 L-216.9 351.6 L-217.7 350.6 L-218.5 349.2 L-218.4 347.0 L-218.3 344.9 L-218.0 343.5 L-219.5 342.2 L-221.2 342.1 L-223.2 342.2 L-224.1 342.4 L-223.9 340.7 L-223.8 338.6 L-223.3 337.1 L-223.0 335.7 L-222.2 334.5 L-223.6 334.2 L-225.3 334.6 L-226.4 335.0 L-226.5 336.9 L-227.7 338.6 L-228.8 338.4 L-230.6 339.0 L-231.7 338.4 L-232.9 337.6 L-233.5 336.4 L-234.3 335.0 L-235.0 333.2 L-234.9 330.8 L-234.5 328.0 L-234.3 325.8 L-233.5 324.7 L-231.7 323.4 L-230.6 322.7 L-228.8 322.9 L-227.1 323.4 L-225.3 323.7 L-225.3 322.0 L-224.1 321.7 L-223.0 321.9 L-221.2 321.7 L-220.1 322.7 L-218.9 322.3 L-217.7 323.7 L-217.4 325.4 L-216.8 327.1 L-216.0 328.2 L-215.3 329.2 L-214.6 328.7 L-214.2 327.2 L-214.6 325.4 L-214.9 324.3 L-215.6 322.6 L-215.9 321.2 L-215.4 319.5 L-214.2 318.5 L-213.0 317.4 L-211.9 316.8 L-210.7 315.8 L-209.5 315.2 L-209.0 314.5 L-209.3 313.1 L-209.8 312.4 L-209.4 311.7 L-209.0 310.7 L-208.5 309.9 L-207.8 309.0 L-207.2 307.9 L-207.1 307.0 L-206.0 306.5 L-204.3 306.2 L-203.1 305.9 L-202.5 305.6 L-203.2 304.8 L-203.3 303.8 L-202.5 302.8 L-201.4 302.4 L-199.6 301.7 L-198.9 301.1 L-196.7 300.3 L-196.0 300.0 L-196.1 300.7 L-197.9 302.1 L-197.6 302.9 L-196.1 302.2 L-194.9 301.7 L-193.2 301.1 L-192.0 300.7 L-192.6 300.1 L-193.8 300.1 L-195.3 299.5 L-196.3 298.7 L-196.7 297.8 L-196.3 297.1 L-197.3 296.9 L-196.1 295.7 L-197.3 295.2 L-199.6 295.2 L-200.8 296.2 L-202.2 297.6 L-203.1 298.3 L-203.9 298.6 L-202.5 297.1 L-201.4 296.0 L-200.2 295.0 L-198.4 293.8 L-195.5 293.6 L-192.6 293.8 L-190.3 293.3 L-187.9 292.1 L-186.2 291.2 L-185.8 289.8 L-186.8 288.4 L-188.5 287.7 L-190.3 286.7 L-192.0 285.6 L-192.9 284.1 L-193.8 282.7 L-194.9 281.3 L-196.1 279.5 L-197.0 280.2 L-197.3 281.3 L-198.4 281.7 L-199.6 282.3 L-200.8 281.6 L-201.9 281.0 L-201.9 279.5 L-202.5 278.5 L-204.3 278.2 L-205.5 277.4 L-207.2 276.8 L-209.0 276.6 L-211.3 276.4 L-212.1 277.1 L-211.3 278.8 L-211.6 280.6 L-210.7 282.0 L-210.1 283.7 L-210.5 285.3 L-211.3 286.3 L-213.0 287.4 L-213.6 288.4 L-212.8 290.5 L-213.0 291.9 L-214.2 292.2 L-215.4 291.2 L-216.6 289.9 L-216.9 288.4 L-217.1 287.0 L-218.9 286.5 L-221.2 285.8 L-223.6 284.8 L-225.3 284.3 L-227.1 283.9 L-228.8 284.1 L-230.0 282.0 L-231.4 281.3 L-231.5 279.9 L-231.2 278.5 L-230.0 277.4 L-228.8 276.4 L-227.1 275.7 L-226.5 274.7 L-224.1 274.2 L-222.4 273.1 L-221.2 271.1 L-219.5 270.3 L-217.7 270.0 L-216.0 268.6 L-216.0 266.9 L-217.1 266.2 L-220.1 266.0 L-221.2 267.9 L-223.6 268.2 L-225.3 267.2 L-227.1 266.5 L-228.8 265.8 L-228.2 264.4 L-230.0 262.9 L-232.3 264.4 L-232.9 266.5 L-234.1 268.6 L-235.8 268.3 L-237.6 268.9 L-239.9 268.9 L-242.3 268.3 L-244.6 267.5 L-246.9 267.9 L-247.5 269.0 L-249.3 268.6 L-252.2 268.9 L-254.5 268.3 L-255.1 268.6 L-258.0 267.2 L-261.0 266.6 L-263.3 266.0 L-266.2 266.5 L-266.8 265.8 L-269.7 265.3 L-271.5 266.0 L-273.2 266.3 L-275.6 266.5 L-276.7 266.6 L-277.9 266.3 L-279.7 267.3 L-282.0 266.8 L-284.3 266.3 L-286.1 266.2 L-288.4 265.6 L-290.8 265.6 L-293.7 265.3 L-296.6 265.1 L-298.9 264.6 L-301.3 264.4 L-303.6 263.9 L-305.4 264.5 L-307.7 265.1 L-309.4 265.3 L-311.2 266.0 L-313.0 267.3 L-314.9 267.3 L-315.3 268.2 L-313.0 269.2 L-312.0 269.9 L-310.6 270.1 L-309.4 270.9 L-311.2 271.3 L-313.0 270.7 L-314.1 271.1 L-315.3 271.6 Z M52.6 372.5 L55.1 372.5 L56.9 371.1 L57.2 371.8 L55.7 373.3 L53.4 373.5 Z M70.7 393.0 L71.3 393.2 L74.4 396.1 L73.8 396.5 L70.9 394.0 Z M-190.0 297.4 L-186.8 297.4 L-185.6 298.4 L-183.2 298.8 L-182.3 297.6 L-182.7 296.2 L-183.8 294.9 L-185.6 294.3 L-185.9 292.6 L-185.6 291.8 L-187.1 292.2 L-187.9 293.2 L-189.1 295.2 L-189.7 296.2 Z M32.3 366.5 L34.1 365.4 L35.8 366.0 L37.0 369.4 L39.9 366.8 L42.9 368.1 L45.8 369.2 L48.7 371.1 L49.6 372.5 L51.6 373.5 L52.0 376.0 L53.4 377.4 L55.5 379.3 L54.0 379.4 L51.6 378.8 L49.9 376.7 L47.5 375.7 L46.7 377.4 L44.0 377.7 L41.7 376.1 L40.5 376.6 L40.3 374.6 L41.1 373.9 L38.2 371.2 L36.4 370.4 L35.3 370.1 L34.1 368.2 L35.3 368.0 L33.5 367.5 Z M62.5 376.0 L63.7 376.6 L63.3 377.0 Z M55.1 368.2 L56.9 369.4 L58.0 371.1 L57.8 371.5 L56.3 369.9 Z M37.6 258.0 L40.5 259.1 L44.0 260.1 L46.9 261.1 L51.0 259.7 L55.1 258.7 L52.2 258.0 L48.7 257.6 L45.2 257.0 L41.7 257.1 Z M-60.3 263.6 L-58.2 264.6 L-53.5 264.9 L-55.3 263.6 L-53.0 262.0 L-50.6 260.1 L-47.7 258.7 L-44.8 257.6 L-40.7 256.0 L-44.8 256.2 L-48.9 256.9 L-52.4 258.0 L-55.3 259.8 L-56.5 261.5 L-58.8 262.5 Z M81.1 413.3 L83.2 414.9 L84.3 417.0 L84.9 417.8 L87.3 417.8 L87.8 419.1 L86.1 420.1 L85.9 421.2 L84.0 423.5 L83.3 422.9 L83.8 421.2 L82.4 420.1 L83.3 418.4 L83.2 417.0 L82.0 414.9 Z M81.1 421.9 L82.8 423.1 L82.0 424.8 L81.2 426.6 L79.4 427.3 L78.7 429.4 L76.7 430.6 L73.8 429.7 L74.4 428.3 L76.2 426.9 L78.5 425.5 L79.7 423.8 Z M-124.7 281.0 L-123.7 280.9 L-124.1 281.6 Z M16.2 352.8 L18.9 348.9 L19.1 349.9 L16.6 353.1 Z M21.8 348.0 L23.0 349.2 L23.2 351.3 L22.3 350.8 L21.8 349.6 Z M-255.1 256.6 L-261.0 257.6 L-263.9 256.9 L-261.0 255.4 L-256.3 255.2 Z M-199.3 338.7 L-197.4 338.7 L-197.4 339.3 L-199.3 339.3 Z M-233.5 262.9 L-236.4 263.2 L-239.9 261.8 L-238.8 260.8 L-235.2 260.4 L-233.5 261.5 Z M-275.0 291.2 L-276.1 289.1 L-275.6 288.4 L-273.8 289.8 Z M-56.2 394.2 L-55.5 394.4 L-55.9 394.9 Z M28.4 326.7 L29.2 326.7 L28.8 327.8 Z M49.4 343.1 L49.8 343.1 L49.5 343.6 Z M45.2 299.7 L46.9 299.0 L46.6 295.2 L47.5 294.7 L46.7 291.9 L46.6 289.8 L46.1 288.0 L45.4 288.1 L44.8 289.4 L45.2 292.6 L45.2 296.9 Z M24.5 347.0 L25.9 347.7 L25.9 349.9 L25.1 350.6 L24.5 348.7 Z M-322.7 383.6 L-321.0 384.2 L-321.7 384.6 Z M-110.9 309.6 L-111.2 307.3 L-110.6 306.5 L-109.3 306.8 L-109.5 309.3 L-110.2 309.6 Z M28.8 369.2 L32.1 369.5 L31.2 370.1 L29.1 369.8 Z M-14.4 252.3 L-9.7 253.9 L-3.3 254.5 L0.2 253.3 L2.0 252.3 L-1.5 250.9 L-3.9 249.9 L-7.4 250.2 L-12.1 250.9 Z M-214.8 274.5 L-218.9 275.7 L-221.8 275.0 L-222.4 272.8 L-219.5 271.7 L-216.0 273.5 Z M-122.4 278.8 L-121.9 279.3 L-122.3 280.0 Z M34.1 317.6 L35.3 317.5 L36.5 316.9 L36.1 316.2 L34.7 316.5 Z M-106.2 311.1 L-105.2 310.7 L-102.5 310.6 L-103.1 312.4 L-104.0 312.7 L-106.0 311.6 Z M-27.4 355.5 L-27.5 353.4 L-27.0 350.8 L-26.1 352.3 L-25.0 354.4 L-25.8 355.9 L-27.0 356.2 Z M-58.5 346.9 L-57.0 346.8 L-57.4 347.3 Z M-226.5 262.9 L-229.4 262.8 L-231.7 261.8 L-231.2 260.1 L-228.2 260.0 L-226.5 260.8 Z M18.9 372.5 L20.0 372.5 L20.1 368.9 L20.7 368.4 L21.8 371.1 L23.0 371.5 L21.8 368.9 L21.2 367.2 L23.3 366.1 L21.2 366.0 L20.1 365.4 L20.2 364.0 L21.8 363.3 L24.7 363.3 L25.6 362.6 L24.2 364.1 L20.7 364.1 L19.5 363.7 L19.3 365.4 L18.1 368.2 L18.7 369.6 Z M-9.4 356.8 L-6.8 357.4 L-5.6 359.0 L-3.9 361.2 L-2.1 362.2 L-0.4 364.0 L0.8 366.1 L2.0 368.2 L3.1 369.4 L2.9 372.9 L1.4 372.9 L0.2 371.5 L-1.2 370.1 L-2.7 368.0 L-3.5 365.8 L-4.8 364.0 L-5.6 362.2 L-6.8 360.7 L-8.6 359.0 Z M15.7 376.7 L18.3 376.3 L18.1 377.1 L16.0 377.4 Z M-108.1 252.3 L-107.3 253.3 L-105.0 254.2 L-103.2 255.6 L-101.5 256.6 L-100.3 255.6 L-98.5 254.5 L-96.2 253.8 L-94.4 253.0 L-89.2 252.2 L-88.6 251.4 L-92.7 251.1 L-97.4 250.9 L-100.9 251.6 L-103.2 251.9 L-106.1 251.9 Z M-295.5 389.4 L-295.0 389.6 L-295.3 390.0 Z M48.4 422.2 L52.6 422.5 L52.6 424.3 L51.6 425.8 L49.9 426.2 L48.9 424.3 Z M-140.5 324.6 L-139.5 324.3 L-139.9 325.1 Z M24.2 379.3 L25.6 377.4 L27.9 376.6 L26.5 377.8 Z M-325.7 394.4 L-325.2 394.5 L-325.5 394.9 Z M-193.1 349.6 L-192.0 349.4 L-192.0 350.4 L-193.1 350.4 Z M19.7 332.8 L19.6 331.5 L20.7 329.4 L21.7 329.4 L21.2 331.5 L20.5 333.6 Z M-264.8 296.3 L-266.8 295.7 L-268.6 294.7 L-270.7 293.3 L-269.7 292.9 L-267.4 293.6 L-265.6 294.9 Z M88.0 388.2 L89.6 387.6 L89.4 388.4 L88.2 388.6 Z M-239.3 267.2 L-243.4 266.9 L-246.9 267.2 L-251.6 267.7 L-255.7 266.9 L-258.0 266.0 L-259.2 265.1 L-257.5 264.4 L-259.8 263.6 L-258.0 262.2 L-253.9 261.1 L-250.4 262.1 L-247.5 262.1 L-244.6 261.2 L-242.8 261.5 L-239.9 263.6 L-238.8 265.1 Z M86.4 389.4 L87.3 389.2 L88.0 390.1 L86.7 390.6 Z M87.8 264.4 L90.2 263.6 L92.5 264.1 L92.5 263.5 L89.6 263.4 Z M-74.9 372.8 L-74.5 373.0 L-74.7 373.7 Z M-52.6 300.4 L-51.2 299.3 L-49.2 298.6 L-48.9 300.4 L-50.0 301.9 L-51.8 302.5 Z M-250.4 281.6 L-246.9 280.6 L-244.0 281.0 L-248.1 281.9 Z M0.6 291.8 L2.5 291.2 L5.5 289.1 L7.6 285.8 L6.9 285.8 L4.3 289.1 L1.4 290.9 Z M-34.8 299.4 L-33.1 298.8 L-30.8 299.0 L-28.2 298.7 L-29.0 299.4 L-32.5 299.7 L-34.3 300.4 Z M-218.2 305.8 L-216.0 306.0 L-214.2 305.2 L-212.9 304.2 L-214.2 304.5 L-216.0 304.5 L-217.7 305.3 Z M-266.8 272.8 L-264.5 270.7 L-259.8 270.0 L-258.0 271.0 L-260.4 272.1 L-262.1 273.0 L-264.5 272.4 Z M-257.5 278.5 L-253.9 276.4 L-248.1 275.9 L-250.4 276.8 L-255.7 278.5 Z M-219.5 299.8 L-218.3 299.8 L-216.0 300.0 L-214.8 300.7 L-214.2 301.8 L-215.7 302.1 L-216.2 303.6 L-217.1 303.9 L-217.5 302.5 L-218.3 302.5 L-218.1 301.1 L-219.5 300.4 Z M-85.7 279.9 L-84.5 280.0 L-82.4 278.9 L-83.3 277.8 L-85.1 278.1 L-85.7 279.2 Z M-80.4 378.3 L-80.0 378.8 L-79.6 385.2 L-80.2 384.9 L-80.7 381.0 Z M-223.3 305.3 L-223.0 305.9 L-222.2 305.8 L-221.6 304.6 L-221.6 302.5 L-220.8 301.1 L-219.8 300.0 L-220.6 299.8 L-221.8 300.0 L-223.0 301.1 L-223.6 301.8 L-223.1 303.2 Z M-80.4 278.5 L-78.7 278.2 L-78.3 277.1 L-79.8 275.9 L-80.4 276.8 Z M-214.0 303.5 L-212.5 303.4 L-209.9 303.2 L-209.8 302.4 L-211.3 302.5 L-213.5 302.9 Z M-228.4 298.7 L-226.5 298.8 L-224.1 298.3 L-223.0 299.0 L-220.1 298.6 L-219.6 299.0 L-219.8 297.6 L-221.2 296.2 L-224.1 296.2 L-225.3 296.9 L-226.8 297.8 Z M-86.6 369.4 L-86.1 369.6 L-85.1 373.9 L-84.5 377.0 L-85.0 377.0 L-86.3 373.9 L-86.7 371.1 Z M-202.5 386.3 L-201.7 386.6 L-201.0 387.6 L-201.6 387.7 L-202.5 387.0 Z M-83.7 366.1 L-82.2 364.3 L-81.0 365.1 L-81.0 366.1 L-81.6 368.2 L-83.3 368.5 L-83.8 366.8 Z M-234.1 293.3 L-233.3 291.9 L-234.7 290.5 L-235.8 288.7 L-236.4 289.1 L-234.7 291.9 Z M293.0 314.1 L292.0 316.6 L290.0 317.8 L288.9 318.8 L288.5 320.9 L288.7 322.3 L287.7 323.7 L286.5 324.8 L284.7 325.8 L283.0 327.7 L282.4 329.4 L281.2 331.1 L280.7 332.9 L280.1 335.0 L280.7 337.1 L281.0 339.3 L280.7 341.7 L279.5 343.9 L280.3 345.6 L280.4 347.2 L281.8 348.4 L282.8 349.9 L284.2 351.3 L284.5 352.7 L285.9 354.1 L287.1 355.1 L288.8 356.9 L291.2 358.5 L292.9 357.8 L295.3 357.4 L297.6 358.1 L299.9 356.9 L301.7 355.9 L304.0 355.7 L305.8 356.5 L306.9 358.6 L308.7 358.3 L309.9 358.3 L311.0 359.3 L311.4 361.2 L311.0 363.3 L310.8 365.4 L310.2 366.1 L312.2 368.9 L313.7 371.2 L314.3 373.2 L315.1 376.0 L315.7 378.1 L316.1 380.0 L314.8 383.1 L314.0 385.9 L313.7 388.7 L314.5 390.8 L315.7 393.7 L316.9 396.5 L317.5 400.0 L317.8 402.9 L319.2 405.1 L320.1 407.8 L321.2 409.9 L321.0 411.3 L321.6 412.9 L323.3 413.9 L326.2 412.8 L329.1 412.8 L330.9 412.3 L332.7 411.1 L334.4 408.8 L336.2 406.4 L337.8 405.0 L338.3 402.2 L338.5 400.7 L340.8 399.3 L341.4 396.5 L341.4 394.4 L340.6 392.7 L342.6 390.8 L343.8 389.4 L346.1 388.0 L347.3 385.2 L347.3 380.2 L346.1 376.0 L345.9 373.9 L345.5 371.8 L346.7 369.6 L348.4 367.2 L350.2 364.0 L351.9 362.6 L354.3 360.5 L356.0 357.6 L357.8 354.1 L358.9 351.3 L359.9 348.0 L358.4 348.4 L356.6 348.9 L353.7 349.6 L351.9 350.0 L350.5 348.4 L349.9 347.0 L348.4 345.2 L346.7 342.8 L345.5 340.7 L344.3 338.6 L343.5 335.0 L342.9 333.6 L341.4 331.5 L340.8 329.4 L339.7 327.0 L338.5 324.4 L338.0 322.4 L337.7 320.5 L336.2 320.0 L334.4 320.9 L331.5 320.3 L329.1 320.0 L326.8 318.6 L324.5 318.3 L323.3 319.6 L323.3 321.0 L322.1 321.9 L320.4 320.9 L318.6 320.5 L317.7 319.0 L315.1 318.2 L313.4 317.8 L312.2 316.6 L312.8 314.8 L312.2 313.1 L312.8 312.4 L311.6 312.0 L309.9 312.5 L307.5 312.4 L305.8 312.7 L303.4 312.7 L301.1 313.1 L298.8 314.5 L297.4 315.1 L295.3 315.0 L293.7 314.0 Z M204.6 289.8 L205.8 289.8 L205.3 289.5 Z M450.9 324.4 L451.5 324.4 L451.3 325.0 Z M408.1 345.5 L408.6 345.8 L408.4 348.4 L408.0 348.0 Z M432.6 395.8 L433.1 395.5 L436.1 393.8 L438.4 393.4 L441.3 392.3 L442.7 390.1 L444.2 388.7 L445.4 386.6 L447.2 384.8 L448.9 384.5 L450.1 385.9 L451.3 385.6 L451.8 383.5 L452.4 382.2 L454.8 381.2 L455.9 381.5 L457.7 381.9 L459.7 381.9 L458.6 383.8 L458.3 385.6 L460.0 387.0 L461.8 388.4 L463.5 389.7 L464.5 388.7 L465.3 385.9 L465.4 382.8 L466.4 379.8 L467.6 382.4 L468.0 384.9 L469.7 385.9 L470.0 388.0 L470.9 391.6 L473.8 393.7 L475.2 396.1 L476.4 397.9 L478.7 400.5 L479.3 404.3 L478.7 408.5 L477.5 410.9 L476.4 412.8 L475.2 416.3 L475.0 417.8 L472.3 418.4 L470.9 420.0 L468.8 418.7 L467.0 419.5 L464.7 418.5 L463.3 417.4 L462.9 415.3 L461.2 415.0 L461.8 413.5 L460.8 414.4 L459.8 414.6 L461.0 411.3 L458.9 413.9 L457.7 413.5 L456.7 411.1 L453.0 409.2 L449.5 409.9 L446.0 411.1 L444.2 412.6 L440.2 412.8 L437.8 414.2 L434.9 413.2 L434.3 412.0 L435.1 409.9 L434.3 407.1 L434.1 405.0 L432.6 402.2 L432.8 399.3 Z M266.4 310.0 L268.4 309.9 L267.8 310.3 Z M269.7 311.1 L270.5 311.1 L270.1 311.4 Z M208.8 327.0 L210.0 327.2 L209.7 328.0 L208.6 327.4 Z M208.6 329.1 L209.1 329.6 L209.0 330.8 L208.4 330.1 Z M210.5 329.4 L211.1 330.1 L211.9 331.3 L211.6 331.6 L210.9 330.4 Z M212.9 330.8 L213.1 332.2 L213.8 334.3 L214.6 334.6 L215.2 333.9 Z M433.6 376.1 L435.1 376.6 L434.5 377.1 Z M186.6 258.7 L182.5 258.7 L181.9 256.9 L186.0 256.6 Z M207.0 285.6 L207.6 284.8 L207.3 284.7 Z M224.2 276.4 L219.9 276.8 L216.4 275.7 L213.5 274.2 L209.4 273.8 L211.1 272.4 L214.0 271.1 L214.6 269.3 L212.9 268.2 L210.0 268.6 L208.2 266.5 L204.7 265.8 L200.6 265.3 L197.1 265.1 L195.4 263.6 L194.8 262.2 L195.9 261.1 L200.0 260.8 L204.1 260.5 L208.8 262.1 L212.3 262.4 L215.8 263.6 L218.1 264.8 L220.5 265.8 L222.2 267.5 L224.6 268.9 L227.5 270.3 L226.3 271.1 L223.4 272.1 L224.0 273.5 L224.6 275.0 Z M155.6 264.4 L153.3 262.9 L154.5 260.8 L156.2 259.7 L160.3 259.8 L163.2 260.8 L164.4 262.2 L161.5 263.2 L158.5 263.9 Z M427.3 362.6 L428.0 361.9 L429.6 362.2 L432.0 360.2 L433.7 358.3 L434.9 357.1 L436.4 354.9 L437.5 355.8 L439.2 357.2 L437.8 358.3 L437.5 360.0 L437.8 362.6 L439.0 363.3 L437.6 363.6 L437.2 365.4 L436.2 366.8 L436.1 368.9 L435.4 369.9 L433.7 370.4 L432.0 369.2 L430.5 368.9 L428.7 368.8 L428.5 366.8 L427.3 365.4 L427.3 364.0 Z M480.6 372.0 L482.0 373.9 L481.6 374.3 L480.8 373.2 Z M447.2 369.2 L448.6 369.4 L448.1 370.1 L447.2 369.8 Z M206.5 262.0 L210.0 262.0 L210.5 261.1 L206.5 260.7 Z M357.2 299.0 L359.5 298.3 L361.9 298.6 L361.9 300.7 L359.9 301.8 L359.5 303.6 L361.3 305.3 L361.9 307.2 L362.4 308.9 L362.9 312.0 L360.7 312.8 L358.4 312.1 L357.2 311.0 L357.8 308.2 L357.2 306.0 L355.4 304.2 L355.4 302.5 L354.9 301.1 L355.4 299.7 Z M115.8 361.9 L116.2 361.9 L116.0 362.3 Z M202.9 276.8 L204.7 276.1 L203.5 275.7 L202.4 276.1 Z M350.4 380.8 L350.8 380.8 L350.5 381.5 Z M310.0 306.0 L310.0 304.6 L310.9 303.9 L311.0 305.3 L310.7 306.2 Z M187.2 259.4 L190.7 259.1 L189.5 258.1 L187.2 258.3 Z M327.4 314.8 L328.6 314.7 L330.7 315.0 L330.3 315.2 L328.8 315.4 L327.4 315.0 Z M200.7 333.7 L201.8 332.6 L204.1 332.1 L206.5 332.1 L208.8 333.2 L211.1 334.7 L213.2 336.2 L212.3 336.6 L210.0 336.6 L209.4 335.4 L208.2 334.3 L206.5 333.9 L204.7 333.3 L202.9 333.6 L201.5 334.2 Z M270.5 340.5 L270.8 340.5 L270.7 341.0 Z M272.1 343.1 L272.5 343.1 L272.4 343.6 Z M337.7 315.7 L337.9 315.1 L339.1 314.8 L340.4 314.4 L339.7 315.2 L338.5 315.8 Z M206.5 259.3 L200.6 259.4 L194.8 259.3 L192.4 258.7 L188.9 258.0 L191.8 256.9 L197.1 256.7 L201.8 256.6 L205.9 257.0 L207.0 258.0 Z M496.5 389.4 L496.9 389.7 L496.6 390.0 Z M206.5 257.0 L199.4 256.9 L195.4 256.6 L195.9 255.4 L193.0 254.5 L191.3 253.0 L187.8 251.6 L188.9 250.2 L193.6 249.5 L198.3 248.8 L204.1 247.7 L210.0 247.4 L218.1 247.4 L225.1 247.8 L228.1 248.4 L224.6 249.5 L220.5 250.5 L217.6 251.6 L214.6 252.6 L212.3 253.6 L211.7 254.5 L208.2 255.6 L205.9 256.2 Z M178.4 255.2 L181.3 254.5 L183.1 253.3 L179.6 253.0 L176.7 254.0 Z M187.2 254.5 L189.5 254.0 L187.8 253.3 L186.0 253.9 Z M494.5 385.6 L495.3 385.9 L495.1 386.7 L494.6 386.5 Z M338.0 322.4 L339.1 325.1 L340.0 325.4 L340.4 323.7 L340.8 323.0 L341.4 325.1 L342.6 328.0 L344.3 330.8 L345.5 333.6 L346.4 336.4 L347.8 339.3 L349.6 342.1 L349.9 344.2 L350.5 346.6 L351.9 346.8 L353.1 346.3 L356.6 344.9 L358.4 343.8 L360.7 342.7 L362.4 341.4 L364.8 339.5 L366.3 338.4 L367.5 337.6 L368.3 335.7 L369.8 333.0 L368.3 331.3 L366.5 330.8 L365.8 329.5 L365.7 327.5 L364.8 328.7 L363.6 330.4 L361.3 330.5 L360.2 330.1 L360.2 328.1 L359.8 327.8 L359.3 329.6 L358.6 328.2 L357.8 326.5 L356.6 324.7 L356.0 323.0 L357.0 322.3 L358.4 322.0 L359.3 323.7 L360.1 325.3 L362.4 326.8 L364.8 327.0 L366.0 326.4 L366.9 328.2 L368.9 328.8 L371.8 329.2 L374.1 328.9 L377.6 328.8 L378.6 329.9 L380.0 331.5 L381.7 332.5 L380.6 333.2 L382.3 335.2 L384.7 334.3 L385.0 337.1 L385.2 339.3 L385.8 342.1 L387.0 344.9 L387.6 347.7 L388.7 350.6 L389.9 353.1 L390.5 353.3 L391.3 352.1 L392.5 351.6 L393.2 350.1 L393.4 347.0 L393.6 345.6 L393.4 343.2 L394.6 342.1 L396.1 340.7 L398.1 338.8 L399.8 337.0 L401.4 335.7 L401.6 334.3 L403.3 333.9 L404.5 333.6 L405.7 332.6 L406.9 333.0 L407.4 334.3 L407.8 335.4 L409.2 337.1 L410.0 339.3 L410.2 341.8 L411.5 342.4 L413.3 341.0 L414.0 342.1 L414.2 344.2 L415.0 347.0 L415.1 350.6 L414.8 352.7 L415.0 353.7 L416.8 355.5 L417.3 357.6 L418.0 359.8 L419.7 361.9 L420.9 362.9 L421.7 362.6 L420.9 360.5 L420.8 358.3 L419.4 355.9 L418.0 354.9 L417.1 353.0 L416.0 351.3 L415.9 349.2 L416.8 346.8 L417.8 345.8 L418.5 346.9 L419.7 347.5 L420.3 349.2 L422.0 350.0 L422.4 352.4 L423.8 351.7 L424.7 350.0 L426.7 348.7 L427.5 347.7 L427.7 345.6 L427.1 343.1 L425.5 341.4 L424.4 339.7 L423.6 337.8 L424.4 336.0 L425.5 334.3 L426.7 334.2 L427.9 334.3 L428.5 336.0 L429.1 334.6 L430.6 334.2 L432.6 333.3 L433.5 332.9 L435.5 332.3 L437.2 331.1 L438.4 329.9 L439.6 328.7 L439.8 327.2 L440.7 325.8 L441.9 324.4 L442.5 322.6 L441.3 321.5 L442.3 320.2 L441.1 318.5 L440.5 316.2 L439.3 315.2 L440.7 313.5 L443.1 312.4 L441.3 311.3 L439.0 312.1 L438.4 311.0 L437.5 309.9 L438.4 309.3 L439.6 308.3 L441.3 307.0 L441.9 309.6 L441.6 309.9 L442.8 308.9 L444.2 308.4 L445.4 308.4 L446.2 311.0 L447.8 311.7 L447.5 315.2 L447.8 316.1 L449.5 315.5 L451.0 314.8 L451.3 313.1 L450.7 311.0 L449.5 309.6 L448.9 308.4 L451.3 307.0 L451.5 305.9 L452.7 304.9 L454.2 303.6 L455.9 304.2 L458.3 302.8 L460.6 300.4 L461.8 298.3 L463.5 296.2 L464.1 294.0 L465.2 290.9 L464.7 289.8 L462.9 288.1 L460.6 288.5 L460.0 287.7 L457.9 287.2 L459.4 286.3 L461.2 284.8 L464.1 282.4 L466.4 281.0 L470.0 280.7 L473.5 280.9 L476.4 281.3 L478.1 281.3 L480.5 281.0 L481.1 279.9 L483.4 277.8 L486.3 277.4 L488.1 278.8 L486.9 279.9 L484.6 283.0 L483.2 284.1 L482.2 286.3 L481.9 288.4 L482.5 290.5 L483.0 292.6 L484.8 291.2 L486.9 289.1 L487.5 287.7 L489.2 285.6 L490.8 285.3 L489.8 283.4 L491.0 282.0 L492.7 280.6 L494.5 279.9 L498.0 279.2 L499.2 279.9 L501.5 278.5 L503.8 277.4 L507.3 276.4 L509.1 276.4 L509.7 274.2 L508.5 273.5 L507.3 273.3 L509.7 272.8 L510.9 272.6 L513.8 272.1 L516.7 273.5 L519.0 273.7 L519.0 272.4 L521.4 271.7 L522.3 271.3 L520.8 270.3 L517.9 270.0 L515.5 269.2 L513.2 268.3 L510.3 267.5 L507.9 266.8 L504.4 266.0 L500.9 265.9 L498.6 265.6 L495.1 266.3 L490.4 266.2 L488.1 266.5 L486.9 265.1 L483.4 264.4 L478.1 264.5 L475.2 263.6 L471.7 262.5 L468.2 262.2 L464.7 261.8 L462.4 262.7 L459.4 263.5 L455.3 263.8 L452.4 264.6 L450.7 263.6 L449.5 261.8 L447.8 260.8 L445.4 260.4 L442.5 261.5 L439.0 261.4 L434.3 260.5 L432.6 260.8 L428.5 260.1 L431.4 258.0 L428.5 256.6 L425.0 255.9 L421.8 254.9 L418.0 255.9 L415.6 256.9 L412.1 257.1 L408.6 257.6 L405.1 258.1 L402.2 259.0 L400.4 260.1 L401.0 260.8 L398.1 261.5 L394.6 262.4 L391.1 262.5 L388.2 262.5 L387.0 269.3 L384.7 268.6 L384.7 265.1 L381.7 260.8 L380.0 264.4 L377.6 266.5 L378.2 267.9 L375.9 266.9 L372.4 266.2 L370.0 267.9 L367.7 267.9 L364.2 268.2 L361.9 267.9 L358.4 269.0 L354.3 268.6 L351.3 267.9 L350.8 269.3 L351.3 271.1 L349.0 270.7 L347.3 271.4 L346.1 273.1 L343.8 274.2 L342.0 273.4 L340.8 271.4 L338.5 270.7 L340.2 270.6 L344.3 271.3 L347.8 269.7 L346.7 268.6 L344.3 267.7 L340.8 266.9 L338.5 266.5 L335.0 266.0 L332.7 264.5 L329.1 264.2 L325.6 264.9 L322.1 265.8 L319.2 267.2 L316.3 268.6 L314.5 271.4 L312.8 273.5 L311.0 275.0 L308.1 276.1 L305.8 277.4 L305.8 279.2 L306.4 281.3 L306.9 282.4 L308.7 282.7 L311.0 281.3 L312.2 280.2 L312.8 281.3 L313.4 282.3 L314.0 283.4 L314.8 285.3 L315.1 286.4 L316.9 286.0 L318.6 284.8 L319.2 283.2 L321.0 281.3 L322.1 280.2 L320.4 278.9 L320.4 277.1 L322.1 275.0 L324.5 273.5 L326.2 271.8 L328.6 271.7 L329.7 272.8 L328.6 274.2 L325.6 275.7 L325.1 277.8 L325.1 279.2 L326.8 279.9 L329.7 279.5 L332.7 279.2 L335.0 280.0 L332.7 280.6 L328.0 280.7 L327.4 281.7 L328.6 282.4 L328.0 283.9 L325.6 283.4 L324.5 284.8 L324.5 286.5 L323.3 287.2 L321.6 287.7 L318.6 288.0 L316.3 288.4 L314.0 288.1 L312.8 288.4 L311.6 287.7 L311.6 286.3 L312.2 283.4 L311.0 283.9 L309.5 284.8 L309.9 286.3 L310.2 288.4 L308.1 289.1 L305.8 289.4 L305.2 290.8 L304.0 291.9 L302.9 292.5 L301.8 293.3 L301.5 294.0 L300.2 294.5 L298.8 294.9 L298.4 294.5 L297.7 294.5 L298.1 295.9 L296.4 295.7 L294.4 296.3 L294.9 297.1 L297.0 297.8 L297.6 299.0 L298.5 300.4 L298.4 302.5 L297.8 303.4 L295.8 303.2 L293.5 303.1 L290.6 302.9 L289.2 303.8 L289.7 305.3 L289.8 307.5 L288.8 309.9 L289.7 311.1 L289.5 312.4 L291.2 312.1 L292.6 312.7 L293.4 313.8 L294.7 312.8 L297.4 312.8 L299.0 311.6 L299.9 309.9 L299.6 308.9 L300.9 307.2 L302.5 306.2 L303.7 305.3 L303.6 303.9 L305.2 303.4 L306.9 303.8 L308.7 302.8 L310.2 301.9 L311.6 302.5 L312.2 304.1 L314.0 305.5 L315.7 306.5 L317.5 307.9 L318.6 309.6 L318.3 311.0 L319.2 310.3 L320.0 309.6 L319.3 308.2 L320.4 307.5 L321.6 308.0 L321.0 307.2 L318.6 306.0 L318.0 305.3 L316.3 304.6 L315.7 303.2 L314.3 301.8 L314.5 300.4 L315.9 300.1 L315.8 301.1 L316.9 300.8 L318.0 302.5 L319.8 303.6 L321.6 304.8 L322.7 305.6 L322.5 307.5 L323.3 308.9 L324.5 310.3 L325.1 312.4 L326.2 313.1 L326.8 311.7 L326.6 310.6 L328.0 310.7 L326.6 308.9 L326.2 307.5 L328.0 307.0 L330.3 307.0 L330.5 307.7 L332.1 306.9 L333.8 306.5 L332.7 305.9 L332.4 304.6 L333.2 303.2 L334.6 301.1 L335.6 299.0 L336.7 298.8 L337.9 299.7 L339.1 300.8 L339.1 301.8 L340.8 301.2 L342.6 300.7 L340.8 300.1 L341.4 299.0 L344.3 298.1 L345.9 298.0 L344.3 299.7 L343.8 301.1 L344.9 302.1 L346.4 303.2 L348.4 305.3 L348.5 306.0 L346.7 306.8 L344.3 306.9 L342.6 306.3 L340.8 305.3 L338.5 305.3 L336.7 306.5 L334.4 306.5 L333.8 307.6 L331.5 307.6 L330.5 308.9 L331.2 310.3 L331.8 311.7 L332.7 312.7 L334.4 313.5 L335.7 312.7 L337.3 313.5 L339.7 313.4 L341.4 313.0 L342.2 312.8 L341.8 314.1 L341.9 315.2 L340.8 318.1 L340.2 320.0 L339.1 320.7 L338.0 320.9 Z M228.3 437.2 L231.0 437.2 L232.5 437.6 L231.6 438.6 L229.2 438.5 Z M291.3 276.6 L292.2 276.6 L292.0 277.8 Z M91.4 390.1 L91.7 390.4 L91.2 390.8 Z M352.5 250.9 L356.0 251.4 L360.7 251.2 L358.4 250.2 L353.7 250.4 Z M361.3 251.6 L367.7 251.4 L372.4 250.8 L370.0 249.7 L364.2 249.8 Z M366.5 249.2 L372.4 249.1 L375.9 249.9 L370.0 249.9 Z M439.9 376.7 L443.5 376.1 L443.4 377.0 L440.2 377.1 Z M283.0 324.1 L283.8 324.1 L283.3 325.0 Z M192.9 364.8 L193.7 365.1 L193.7 366.1 L193.0 366.1 Z M293.3 293.9 L295.8 293.6 L298.8 293.0 L301.6 292.3 L301.0 291.5 L301.9 290.2 L300.3 289.4 L299.7 288.2 L298.2 287.0 L297.6 285.8 L296.4 285.6 L297.6 284.1 L297.8 283.3 L295.8 283.2 L296.3 281.9 L294.1 281.9 L293.7 283.4 L293.3 284.8 L293.5 286.1 L294.3 287.2 L296.1 287.5 L296.4 288.7 L296.4 289.4 L294.7 289.4 L295.0 290.1 L295.1 290.8 L293.9 291.5 L296.1 292.1 L294.7 292.5 L293.9 293.5 Z M281.5 325.0 L281.9 324.8 L281.8 325.4 Z M249.1 280.2 L246.8 279.2 L243.8 277.8 L242.1 275.9 L240.9 274.2 L239.2 272.1 L237.4 270.7 L237.4 268.6 L240.3 267.2 L238.6 266.5 L236.2 265.1 L239.2 264.4 L235.1 262.9 L233.9 260.8 L231.6 258.0 L228.1 257.0 L222.8 257.3 L219.3 256.6 L216.4 255.4 L214.6 254.2 L215.8 253.3 L220.5 251.6 L224.0 250.5 L228.7 249.1 L234.5 248.5 L241.5 248.1 L247.4 247.4 L255.5 246.7 L263.7 246.5 L270.7 247.1 L275.4 248.0 L271.9 248.8 L276.6 249.5 L282.4 249.1 L285.9 249.5 L281.2 250.9 L278.9 252.3 L277.1 253.8 L278.3 255.9 L276.6 257.3 L277.1 258.7 L275.4 259.8 L274.2 261.5 L273.6 262.9 L274.2 264.4 L273.1 265.1 L270.7 265.5 L269.6 267.2 L264.9 268.3 L262.0 268.6 L259.0 270.7 L255.5 272.0 L253.2 272.8 L252.0 275.0 L250.3 277.1 L249.7 279.2 Z M486.4 377.8 L487.8 378.6 L487.5 378.8 L486.7 378.3 Z M468.9 345.5 L469.4 345.5 L469.1 346.0 Z M448.9 362.6 L450.1 363.3 L449.5 364.7 L450.4 365.8 L449.3 365.4 L448.7 363.6 Z M117.8 336.2 L118.8 336.9 L118.0 338.0 L117.6 337.0 Z M116.8 335.2 L117.6 335.3 L117.3 335.6 Z M115.0 334.2 L115.7 334.6 L115.2 334.6 Z M113.3 333.3 L113.8 333.5 L113.6 333.7 Z M213.0 338.7 L215.0 336.6 L217.0 336.6 L218.7 337.6 L220.1 338.4 L218.7 339.0 L217.0 339.4 L215.8 339.0 L213.5 339.0 Z M427.0 338.6 L427.9 339.0 L429.1 338.1 L429.6 337.0 L429.1 336.3 L427.9 336.4 L426.8 337.6 Z M463.5 306.0 L464.7 305.6 L465.3 304.5 L467.4 305.3 L468.8 304.1 L470.0 303.5 L469.6 302.5 L468.2 302.4 L465.9 300.5 L465.4 301.8 L465.2 303.5 L464.0 303.5 L463.5 304.6 Z M452.9 316.6 L454.8 316.4 L456.5 315.8 L457.9 316.1 L458.3 317.2 L459.4 316.4 L460.0 315.7 L461.8 315.8 L462.4 315.2 L463.3 315.2 L464.5 314.2 L464.2 312.7 L464.7 311.0 L465.4 309.6 L465.9 308.7 L465.3 307.5 L465.2 306.2 L464.1 306.5 L463.5 307.5 L463.5 308.9 L462.9 310.6 L461.8 311.7 L460.4 312.5 L459.8 312.0 L458.9 313.8 L458.3 314.4 L456.5 314.5 L454.8 314.8 L453.6 315.8 Z M292.9 290.9 L292.9 289.1 L293.5 287.7 L292.7 286.7 L291.2 286.5 L290.0 287.7 L288.2 288.1 L288.5 289.5 L287.9 291.2 L288.8 291.8 L290.6 291.5 Z M274.2 274.4 L271.9 273.3 L273.6 272.8 L271.5 272.1 L274.2 270.9 L277.7 271.3 L281.2 270.7 L283.0 271.4 L284.0 272.6 L283.0 273.5 L280.7 274.5 L278.0 275.1 L275.4 274.5 Z M484.9 375.3 L486.7 376.6 L486.3 376.9 L484.8 375.7 Z M422.9 374.3 L423.8 373.0 L426.1 373.6 L428.5 374.5 L430.2 374.0 L431.7 374.9 L433.7 375.7 L433.6 377.0 L430.8 376.6 L428.5 376.1 L426.1 375.7 L424.4 375.2 Z M208.4 338.8 L210.8 339.3 L210.9 339.4 L210.0 339.7 L208.8 339.0 Z M183.7 267.5 L187.2 267.9 L188.3 266.8 L186.6 266.0 L184.8 266.5 Z M451.6 317.4 L452.9 316.8 L453.9 317.6 L453.5 320.2 L452.5 320.9 L452.1 320.2 L451.8 318.3 Z M435.5 376.6 L436.3 376.4 L435.9 377.3 Z M440.2 342.1 L440.9 338.6 L442.7 338.6 L442.8 340.7 L442.0 342.4 L442.5 344.9 L444.8 345.2 L444.8 347.0 L443.7 346.3 L441.9 345.2 L440.9 344.2 Z M279.8 318.3 L280.4 318.3 L280.2 318.6 Z M302.7 308.9 L303.7 308.3 L303.9 308.7 L303.4 309.2 Z M487.6 376.4 L488.5 377.8 L488.1 378.1 L487.6 377.3 Z M495.3 387.3 L496.0 387.9 L495.5 388.2 Z M205.9 277.4 L206.8 276.6 L206.1 276.4 Z M136.0 377.0 L136.7 377.1 L136.3 377.4 L137.5 378.4 L137.7 378.8 Z M366.9 393.0 L367.5 393.1 L367.2 393.7 Z M440.5 345.6 L441.9 346.3 L441.6 347.5 L440.7 347.0 Z M176.7 258.7 L171.4 259.3 L166.1 259.4 L162.6 258.7 L164.4 256.9 L170.2 256.7 L174.9 257.3 Z M357.5 381.7 L358.9 386.6 L358.1 388.7 L357.5 390.8 L356.6 393.7 L355.4 397.9 L354.9 400.0 L352.8 400.7 L351.3 399.8 L350.5 395.8 L351.7 393.0 L351.3 389.4 L353.7 387.0 L355.4 385.2 L356.0 383.8 Z M442.5 354.8 L444.2 353.7 L444.5 352.5 L446.6 351.1 L447.8 354.1 L447.4 355.8 L446.6 356.5 L444.8 355.5 Z M103.6 272.0 L106.0 273.4 L107.4 273.7 L110.0 273.5 L111.8 273.1 L112.0 274.5 L110.0 275.0 L107.7 275.7 L106.5 276.8 L106.2 278.5 L107.7 279.5 L110.0 280.0 L110.9 281.7 L114.1 282.2 L116.5 281.7 L115.9 283.4 L114.4 284.8 L112.4 285.8 L110.0 287.0 L107.7 287.5 L109.5 287.4 L111.8 286.5 L114.1 285.8 L116.5 284.8 L118.2 283.4 L120.0 282.0 L121.2 280.9 L122.6 281.0 L123.5 278.9 L124.7 278.2 L125.2 279.2 L127.0 279.9 L128.7 279.2 L131.1 279.9 L134.0 279.9 L136.3 280.3 L138.1 281.2 L139.8 282.2 L141.0 282.7 L142.8 284.1 L143.9 285.6 L145.7 287.0 L147.4 287.5 L148.0 289.1 L149.2 290.5 L150.4 291.5 L150.9 292.6 L152.7 293.6 L153.9 294.3 L155.6 295.2 L156.4 295.6 L156.8 296.9 L156.2 298.1 L155.0 297.0 L154.2 296.3 L154.8 298.3 L155.0 299.4 L155.0 302.5 L154.5 304.2 L154.8 306.8 L154.6 307.6 L155.3 308.9 L156.2 311.0 L156.8 311.7 L157.4 312.7 L157.6 313.4 L158.5 314.5 L159.0 315.8 L160.3 316.1 L161.5 316.6 L162.3 317.4 L163.0 318.5 L163.7 320.2 L164.4 321.9 L165.2 322.9 L166.4 324.3 L166.6 325.3 L168.1 327.1 L168.9 328.9 L169.2 330.2 L170.5 331.3 L171.5 332.3 L172.0 331.5 L171.0 330.5 L170.6 329.6 L169.6 328.0 L168.8 325.8 L167.9 324.4 L167.0 322.6 L165.9 320.9 L165.8 319.8 L166.7 320.5 L168.0 321.6 L168.8 323.3 L170.2 325.3 L171.4 326.5 L172.2 328.2 L173.7 329.4 L175.5 331.8 L176.7 334.3 L176.9 335.9 L177.8 337.6 L179.0 338.8 L181.3 339.8 L183.1 340.8 L184.8 341.8 L187.2 342.5 L188.9 341.9 L190.1 341.8 L192.1 344.1 L193.6 345.1 L195.4 345.6 L197.1 346.0 L197.7 346.3 L198.5 347.3 L199.7 348.9 L199.8 350.3 L200.6 350.8 L201.8 352.0 L202.9 353.0 L204.1 353.1 L205.3 353.8 L206.1 354.2 L206.5 353.4 L207.0 352.1 L208.2 352.8 L208.9 354.4 L209.4 355.5 L209.5 359.0 L209.4 360.5 L208.1 362.2 L207.0 363.3 L206.3 364.7 L205.9 366.1 L205.4 367.8 L206.2 368.9 L205.0 370.8 L205.2 372.9 L206.5 374.6 L207.6 376.7 L208.8 379.5 L210.0 381.7 L210.9 384.5 L212.1 386.5 L214.0 388.0 L216.4 389.4 L217.8 390.7 L217.9 393.7 L217.9 397.2 L217.6 400.7 L217.0 403.6 L216.4 407.1 L216.3 410.6 L216.0 413.5 L215.2 415.6 L214.4 417.3 L213.8 419.8 L213.7 423.4 L214.0 424.8 L213.7 426.9 L212.9 429.0 L212.1 431.1 L211.7 434.0 L212.1 436.8 L212.9 438.9 L214.6 440.3 L217.0 441.0 L218.7 438.9 L220.0 438.6 L219.1 436.8 L219.4 435.8 L220.7 434.0 L222.8 432.3 L221.1 430.1 L221.3 429.0 L223.4 428.3 L223.7 426.9 L224.6 425.2 L225.4 424.3 L224.0 423.4 L224.0 422.4 L226.9 422.1 L227.3 419.8 L228.7 419.7 L231.6 419.1 L232.7 418.4 L233.7 416.3 L233.0 415.3 L232.7 414.2 L231.6 413.2 L232.4 413.5 L234.3 414.0 L235.7 414.0 L237.1 413.3 L237.5 412.3 L238.9 410.2 L240.1 408.5 L240.9 407.4 L241.9 406.0 L243.0 404.7 L243.3 402.2 L243.3 400.7 L244.4 399.8 L245.8 398.6 L247.6 397.6 L249.6 397.2 L250.9 397.1 L252.0 395.8 L253.0 393.7 L253.5 392.3 L254.1 389.4 L254.4 386.6 L254.4 384.5 L254.9 383.1 L255.9 381.7 L256.7 380.0 L258.1 378.1 L259.0 376.0 L259.3 374.6 L258.8 372.5 L257.9 371.8 L256.1 371.2 L254.9 369.9 L253.2 368.7 L251.1 368.8 L249.1 368.1 L247.9 368.7 L246.8 366.7 L244.4 365.7 L243.3 366.1 L241.5 364.7 L240.9 362.6 L240.3 359.8 L239.2 358.2 L237.4 356.8 L235.7 356.2 L233.3 356.2 L232.2 355.1 L230.4 353.4 L229.2 352.7 L228.1 350.8 L226.9 349.9 L225.1 349.7 L223.4 350.4 L221.6 349.7 L220.2 349.9 L218.7 348.4 L217.9 347.5 L218.1 348.6 L216.5 349.3 L216.4 349.2 L215.8 348.0 L216.2 347.2 L215.2 348.2 L214.0 348.7 L212.9 349.2 L211.7 349.9 L211.4 351.3 L210.5 352.4 L209.5 352.5 L208.8 351.6 L207.0 351.1 L205.9 351.8 L204.7 352.1 L203.8 351.6 L202.9 350.6 L202.1 349.2 L202.2 347.0 L202.4 344.9 L202.7 343.5 L201.2 342.2 L199.4 342.1 L197.5 342.2 L196.5 342.4 L196.8 340.7 L196.9 338.6 L197.3 337.1 L197.7 335.7 L198.5 334.5 L197.1 334.2 L195.4 334.6 L194.3 335.0 L194.2 336.9 L193.0 338.6 L191.8 338.4 L190.1 339.0 L188.9 338.4 L187.8 337.6 L187.2 336.4 L186.4 335.0 L185.7 333.2 L185.8 330.8 L186.1 328.0 L186.4 325.8 L187.2 324.7 L188.9 323.4 L190.1 322.7 L191.8 322.9 L193.6 323.4 L195.4 323.7 L195.4 322.0 L196.5 321.7 L197.7 321.9 L199.4 321.7 L200.6 322.7 L201.8 322.3 L202.9 323.7 L203.3 325.4 L203.9 327.1 L204.7 328.2 L205.4 329.2 L206.1 328.7 L206.5 327.2 L206.1 325.4 L205.8 324.3 L205.0 322.6 L204.8 321.2 L205.3 319.5 L206.5 318.5 L207.6 317.4 L208.8 316.8 L210.0 315.8 L211.1 315.2 L211.7 314.5 L211.4 313.1 L210.9 312.4 L211.2 311.7 L211.7 310.7 L212.2 309.9 L212.9 309.0 L213.5 307.9 L213.6 307.0 L214.6 306.5 L216.4 306.2 L217.6 305.9 L218.1 305.6 L217.4 304.8 L217.3 303.8 L218.1 302.8 L219.3 302.4 L221.1 301.7 L221.8 301.1 L224.0 300.3 L224.7 300.0 L224.6 300.7 L222.8 302.1 L223.0 302.9 L224.6 302.2 L225.7 301.7 L227.5 301.1 L228.7 300.7 L228.1 300.1 L226.9 300.1 L225.4 299.5 L224.3 298.7 L224.0 297.8 L224.3 297.1 L223.4 296.9 L224.6 295.7 L223.4 295.2 L221.1 295.2 L219.9 296.2 L218.5 297.6 L217.6 298.3 L216.7 298.6 L218.1 297.1 L219.3 296.0 L220.5 295.0 L222.2 293.8 L225.1 293.6 L228.1 293.8 L230.4 293.3 L232.7 292.1 L234.5 291.2 L234.8 289.8 L233.9 288.4 L232.2 287.7 L230.4 286.7 L228.7 285.6 L227.7 284.1 L226.9 282.7 L225.7 281.3 L224.6 279.5 L223.6 280.2 L223.4 281.3 L222.2 281.7 L221.1 282.3 L219.9 281.6 L218.7 281.0 L218.7 279.5 L218.1 278.5 L216.4 278.2 L215.2 277.4 L213.5 276.8 L211.7 276.6 L209.4 276.4 L208.6 277.1 L209.4 278.8 L209.0 280.6 L210.0 282.0 L210.5 283.7 L210.2 285.3 L209.4 286.3 L207.6 287.4 L207.0 288.4 L207.9 290.5 L207.6 291.9 L206.5 292.2 L205.3 291.2 L204.1 289.9 L203.8 288.4 L203.5 287.0 L201.8 286.5 L199.4 285.8 L197.1 284.8 L195.4 284.3 L193.6 283.9 L191.8 284.1 L190.7 282.0 L189.3 281.3 L189.2 279.9 L189.5 278.5 L190.7 277.4 L191.8 276.4 L193.6 275.7 L194.2 274.7 L196.5 274.2 L198.3 273.1 L199.4 271.1 L201.2 270.3 L202.9 270.0 L204.7 268.6 L204.7 266.9 L203.5 266.2 L200.6 266.0 L199.4 267.9 L197.1 268.2 L195.4 267.2 L193.6 266.5 L191.8 265.8 L192.4 264.4 L190.7 262.9 L188.3 264.4 L187.8 266.5 L186.6 268.6 L184.8 268.3 L183.1 268.9 L180.7 268.9 L178.4 268.3 L176.1 267.5 L173.7 267.9 L173.1 269.0 L171.4 268.6 L168.5 268.9 L166.1 268.3 L165.6 268.6 L162.6 267.2 L159.7 266.6 L157.4 266.0 L154.5 266.5 L153.9 265.8 L150.9 265.3 L149.2 266.0 L147.4 266.3 L145.1 266.5 L143.9 266.6 L142.8 266.3 L141.0 267.3 L138.7 266.8 L136.3 266.3 L134.6 266.2 L132.3 265.6 L129.9 265.6 L127.0 265.3 L124.1 265.1 L121.7 264.6 L119.4 264.4 L117.1 263.9 L115.3 264.5 L113.0 265.1 L111.2 265.3 L109.5 266.0 L107.7 267.3 L105.7 267.3 L105.4 268.2 L107.7 269.2 L108.6 269.9 L110.0 270.1 L111.2 270.9 L109.5 271.3 L107.7 270.7 L106.5 271.1 L105.4 271.6 Z M473.2 372.5 L475.8 372.5 L477.5 371.1 L477.9 371.8 L476.4 373.3 L474.0 373.5 Z M491.3 393.0 L491.9 393.2 L495.1 396.1 L494.5 396.5 L491.6 394.0 Z M230.6 297.4 L233.9 297.4 L235.1 298.4 L237.4 298.8 L238.4 297.6 L238.0 296.2 L236.8 294.9 L235.1 294.3 L234.7 292.6 L235.1 291.8 L233.6 292.2 L232.7 293.2 L231.6 295.2 L231.0 296.2 Z M453.0 366.5 L454.8 365.4 L456.5 366.0 L457.7 369.4 L460.6 366.8 L463.5 368.1 L466.4 369.2 L469.4 371.1 L470.3 372.5 L472.3 373.5 L472.6 376.0 L474.0 377.4 L476.1 379.3 L474.6 379.4 L472.3 378.8 L470.5 376.7 L468.2 375.7 L467.4 377.4 L464.7 377.7 L462.4 376.1 L461.2 376.6 L461.0 374.6 L461.8 373.9 L458.9 371.2 L457.1 370.4 L455.9 370.1 L454.8 368.2 L455.9 368.0 L454.2 367.5 Z M483.2 376.0 L484.3 376.6 L484.0 377.0 Z M475.8 368.2 L477.5 369.4 L478.7 371.1 L478.5 371.5 L477.0 369.9 Z M458.3 258.0 L461.2 259.1 L464.7 260.1 L467.6 261.1 L471.7 259.7 L475.8 258.7 L472.9 258.0 L469.4 257.6 L465.9 257.0 L462.4 257.1 Z M360.3 263.6 L362.4 264.6 L367.1 264.9 L365.4 263.6 L367.7 262.0 L370.0 260.1 L373.0 258.7 L375.9 257.6 L380.0 256.0 L375.9 256.2 L371.8 256.9 L368.3 258.0 L365.4 259.8 L364.2 261.5 L361.9 262.5 Z M501.7 413.3 L503.8 414.9 L505.0 417.0 L505.6 417.8 L507.9 417.8 L508.5 419.1 L506.8 420.1 L506.5 421.2 L504.7 423.5 L504.0 422.9 L504.4 421.2 L503.0 420.1 L504.0 418.4 L503.8 417.0 L502.7 414.9 Z M501.7 421.9 L503.5 423.1 L502.7 424.8 L501.9 426.6 L500.1 427.3 L499.4 429.4 L497.4 430.6 L494.5 429.7 L495.1 428.3 L496.8 426.9 L499.2 425.5 L500.3 423.8 Z M296.0 281.0 L297.0 280.9 L296.5 281.6 Z M436.9 352.8 L439.6 348.9 L439.8 349.9 L437.2 353.1 Z M442.5 348.0 L443.7 349.2 L443.9 351.3 L443.0 350.8 L442.5 349.6 Z M165.6 256.6 L159.7 257.6 L156.8 256.9 L159.7 255.4 L164.4 255.2 Z M221.4 338.7 L223.3 338.7 L223.3 339.3 L221.4 339.3 Z M187.2 262.9 L184.3 263.2 L180.7 261.8 L181.9 260.8 L185.4 260.4 L187.2 261.5 Z M145.7 291.2 L144.5 289.1 L145.1 288.4 L146.9 289.8 Z M364.4 394.2 L365.1 394.4 L364.8 394.9 Z M449.0 326.7 L449.9 326.7 L449.5 327.8 Z M470.1 343.1 L470.4 343.1 L470.2 343.6 Z M465.9 299.7 L467.6 299.0 L467.3 295.2 L468.2 294.7 L467.4 291.9 L467.3 289.8 L466.8 288.0 L466.1 288.1 L465.5 289.4 L465.9 292.6 L465.9 296.9 Z M445.2 347.0 L446.6 347.7 L446.6 349.9 L445.8 350.6 L445.2 348.7 Z M98.0 383.6 L99.6 384.2 L98.9 384.6 Z M309.7 309.6 L309.5 307.3 L310.1 306.5 L311.4 306.8 L311.2 309.3 L310.5 309.6 Z M449.5 369.2 L452.8 369.5 L451.8 370.1 L449.7 369.8 Z M406.3 252.3 L410.9 253.9 L417.4 254.5 L420.9 253.3 L422.6 252.3 L419.1 250.9 L416.8 249.9 L413.3 250.2 L408.6 250.9 Z M205.9 274.5 L201.8 275.7 L198.9 275.0 L198.3 272.8 L201.2 271.7 L204.7 273.5 Z M298.3 278.8 L298.8 279.3 L298.4 280.0 Z M454.8 317.6 L455.9 317.5 L457.2 316.9 L456.7 316.2 L455.3 316.5 Z M314.4 311.1 L315.5 310.7 L318.2 310.6 L317.6 312.4 L316.6 312.7 L314.7 311.6 Z M393.3 355.5 L393.2 353.4 L393.6 350.8 L394.6 352.3 L395.6 354.4 L394.8 355.9 L393.6 356.2 Z M362.2 346.9 L363.6 346.8 L363.3 347.3 Z M194.2 262.9 L191.3 262.8 L188.9 261.8 L189.5 260.1 L192.4 260.0 L194.2 260.8 Z M439.6 372.5 L440.6 372.5 L440.7 368.9 L441.3 368.4 L442.5 371.1 L443.7 371.5 L442.5 368.9 L441.9 367.2 L444.0 366.1 L441.9 366.0 L440.7 365.4 L440.9 364.0 L442.5 363.3 L445.4 363.3 L446.2 362.6 L444.8 364.1 L441.3 364.1 L440.2 363.7 L439.9 365.4 L438.8 368.2 L439.3 369.6 Z M411.3 356.8 L413.9 357.4 L415.0 359.0 L416.8 361.2 L418.5 362.2 L420.3 364.0 L421.5 366.1 L422.6 368.2 L423.8 369.4 L423.6 372.9 L422.0 372.9 L420.9 371.5 L419.5 370.1 L418.0 368.0 L417.1 365.8 L415.9 364.0 L415.0 362.2 L413.9 360.7 L412.1 359.0 Z M436.4 376.7 L439.0 376.3 L438.8 377.1 L436.7 377.4 Z M312.6 252.3 L313.4 253.3 L315.7 254.2 L317.5 255.6 L319.2 256.6 L320.4 255.6 L322.1 254.5 L324.5 253.8 L326.2 253.0 L331.5 252.2 L332.1 251.4 L328.0 251.1 L323.3 250.9 L319.8 251.6 L317.5 251.9 L314.5 251.9 Z M125.1 389.4 L125.7 389.6 L125.4 390.0 Z M469.0 422.2 L473.2 422.5 L473.2 424.3 L472.3 425.8 L470.5 426.2 L469.6 424.3 Z M280.2 324.6 L281.1 324.3 L280.8 325.1 Z M444.8 379.3 L446.2 377.4 L448.6 376.6 L447.2 377.8 Z M95.0 394.4 L95.4 394.5 L95.2 394.9 Z M227.6 349.6 L228.7 349.4 L228.7 350.4 L227.6 350.4 Z M440.4 332.8 L440.3 331.5 L441.3 329.4 L442.4 329.4 L441.9 331.5 L441.2 333.6 Z M155.9 296.3 L153.9 295.7 L152.1 294.7 L150.0 293.3 L150.9 292.9 L153.3 293.6 L155.0 294.9 Z M508.6 388.2 L510.3 387.6 L510.0 388.4 L508.9 388.6 Z M181.3 267.2 L177.2 266.9 L173.7 267.2 L169.1 267.7 L165.0 266.9 L162.6 266.0 L161.5 265.1 L163.2 264.4 L160.9 263.6 L162.6 262.2 L166.7 261.1 L170.2 262.1 L173.1 262.1 L176.1 261.2 L177.8 261.5 L180.7 263.6 L181.9 265.1 Z M507.1 389.4 L507.9 389.2 L508.6 390.1 L507.3 390.6 Z M508.5 264.4 L510.9 263.6 L513.2 264.1 L513.2 263.5 L510.3 263.4 Z M345.7 372.8 L346.2 373.0 L346.0 373.7 Z M368.1 300.4 L369.5 299.3 L371.4 298.6 L371.8 300.4 L370.6 301.9 L368.9 302.5 Z M170.2 281.6 L173.7 280.6 L176.7 281.0 L172.6 281.9 Z M421.2 291.8 L423.2 291.2 L426.1 289.1 L428.2 285.8 L427.5 285.8 L425.0 289.1 L422.0 290.9 Z M385.8 299.4 L387.6 298.8 L389.9 299.0 L392.5 298.7 L391.7 299.4 L388.2 299.7 L386.4 300.4 Z M202.5 305.8 L204.7 306.0 L206.5 305.2 L207.7 304.2 L206.5 304.5 L204.7 304.5 L202.9 305.3 Z M153.9 272.8 L156.2 270.7 L160.9 270.0 L162.6 271.0 L160.3 272.1 L158.5 273.0 L156.2 272.4 Z M163.2 278.5 L166.7 276.4 L172.6 275.9 L170.2 276.8 L165.0 278.5 Z M201.2 299.8 L202.4 299.8 L204.7 300.0 L205.9 300.7 L206.5 301.8 L204.9 302.1 L204.5 303.6 L203.5 303.9 L203.2 302.5 L202.4 302.5 L202.6 301.1 L201.2 300.4 Z M335.0 279.9 L336.2 280.0 L338.3 278.9 L337.3 277.8 L335.6 278.1 L335.0 279.2 Z M340.2 378.3 L340.7 378.8 L341.1 385.2 L340.5 384.9 L340.0 381.0 Z M197.3 305.3 L197.7 305.9 L198.5 305.8 L199.1 304.6 L199.1 302.5 L199.9 301.1 L200.8 300.0 L200.0 299.8 L198.9 300.0 L197.7 301.1 L197.1 301.8 L197.6 303.2 Z M340.2 278.5 L342.0 278.2 L342.4 277.1 L340.8 275.9 L340.2 276.8 Z M206.7 303.5 L208.2 303.4 L210.8 303.2 L210.9 302.4 L209.4 302.5 L207.2 302.9 Z M192.3 298.7 L194.2 298.8 L196.5 298.3 L197.7 299.0 L200.6 298.6 L201.1 299.0 L200.8 297.6 L199.4 296.2 L196.5 296.2 L195.4 296.9 L193.8 297.8 Z M334.1 369.4 L334.5 369.6 L335.6 373.9 L336.2 377.0 L335.7 377.0 L334.4 373.9 L333.9 371.1 Z M218.1 386.3 L219.0 386.6 L219.7 387.6 L219.1 387.7 L218.1 387.0 Z M337.0 366.1 L338.5 364.3 L339.7 365.1 L339.7 366.1 L339.1 368.2 L337.3 368.5 L336.9 366.8 Z M186.6 293.3 L187.4 291.9 L186.0 290.5 L184.8 288.7 L184.3 289.1 L186.0 291.9 Z M713.7 314.1 L712.7 316.6 L710.7 317.8 L709.6 318.8 L709.1 320.9 L709.4 322.3 L708.3 323.7 L707.2 324.8 L705.4 325.8 L703.7 327.7 L703.1 329.4 L701.9 331.1 L701.3 332.9 L700.7 335.0 L701.3 337.1 L701.7 339.3 L701.3 341.7 L700.2 343.9 L701.0 345.6 L701.1 347.2 L702.5 348.4 L703.4 349.9 L704.8 351.3 L705.2 352.7 L706.6 354.1 L707.7 355.1 L709.5 356.9 L711.8 358.5 L713.6 357.8 L715.9 357.4 L718.3 358.1 L720.6 356.9 L722.4 355.9 L724.7 355.7 L726.4 356.5 L727.6 358.6 L729.4 358.3 L730.5 358.3 L731.7 359.3 L732.1 361.2 L731.7 363.3 L731.5 365.4 L730.9 366.1 L732.9 368.9 L734.4 371.2 L735.0 373.2 L735.8 376.0 L736.4 378.1 L736.7 380.0 L735.4 383.1 L734.6 385.9 L734.4 388.7 L735.2 390.8 L736.4 393.7 L737.5 396.5 L738.1 400.0 L738.5 402.9 L739.9 405.1 L740.8 407.8 L741.9 409.9 L741.6 411.3 L742.2 412.9 L744.0 413.9 L746.9 412.8 L749.8 412.8 L751.6 412.3 L753.3 411.1 L755.1 408.8 L756.8 406.4 L758.5 405.0 L758.9 402.2 L759.2 400.7 L761.5 399.3 L762.1 396.5 L762.1 394.4 L761.3 392.7 L763.3 390.8 L764.4 389.4 L766.8 388.0 L767.9 385.2 L767.9 380.2 L766.8 376.0 L766.5 373.9 L766.2 371.8 L767.3 369.6 L769.1 367.2 L770.8 364.0 L772.6 362.6 L774.9 360.5 L776.7 357.6 L778.4 354.1 L779.6 351.3 L780.5 348.0 L779.0 348.4 L777.3 348.9 L774.4 349.6 L772.6 350.0 L771.2 348.4 L770.6 347.0 L769.1 345.2 L767.3 342.8 L766.2 340.7 L765.0 338.6 L764.2 335.0 L763.6 333.6 L762.1 331.5 L761.5 329.4 L760.3 327.0 L759.2 324.4 L758.7 322.4 L758.3 320.5 L756.8 320.0 L755.1 320.9 L752.2 320.3 L749.8 320.0 L747.5 318.6 L745.1 318.3 L744.0 319.6 L744.0 321.0 L742.8 321.9 L741.0 320.9 L739.3 320.5 L738.4 319.0 L735.8 318.2 L734.0 317.8 L732.9 316.6 L733.5 314.8 L732.9 313.1 L733.5 312.4 L732.3 312.0 L730.5 312.5 L728.2 312.4 L726.4 312.7 L724.1 312.7 L721.8 313.1 L719.4 314.5 L718.0 315.1 L715.9 315.0 L714.4 314.0 Z M625.2 289.8 L626.4 289.8 L626.0 289.5 Z M871.6 324.4 L872.2 324.4 L871.9 325.0 Z M828.8 345.5 L829.3 345.8 L829.0 348.4 L828.7 348.0 Z M853.2 395.8 L853.8 395.5 L856.7 393.8 L859.1 393.4 L862.0 392.3 L863.4 390.1 L864.9 388.7 L866.1 386.6 L867.8 384.8 L869.6 384.5 L870.8 385.9 L871.9 385.6 L872.5 383.5 L873.1 382.2 L875.4 381.2 L876.6 381.5 L878.4 381.9 L880.3 381.9 L879.3 383.8 L878.9 385.6 L880.7 387.0 L882.4 388.4 L884.2 389.7 L885.1 388.7 L885.9 385.9 L886.1 382.8 L887.1 379.8 L888.3 382.4 L888.6 384.9 L890.4 385.9 L890.6 388.0 L891.6 391.6 L894.5 393.7 L895.9 396.1 L897.0 397.9 L899.4 400.5 L900.0 404.3 L899.4 408.5 L898.2 410.9 L897.0 412.8 L895.9 416.3 L895.6 417.8 L893.0 418.4 L891.6 420.0 L889.5 418.7 L887.7 419.5 L885.4 418.5 L884.0 417.4 L883.6 415.3 L881.9 415.0 L882.4 413.5 L881.5 414.4 L880.5 414.6 L881.6 411.3 L879.5 413.9 L878.4 413.5 L877.4 411.1 L873.7 409.2 L870.2 409.9 L866.7 411.1 L864.9 412.6 L860.8 412.8 L858.5 414.2 L855.6 413.2 L855.0 412.0 L855.8 409.9 L855.0 407.1 L854.7 405.0 L853.2 402.2 L853.5 399.3 Z M687.1 310.0 L689.1 309.9 L688.5 310.3 Z M690.3 311.1 L691.2 311.1 L690.8 311.4 Z M629.5 327.0 L630.6 327.2 L630.4 328.0 L629.2 327.4 Z M629.2 329.1 L629.8 329.6 L629.7 330.8 L629.1 330.1 Z M631.2 329.4 L631.8 330.1 L632.6 331.3 L632.3 331.6 L631.6 330.4 Z M633.5 330.8 L633.8 332.2 L634.5 334.3 L635.3 334.6 L635.9 333.9 Z M854.3 376.1 L855.8 376.6 L855.2 377.1 Z M607.3 258.7 L603.2 258.7 L602.6 256.9 L606.7 256.6 Z M627.7 285.6 L628.3 284.8 L627.9 284.7 Z M644.9 276.4 L640.6 276.8 L637.1 275.7 L634.1 274.2 L630.0 273.8 L631.8 272.4 L634.7 271.1 L635.3 269.3 L633.5 268.2 L630.6 268.6 L628.9 266.5 L625.4 265.8 L621.3 265.3 L617.8 265.1 L616.0 263.6 L615.4 262.2 L616.6 261.1 L620.7 260.8 L624.8 260.5 L629.5 262.1 L633.0 262.4 L636.5 263.6 L638.8 264.8 L641.1 265.8 L642.9 267.5 L645.2 268.9 L648.2 270.3 L647.0 271.1 L644.1 272.1 L644.6 273.5 L645.2 275.0 Z M576.3 264.4 L574.0 262.9 L575.1 260.8 L576.9 259.7 L581.0 259.8 L583.9 260.8 L585.1 262.2 L582.1 263.2 L579.2 263.9 Z M848.0 362.6 L848.7 361.9 L850.3 362.2 L852.6 360.2 L854.4 358.3 L855.6 357.1 L857.1 354.9 L858.1 355.8 L859.9 357.2 L858.5 358.3 L858.1 360.0 L858.5 362.6 L859.7 363.3 L858.3 363.6 L857.9 365.4 L856.9 366.8 L856.7 368.9 L856.0 369.9 L854.4 370.4 L852.6 369.2 L851.1 368.9 L849.4 368.8 L849.1 366.8 L848.0 365.4 L848.0 364.0 Z M901.3 372.0 L902.7 373.9 L902.3 374.3 L901.5 373.2 Z M867.8 369.2 L869.2 369.4 L868.8 370.1 L867.8 369.8 Z M627.1 262.0 L630.6 262.0 L631.2 261.1 L627.1 260.7 Z M777.9 299.0 L780.2 298.3 L782.5 298.6 L782.5 300.7 L780.5 301.8 L780.2 303.6 L781.9 305.3 L782.5 307.2 L783.1 308.9 L783.6 312.0 L781.4 312.8 L779.0 312.1 L777.9 311.0 L778.4 308.2 L777.9 306.0 L776.1 304.2 L776.1 302.5 L775.5 301.1 L776.1 299.7 Z M536.4 361.9 L536.9 361.9 L536.7 362.3 Z M623.6 276.8 L625.4 276.1 L624.2 275.7 L623.0 276.1 Z M771.1 380.8 L771.4 380.8 L771.2 381.5 Z M730.7 306.0 L730.7 304.6 L731.6 303.9 L731.7 305.3 L731.4 306.2 Z M607.8 259.4 L611.3 259.1 L610.2 258.1 L607.8 258.3 Z M748.1 314.8 L749.2 314.7 L751.3 315.0 L751.0 315.2 L749.5 315.4 L748.1 315.0 Z M621.4 333.7 L622.4 332.6 L624.8 332.1 L627.1 332.1 L629.5 333.2 L631.8 334.7 L633.9 336.2 L633.0 336.6 L630.6 336.6 L630.0 335.4 L628.9 334.3 L627.1 333.9 L625.4 333.3 L623.6 333.6 L622.2 334.2 Z M691.2 340.5 L691.5 340.5 L691.4 341.0 Z M692.8 343.1 L693.1 343.1 L693.0 343.6 Z M758.3 315.7 L758.6 315.1 L759.7 314.8 L761.0 314.4 L760.3 315.2 L759.2 315.8 Z M627.1 259.3 L621.3 259.4 L615.4 259.3 L613.1 258.7 L609.6 258.0 L612.5 256.9 L617.8 256.7 L622.4 256.6 L626.5 257.0 L627.7 258.0 Z M917.1 389.4 L917.6 389.7 L917.3 390.0 Z M627.1 257.0 L620.1 256.9 L616.0 256.6 L616.6 255.4 L613.7 254.5 L611.9 253.0 L608.4 251.6 L609.6 250.2 L614.3 249.5 L618.9 248.8 L624.8 247.7 L630.6 247.4 L638.8 247.4 L645.8 247.8 L648.7 248.4 L645.2 249.5 L641.1 250.5 L638.2 251.6 L635.3 252.6 L633.0 253.6 L632.4 254.5 L628.9 255.6 L626.5 256.2 Z M599.1 255.2 L602.0 254.5 L603.7 253.3 L600.2 253.0 L597.3 254.0 Z M607.8 254.5 L610.2 254.0 L608.4 253.3 L606.7 253.9 Z M915.2 385.6 L916.0 385.9 L915.7 386.7 L915.3 386.5 Z M758.7 322.4 L759.7 325.1 L760.7 325.4 L761.0 323.7 L761.5 323.0 L762.1 325.1 L763.3 328.0 L765.0 330.8 L766.2 333.6 L767.1 336.4 L768.5 339.3 L770.3 342.1 L770.6 344.2 L771.2 346.6 L772.6 346.8 L773.8 346.3 L777.3 344.9 L779.0 343.8 L781.4 342.7 L783.1 341.4 L785.5 339.5 L787.0 338.4 L788.1 337.6 L789.0 335.7 L790.5 333.0 L789.0 331.3 L787.2 330.8 L786.5 329.5 L786.4 327.5 L785.5 328.7 L784.3 330.4 L781.9 330.5 L780.9 330.1 L780.9 328.1 L780.4 327.8 L780.0 329.6 L779.3 328.2 L778.4 326.5 L777.3 324.7 L776.7 323.0 L777.6 322.3 L779.0 322.0 L780.0 323.7 L780.8 325.3 L783.1 326.8 L785.5 327.0 L786.6 326.4 L787.6 328.2 L789.5 328.8 L792.5 329.2 L794.8 328.9 L798.3 328.8 L799.2 329.9 L800.6 331.5 L802.4 332.5 L801.2 333.2 L803.0 335.2 L805.3 334.3 L805.7 337.1 L805.9 339.3 L806.5 342.1 L807.7 344.9 L808.2 347.7 L809.4 350.6 L810.6 353.1 L811.2 353.3 L812.0 352.1 L813.1 351.6 L813.8 350.1 L814.1 347.0 L814.3 345.6 L814.1 343.2 L815.3 342.1 L816.8 340.7 L818.8 338.8 L820.5 337.0 L822.0 335.7 L822.3 334.3 L824.0 333.9 L825.2 333.6 L826.4 332.6 L827.5 333.0 L828.1 334.3 L828.5 335.4 L829.9 337.1 L830.7 339.3 L830.9 341.8 L832.2 342.4 L833.9 341.0 L834.6 342.1 L834.9 344.2 L835.7 347.0 L835.8 350.6 L835.5 352.7 L835.7 353.7 L837.5 355.5 L837.9 357.6 L838.6 359.8 L840.4 361.9 L841.5 362.9 L842.4 362.6 L841.5 360.5 L841.4 358.3 L840.0 355.9 L838.6 354.9 L837.8 353.0 L836.6 351.3 L836.5 349.2 L837.5 346.8 L838.5 345.8 L839.2 346.9 L840.4 347.5 L841.0 349.2 L842.7 350.0 L843.1 352.4 L844.5 351.7 L845.4 350.0 L847.4 348.7 L848.2 347.7 L848.3 345.6 L847.7 343.1 L846.2 341.4 L845.0 339.7 L844.2 337.8 L845.0 336.0 L846.2 334.3 L847.4 334.2 L848.6 334.3 L849.1 336.0 L849.7 334.6 L851.2 334.2 L853.2 333.3 L854.2 332.9 L856.1 332.3 L857.9 331.1 L859.1 329.9 L860.2 328.7 L860.5 327.2 L861.4 325.8 L862.6 324.4 L863.2 322.6 L862.0 321.5 L862.9 320.2 L861.8 318.5 L861.2 316.2 L860.0 315.2 L861.4 313.5 L863.7 312.4 L862.0 311.3 L859.7 312.1 L859.1 311.0 L858.1 309.9 L859.1 309.3 L860.2 308.3 L862.0 307.0 L862.6 309.6 L862.2 309.9 L863.5 308.9 L864.9 308.4 L866.1 308.4 L866.9 311.0 L868.4 311.7 L868.2 315.2 L868.4 316.1 L870.2 315.5 L871.7 314.8 L871.9 313.1 L871.3 311.0 L870.2 309.6 L869.6 308.4 L871.9 307.0 L872.2 305.9 L873.3 304.9 L874.8 303.6 L876.6 304.2 L878.9 302.8 L881.3 300.4 L882.4 298.3 L884.2 296.2 L884.8 294.0 L885.8 290.9 L885.4 289.8 L883.6 288.1 L881.3 288.5 L880.7 287.7 L878.6 287.2 L880.1 286.3 L881.9 284.8 L884.8 282.4 L887.1 281.0 L890.6 280.7 L894.1 280.9 L897.0 281.3 L898.8 281.3 L901.1 281.0 L901.7 279.9 L904.1 277.8 L907.0 277.4 L908.7 278.8 L907.6 279.9 L905.2 283.0 L903.8 284.1 L902.9 286.3 L902.5 288.4 L903.1 290.5 L903.7 292.6 L905.5 291.2 L907.6 289.1 L908.1 287.7 L909.9 285.6 L911.4 285.3 L910.5 283.4 L911.7 282.0 L913.4 280.6 L915.2 279.9 L918.7 279.2 L919.8 279.9 L922.2 278.5 L924.5 277.4 L928.0 276.4 L929.8 276.4 L930.4 274.2 L929.2 273.5 L928.0 273.3 L930.4 272.8 L931.5 272.6 L934.4 272.1 L937.4 273.5 L939.7 273.7 L939.7 272.4 L942.0 271.7 L943.0 271.3 L941.5 270.3 L938.5 270.0 L936.2 269.2 L933.9 268.3 L930.9 267.5 L928.6 266.8 L925.1 266.0 L921.6 265.9 L919.2 265.6 L915.7 266.3 L911.1 266.2 L908.7 266.5 L907.6 265.1 L904.1 264.4 L898.8 264.5 L895.9 263.6 L892.4 262.5 L888.9 262.2 L885.4 261.8 L883.0 262.7 L880.1 263.5 L876.0 263.8 L873.1 264.6 L871.3 263.6 L870.2 261.8 L868.4 260.8 L866.1 260.4 L863.2 261.5 L859.7 261.4 L855.0 260.5 L853.2 260.8 L849.1 260.1 L852.1 258.0 L849.1 256.6 L845.6 255.9 L842.5 254.9 L838.6 255.9 L836.3 256.9 L832.8 257.1 L829.3 257.6 L825.8 258.1 L822.8 259.0 L821.1 260.1 L821.7 260.8 L818.8 261.5 L815.3 262.4 L811.7 262.5 L808.8 262.5 L807.7 269.3 L805.3 268.6 L805.3 265.1 L802.4 260.8 L800.6 264.4 L798.3 266.5 L798.9 267.9 L796.6 266.9 L793.0 266.2 L790.7 267.9 L788.4 267.9 L784.9 268.2 L782.5 267.9 L779.0 269.0 L774.9 268.6 L772.0 267.9 L771.4 269.3 L772.0 271.1 L769.7 270.7 L767.9 271.4 L766.8 273.1 L764.4 274.2 L762.7 273.4 L761.5 271.4 L759.2 270.7 L760.9 270.6 L765.0 271.3 L768.5 269.7 L767.3 268.6 L765.0 267.7 L761.5 266.9 L759.2 266.5 L755.7 266.0 L753.3 264.5 L749.8 264.2 L746.3 264.9 L742.8 265.8 L739.9 267.2 L737.0 268.6 L735.2 271.4 L733.5 273.5 L731.7 275.0 L728.8 276.1 L726.4 277.4 L726.4 279.2 L727.0 281.3 L727.6 282.4 L729.4 282.7 L731.7 281.3 L732.9 280.2 L733.5 281.3 L734.0 282.3 L734.6 283.4 L735.4 285.3 L735.8 286.4 L737.5 286.0 L739.3 284.8 L739.9 283.2 L741.6 281.3 L742.8 280.2 L741.0 278.9 L741.0 277.1 L742.8 275.0 L745.1 273.5 L746.9 271.8 L749.2 271.7 L750.4 272.8 L749.2 274.2 L746.3 275.7 L745.7 277.8 L745.7 279.2 L747.5 279.9 L750.4 279.5 L753.3 279.2 L755.7 280.0 L753.3 280.6 L748.6 280.7 L748.1 281.7 L749.2 282.4 L748.6 283.9 L746.3 283.4 L745.1 284.8 L745.1 286.5 L744.0 287.2 L742.2 287.7 L739.3 288.0 L737.0 288.4 L734.6 288.1 L733.5 288.4 L732.3 287.7 L732.3 286.3 L732.9 283.4 L731.7 283.9 L730.2 284.8 L730.5 286.3 L730.9 288.4 L728.8 289.1 L726.4 289.4 L725.9 290.8 L724.7 291.9 L723.5 292.5 L722.5 293.3 L722.1 294.0 L720.8 294.5 L719.4 294.9 L719.1 294.5 L718.4 294.5 L718.7 295.9 L717.1 295.7 L715.1 296.3 L715.6 297.1 L717.7 297.8 L718.3 299.0 L719.2 300.4 L719.1 302.5 L718.5 303.4 L716.5 303.2 L714.2 303.1 L711.3 302.9 L709.9 303.8 L710.3 305.3 L710.4 307.5 L709.5 309.9 L710.3 311.1 L710.2 312.4 L711.8 312.1 L713.2 312.7 L714.1 313.8 L715.3 312.8 L718.0 312.8 L719.7 311.6 L720.6 309.9 L720.3 308.9 L721.5 307.2 L723.2 306.2 L724.3 305.3 L724.2 303.9 L725.9 303.4 L727.6 303.8 L729.4 302.8 L730.9 301.9 L732.3 302.5 L732.9 304.1 L734.6 305.5 L736.4 306.5 L738.1 307.9 L739.3 309.6 L738.9 311.0 L739.9 310.3 L740.7 309.6 L740.0 308.2 L741.0 307.5 L742.2 308.0 L741.6 307.2 L739.3 306.0 L738.7 305.3 L737.0 304.6 L736.4 303.2 L735.0 301.8 L735.2 300.4 L736.6 300.1 L736.5 301.1 L737.5 300.8 L738.7 302.5 L740.5 303.6 L742.2 304.8 L743.4 305.6 L743.2 307.5 L744.0 308.9 L745.1 310.3 L745.7 312.4 L746.9 313.1 L747.5 311.7 L747.2 310.6 L748.6 310.7 L747.2 308.9 L746.9 307.5 L748.6 307.0 L751.0 307.0 L751.2 307.7 L752.7 306.9 L754.5 306.5 L753.3 305.9 L753.1 304.6 L753.9 303.2 L755.3 301.1 L756.2 299.0 L757.4 298.8 L758.6 299.7 L759.7 300.8 L759.7 301.8 L761.5 301.2 L763.3 300.7 L761.5 300.1 L762.1 299.0 L765.0 298.1 L766.5 298.0 L765.0 299.7 L764.4 301.1 L765.6 302.1 L767.1 303.2 L769.1 305.3 L769.2 306.0 L767.3 306.8 L765.0 306.9 L763.3 306.3 L761.5 305.3 L759.2 305.3 L757.4 306.5 L755.1 306.5 L754.5 307.6 L752.2 307.6 L751.2 308.9 L751.9 310.3 L752.5 311.7 L753.3 312.7 L755.1 313.5 L756.4 312.7 L758.0 313.5 L760.3 313.4 L762.1 313.0 L762.9 312.8 L762.4 314.1 L762.6 315.2 L761.5 318.1 L760.9 320.0 L759.7 320.7 L758.7 320.9 Z M649.0 437.2 L651.7 437.2 L653.2 437.6 L652.2 438.6 L649.9 438.5 Z M712.0 276.6 L712.9 276.6 L712.7 277.8 Z M512.0 390.1 L512.4 390.4 L511.9 390.8 Z M773.2 250.9 L776.7 251.4 L781.4 251.2 L779.0 250.2 L774.4 250.4 Z M781.9 251.6 L788.4 251.4 L793.0 250.8 L790.7 249.7 L784.9 249.8 Z M787.2 249.2 L793.0 249.1 L796.6 249.9 L790.7 249.9 Z M860.6 376.7 L864.2 376.1 L864.1 377.0 L860.8 377.1 Z M703.7 324.1 L704.5 324.1 L704.0 325.0 Z M613.6 364.8 L614.4 365.1 L614.4 366.1 L613.7 366.1 Z M713.9 293.9 L716.5 293.6 L719.4 293.0 L722.2 292.3 L721.7 291.5 L722.6 290.2 L721.0 289.4 L720.4 288.2 L718.8 287.0 L718.3 285.8 L717.1 285.6 L718.3 284.1 L718.5 283.3 L716.5 283.2 L717.0 281.9 L714.8 281.9 L714.4 283.4 L713.9 284.8 L714.2 286.1 L715.0 287.2 L716.7 287.5 L717.1 288.7 L717.1 289.4 L715.3 289.4 L715.7 290.1 L715.8 290.8 L714.5 291.5 L716.7 292.1 L715.3 292.5 L714.5 293.5 Z M702.1 325.0 L702.6 324.8 L702.5 325.4 Z M669.8 280.2 L667.4 279.2 L664.5 277.8 L662.8 275.9 L661.6 274.2 L659.8 272.1 L658.1 270.7 L658.1 268.6 L661.0 267.2 L659.3 266.5 L656.9 265.1 L659.8 264.4 L655.7 262.9 L654.6 260.8 L652.2 258.0 L648.7 257.0 L643.5 257.3 L640.0 256.6 L637.1 255.4 L635.3 254.2 L636.5 253.3 L641.1 251.6 L644.6 250.5 L649.3 249.1 L655.2 248.5 L662.2 248.1 L668.0 247.4 L676.2 246.7 L684.4 246.5 L691.4 247.1 L696.1 248.0 L692.6 248.8 L697.2 249.5 L703.1 249.1 L706.6 249.5 L701.9 250.9 L699.6 252.3 L697.8 253.8 L699.0 255.9 L697.2 257.3 L697.8 258.7 L696.1 259.8 L694.9 261.5 L694.3 262.9 L694.9 264.4 L693.7 265.1 L691.4 265.5 L690.2 267.2 L685.5 268.3 L682.6 268.6 L679.7 270.7 L676.2 272.0 L673.9 272.8 L672.7 275.0 L670.9 277.1 L670.4 279.2 Z M907.1 377.8 L908.5 378.6 L908.1 378.8 L907.3 378.3 Z M889.6 345.5 L890.0 345.5 L889.8 346.0 Z M869.6 362.6 L870.8 363.3 L870.2 364.7 L871.1 365.8 L869.9 365.4 L869.4 363.6 Z M538.4 336.2 L539.5 336.9 L538.7 338.0 L538.3 337.0 Z M537.5 335.2 L538.3 335.3 L538.0 335.6 Z M535.6 334.2 L536.3 334.6 L535.9 334.6 Z M534.0 333.3 L534.5 333.5 L534.2 333.7 Z M633.7 338.7 L635.6 336.6 L637.6 336.6 L639.4 337.6 L640.8 338.4 L639.4 339.0 L637.6 339.4 L636.5 339.0 L634.1 339.0 Z M847.6 338.6 L848.6 339.0 L849.7 338.1 L850.3 337.0 L849.7 336.3 L848.6 336.4 L847.5 337.6 Z M884.2 306.0 L885.4 305.6 L885.9 304.5 L888.0 305.3 L889.5 304.1 L890.6 303.5 L890.3 302.5 L888.9 302.4 L886.5 300.5 L886.1 301.8 L885.8 303.5 L884.7 303.5 L884.2 304.6 Z M873.6 316.6 L875.4 316.4 L877.2 315.8 L878.6 316.1 L878.9 317.2 L880.1 316.4 L880.7 315.7 L882.4 315.8 L883.0 315.2 L884.0 315.2 L885.1 314.2 L884.9 312.7 L885.4 311.0 L886.1 309.6 L886.5 308.7 L885.9 307.5 L885.8 306.2 L884.8 306.5 L884.2 307.5 L884.2 308.9 L883.6 310.6 L882.4 311.7 L881.0 312.5 L880.5 312.0 L879.5 313.8 L878.9 314.4 L877.2 314.5 L875.4 314.8 L874.3 315.8 Z M713.6 290.9 L713.6 289.1 L714.2 287.7 L713.4 286.7 L711.8 286.5 L710.7 287.7 L708.9 288.1 L709.1 289.5 L708.6 291.2 L709.5 291.8 L711.3 291.5 Z M694.9 274.4 L692.6 273.3 L694.3 272.8 L692.2 272.1 L694.9 270.9 L698.4 271.3 L701.9 270.7 L703.7 271.4 L704.7 272.6 L703.7 273.5 L701.3 274.5 L698.6 275.1 L696.1 274.5 Z M905.6 375.3 L907.3 376.6 L907.0 376.9 L905.5 375.7 Z M843.5 374.3 L844.5 373.0 L846.8 373.6 L849.1 374.5 L850.9 374.0 L852.4 374.9 L854.4 375.7 L854.3 377.0 L851.5 376.6 L849.1 376.1 L846.8 375.7 L845.0 375.2 Z M629.1 338.8 L631.4 339.3 L631.6 339.4 L630.6 339.7 L629.5 339.0 Z M604.3 267.5 L607.8 267.9 L609.0 266.8 L607.3 266.0 L605.5 266.5 Z M872.3 317.4 L873.6 316.8 L874.6 317.6 L874.1 320.2 L873.2 320.9 L872.7 320.2 L872.5 318.3 Z M856.1 376.6 L857.0 376.4 L856.6 377.3 Z M860.8 342.1 L861.5 338.6 L863.4 338.6 L863.5 340.7 L862.7 342.4 L863.2 344.9 L865.5 345.2 L865.5 347.0 L864.3 346.3 L862.6 345.2 L861.5 344.2 Z M700.5 318.3 L701.1 318.3 L700.9 318.6 Z M723.4 308.9 L724.3 308.3 L724.6 308.7 L724.1 309.2 Z M908.3 376.4 L909.2 377.8 L908.7 378.1 L908.3 377.3 Z M916.0 387.3 L916.7 387.9 L916.2 388.2 Z M626.5 277.4 L627.5 276.6 L626.8 276.4 Z M556.7 377.0 L557.4 377.1 L557.0 377.4 L558.2 378.4 L558.4 378.8 Z M787.6 393.0 L788.1 393.1 L787.9 393.7 Z M861.2 345.6 L862.6 346.3 L862.2 347.5 L861.4 347.0 Z M597.3 258.7 L592.1 259.3 L586.8 259.4 L583.3 258.7 L585.1 256.9 L590.9 256.7 L595.6 257.3 Z M778.2 381.7 L779.6 386.6 L778.8 388.7 L778.2 390.8 L777.3 393.7 L776.1 397.9 L775.5 400.0 L773.4 400.7 L772.0 399.8 L771.2 395.8 L772.4 393.0 L772.0 389.4 L774.4 387.0 L776.1 385.2 L776.7 383.8 Z M863.2 354.8 L864.9 353.7 L865.1 352.5 L867.3 351.1 L868.4 354.1 L868.1 355.8 L867.3 356.5 L865.5 355.5 Z M524.3 272.0 L526.6 273.4 L528.0 273.7 L530.7 273.5 L532.5 273.1 L532.7 274.5 L530.7 275.0 L528.4 275.7 L527.2 276.8 L526.9 278.5 L528.4 279.5 L530.7 280.0 L531.5 281.7 L534.8 282.2 L537.1 281.7 L536.6 283.4 L535.0 284.8 L533.1 285.8 L530.7 287.0 L528.4 287.5 L530.1 287.4 L532.5 286.5 L534.8 285.8 L537.1 284.8 L538.9 283.4 L540.6 282.0 L541.8 280.9 L543.2 281.0 L544.2 278.9 L545.3 278.2 L545.9 279.2 L547.7 279.9 L549.4 279.2 L551.7 279.9 L554.7 279.9 L557.0 280.3 L558.8 281.2 L560.5 282.2 L561.7 282.7 L563.4 284.1 L564.6 285.6 L566.4 287.0 L568.1 287.5 L568.7 289.1 L569.9 290.5 L571.0 291.5 L571.6 292.6 L573.4 293.6 L574.5 294.3 L576.3 295.2 L577.1 295.6 L577.5 296.9 L576.9 298.1 L575.7 297.0 L574.9 296.3 L575.5 298.3 L575.7 299.4 L575.7 302.5 L575.1 304.2 L575.5 306.8 L575.2 307.6 L575.9 308.9 L576.9 311.0 L577.5 311.7 L578.0 312.7 L578.3 313.4 L579.2 314.5 L579.7 315.8 L581.0 316.1 L582.1 316.6 L582.9 317.4 L583.7 318.5 L584.4 320.2 L585.1 321.9 L585.9 322.9 L587.0 324.3 L587.3 325.3 L588.8 327.1 L589.6 328.9 L589.8 330.2 L591.1 331.3 L592.2 332.3 L592.6 331.5 L591.7 330.5 L591.2 329.6 L590.3 328.0 L589.5 325.8 L588.6 324.4 L587.6 322.6 L586.6 320.9 L586.5 319.8 L587.4 320.5 L588.7 321.6 L589.5 323.3 L590.9 325.3 L592.1 326.5 L592.9 328.2 L594.4 329.4 L596.2 331.8 L597.3 334.3 L597.6 335.9 L598.5 337.6 L599.7 338.8 L602.0 339.8 L603.7 340.8 L605.5 341.8 L607.8 342.5 L609.6 341.9 L610.8 341.8 L612.7 344.1 L614.3 345.1 L616.0 345.6 L617.8 346.0 L618.4 346.3 L619.2 347.3 L620.3 348.9 L620.5 350.3 L621.3 350.8 L622.4 352.0 L623.6 353.0 L624.8 353.1 L626.0 353.8 L626.8 354.2 L627.1 353.4 L627.7 352.1 L628.9 352.8 L629.6 354.4 L630.0 355.5 L630.2 359.0 L630.0 360.5 L628.8 362.2 L627.7 363.3 L627.0 364.7 L626.5 366.1 L626.1 367.8 L626.9 368.9 L625.7 370.8 L625.8 372.9 L627.1 374.6 L628.3 376.7 L629.5 379.5 L630.6 381.7 L631.6 384.5 L632.7 386.5 L634.7 388.0 L637.1 389.4 L638.5 390.7 L638.6 393.7 L638.6 397.2 L638.2 400.7 L637.6 403.6 L637.1 407.1 L636.9 410.6 L636.7 413.5 L635.9 415.6 L635.1 417.3 L634.5 419.8 L634.4 423.4 L634.7 424.8 L634.4 426.9 L633.5 429.0 L632.7 431.1 L632.4 434.0 L632.7 436.8 L633.5 438.9 L635.3 440.3 L637.6 441.0 L639.4 438.9 L640.7 438.6 L639.7 436.8 L640.1 435.8 L641.4 434.0 L643.5 432.3 L641.7 430.1 L642.0 429.0 L644.1 428.3 L644.4 426.9 L645.2 425.2 L646.0 424.3 L644.6 423.4 L644.6 422.4 L647.6 422.1 L647.9 419.8 L649.3 419.7 L652.2 419.1 L653.4 418.4 L654.3 416.3 L653.6 415.3 L653.4 414.2 L652.2 413.2 L653.1 413.5 L654.9 414.0 L656.3 414.0 L657.7 413.3 L658.2 412.3 L659.6 410.2 L660.8 408.5 L661.6 407.4 L662.5 406.0 L663.7 404.7 L663.9 402.2 L663.9 400.7 L665.1 399.8 L666.5 398.6 L668.3 397.6 L670.2 397.2 L671.5 397.1 L672.7 395.8 L673.6 393.7 L674.2 392.3 L674.8 389.4 L675.0 386.6 L675.0 384.5 L675.6 383.1 L676.5 381.7 L677.4 380.0 L678.8 378.1 L679.7 376.0 L679.9 374.6 L679.5 372.5 L678.5 371.8 L676.8 371.2 L675.6 369.9 L673.9 368.7 L671.8 368.8 L669.8 368.1 L668.6 368.7 L667.4 366.7 L665.1 365.7 L663.9 366.1 L662.2 364.7 L661.6 362.6 L661.0 359.8 L659.8 358.2 L658.1 356.8 L656.3 356.2 L654.0 356.2 L652.8 355.1 L651.1 353.4 L649.9 352.7 L648.7 350.8 L647.6 349.9 L645.8 349.7 L644.1 350.4 L642.3 349.7 L640.9 349.9 L639.4 348.4 L638.6 347.5 L638.8 348.6 L637.2 349.3 L637.1 349.2 L636.5 348.0 L636.8 347.2 L635.9 348.2 L634.7 348.7 L633.5 349.2 L632.4 349.9 L632.0 351.3 L631.2 352.4 L630.2 352.5 L629.5 351.6 L627.7 351.1 L626.5 351.8 L625.4 352.1 L624.4 351.6 L623.6 350.6 L622.8 349.2 L622.9 347.0 L623.0 344.9 L623.4 343.5 L621.9 342.2 L620.1 342.1 L618.1 342.2 L617.2 342.4 L617.4 340.7 L617.5 338.6 L618.0 337.1 L618.4 335.7 L619.2 334.5 L617.8 334.2 L616.0 334.6 L615.0 335.0 L614.8 336.9 L613.7 338.6 L612.5 338.4 L610.8 339.0 L609.6 338.4 L608.4 337.6 L607.8 336.4 L607.0 335.0 L606.3 333.2 L606.4 330.8 L606.8 328.0 L607.0 325.8 L607.8 324.7 L609.6 323.4 L610.8 322.7 L612.5 322.9 L614.3 323.4 L616.0 323.7 L616.0 322.0 L617.2 321.7 L618.4 321.9 L620.1 321.7 L621.3 322.7 L622.4 322.3 L623.6 323.7 L624.0 325.4 L624.5 327.1 L625.4 328.2 L626.1 329.2 L626.8 328.7 L627.1 327.2 L626.8 325.4 L626.4 324.3 L625.7 322.6 L625.5 321.2 L626.0 319.5 L627.1 318.5 L628.3 317.4 L629.5 316.8 L630.6 315.8 L631.8 315.2 L632.4 314.5 L632.0 313.1 L631.6 312.4 L631.9 311.7 L632.4 310.7 L632.8 309.9 L633.5 309.0 L634.1 307.9 L634.2 307.0 L635.3 306.5 L637.1 306.2 L638.2 305.9 L638.8 305.6 L638.1 304.8 L638.0 303.8 L638.8 302.8 L640.0 302.4 L641.7 301.7 L642.4 301.1 L644.6 300.3 L645.3 300.0 L645.2 300.7 L643.5 302.1 L643.7 302.9 L645.2 302.2 L646.4 301.7 L648.2 301.1 L649.3 300.7 L648.7 300.1 L647.6 300.1 L646.0 299.5 L645.0 298.7 L644.6 297.8 L645.0 297.1 L644.1 296.9 L645.2 295.7 L644.1 295.2 L641.7 295.2 L640.6 296.2 L639.2 297.6 L638.2 298.3 L637.4 298.6 L638.8 297.1 L640.0 296.0 L641.1 295.0 L642.9 293.8 L645.8 293.6 L648.7 293.8 L651.1 293.3 L653.4 292.1 L655.2 291.2 L655.5 289.8 L654.6 288.4 L652.8 287.7 L651.1 286.7 L649.3 285.6 L648.4 284.1 L647.6 282.7 L646.4 281.3 L645.2 279.5 L644.3 280.2 L644.1 281.3 L642.9 281.7 L641.7 282.3 L640.6 281.6 L639.4 281.0 L639.4 279.5 L638.8 278.5 L637.1 278.2 L635.9 277.4 L634.1 276.8 L632.4 276.6 L630.0 276.4 L629.2 277.1 L630.0 278.8 L629.7 280.6 L630.6 282.0 L631.2 283.7 L630.9 285.3 L630.0 286.3 L628.3 287.4 L627.7 288.4 L628.5 290.5 L628.3 291.9 L627.1 292.2 L626.0 291.2 L624.8 289.9 L624.4 288.4 L624.2 287.0 L622.4 286.5 L620.1 285.8 L617.8 284.8 L616.0 284.3 L614.3 283.9 L612.5 284.1 L611.3 282.0 L609.9 281.3 L609.8 279.9 L610.2 278.5 L611.3 277.4 L612.5 276.4 L614.3 275.7 L614.8 274.7 L617.2 274.2 L618.9 273.1 L620.1 271.1 L621.9 270.3 L623.6 270.0 L625.4 268.6 L625.4 266.9 L624.2 266.2 L621.3 266.0 L620.1 267.9 L617.8 268.2 L616.0 267.2 L614.3 266.5 L612.5 265.8 L613.1 264.4 L611.3 262.9 L609.0 264.4 L608.4 266.5 L607.3 268.6 L605.5 268.3 L603.7 268.9 L601.4 268.9 L599.1 268.3 L596.7 267.5 L594.4 267.9 L593.8 269.0 L592.1 268.6 L589.1 268.9 L586.8 268.3 L586.2 268.6 L583.3 267.2 L580.4 266.6 L578.0 266.0 L575.1 266.5 L574.5 265.8 L571.6 265.3 L569.9 266.0 L568.1 266.3 L565.8 266.5 L564.6 266.6 L563.4 266.3 L561.7 267.3 L559.3 266.8 L557.0 266.3 L555.3 266.2 L552.9 265.6 L550.6 265.6 L547.7 265.3 L544.7 265.1 L542.4 264.6 L540.1 264.4 L537.7 263.9 L536.0 264.5 L533.6 265.1 L531.9 265.3 L530.1 266.0 L528.4 267.3 L526.4 267.3 L526.0 268.2 L528.4 269.2 L529.3 269.9 L530.7 270.1 L531.9 270.9 L530.1 271.3 L528.4 270.7 L527.2 271.1 L526.0 271.6 Z M893.9 372.5 L896.5 372.5 L898.2 371.1 L898.6 371.8 L897.0 373.3 L894.7 373.5 Z M912.0 393.0 L912.6 393.2 L915.7 396.1 L915.2 396.5 L912.2 394.0 Z M651.3 297.4 L654.6 297.4 L655.7 298.4 L658.1 298.8 L659.0 297.6 L658.7 296.2 L657.5 294.9 L655.7 294.3 L655.4 292.6 L655.7 291.8 L654.2 292.2 L653.4 293.2 L652.2 295.2 L651.7 296.2 Z M873.7 366.5 L875.4 365.4 L877.2 366.0 L878.4 369.4 L881.3 366.8 L884.2 368.1 L887.1 369.2 L890.0 371.1 L891.0 372.5 L893.0 373.5 L893.3 376.0 L894.7 377.4 L896.8 379.3 L895.3 379.4 L893.0 378.8 L891.2 376.7 L888.9 375.7 L888.0 377.4 L885.4 377.7 L883.0 376.1 L881.9 376.6 L881.6 374.6 L882.4 373.9 L879.5 371.2 L877.8 370.4 L876.6 370.1 L875.4 368.2 L876.6 368.0 L874.8 367.5 Z M903.8 376.0 L905.0 376.6 L904.6 377.0 Z M896.5 368.2 L898.2 369.4 L899.4 371.1 L899.2 371.5 L897.6 369.9 Z M878.9 258.0 L881.9 259.1 L885.4 260.1 L888.3 261.1 L892.4 259.7 L896.5 258.7 L893.5 258.0 L890.0 257.6 L886.5 257.0 L883.0 257.1 Z M781.0 263.6 L783.1 264.6 L787.8 264.9 L786.0 263.6 L788.4 262.0 L790.7 260.1 L793.6 258.7 L796.6 257.6 L800.6 256.0 L796.6 256.2 L792.5 256.9 L789.0 258.0 L786.0 259.8 L784.9 261.5 L782.5 262.5 Z M922.4 413.3 L924.5 414.9 L925.7 417.0 L926.3 417.8 L928.6 417.8 L929.2 419.1 L927.4 420.1 L927.2 421.2 L925.3 423.5 L924.6 422.9 L925.1 421.2 L923.7 420.1 L924.6 418.4 L924.5 417.0 L923.3 414.9 Z M922.4 421.9 L924.2 423.1 L923.3 424.8 L922.5 426.6 L920.8 427.3 L920.1 429.4 L918.1 430.6 L915.2 429.7 L915.7 428.3 L917.5 426.9 L919.8 425.5 L921.0 423.8 Z M716.6 281.0 L717.7 280.9 L717.2 281.6 Z M857.6 352.8 L860.2 348.9 L860.5 349.9 L857.9 353.1 Z M863.2 348.0 L864.3 349.2 L864.6 351.3 L863.6 350.8 L863.2 349.6 Z M586.2 256.6 L580.4 257.6 L577.5 256.9 L580.4 255.4 L585.1 255.2 Z M642.1 338.7 L643.9 338.7 L643.9 339.3 L642.1 339.3 Z M607.8 262.9 L604.9 263.2 L601.4 261.8 L602.6 260.8 L606.1 260.4 L607.8 261.5 Z M566.4 291.2 L565.2 289.1 L565.8 288.4 L567.5 289.8 Z M785.1 394.2 L785.8 394.4 L785.5 394.9 Z M869.7 326.7 L870.5 326.7 L870.2 327.8 Z M890.7 343.1 L891.1 343.1 L890.9 343.6 Z M886.5 299.7 L888.3 299.0 L887.9 295.2 L888.9 294.7 L888.0 291.9 L887.9 289.8 L887.5 288.0 L886.8 288.1 L886.2 289.4 L886.5 292.6 L886.5 296.9 Z M865.8 347.0 L867.3 347.7 L867.3 349.9 L866.4 350.6 L865.8 348.7 Z M518.7 383.6 L520.3 384.2 L519.6 384.6 Z M730.4 309.6 L730.2 307.3 L730.8 306.5 L732.1 306.8 L731.8 309.3 L731.1 309.6 Z M870.2 369.2 L873.4 369.5 L872.5 370.1 L870.4 369.8 Z M826.9 252.3 L831.6 253.9 L838.0 254.5 L841.5 253.3 L843.3 252.3 L839.8 250.9 L837.5 249.9 L833.9 250.2 L829.3 250.9 Z M626.5 274.5 L622.4 275.7 L619.5 275.0 L618.9 272.8 L621.9 271.7 L625.4 273.5 Z M719.0 278.8 L719.4 279.3 L719.1 280.0 Z M875.4 317.6 L876.6 317.5 L877.9 316.9 L877.4 316.2 L876.0 316.5 Z M735.1 311.1 L736.1 310.7 L738.8 310.6 L738.2 312.4 L737.3 312.7 L735.3 311.6 Z M814.0 355.5 L813.8 353.4 L814.3 350.8 L815.3 352.3 L816.3 354.4 L815.5 355.9 L814.3 356.2 Z M782.9 346.9 L784.3 346.8 L783.9 347.3 Z M614.8 262.9 L611.9 262.8 L609.6 261.8 L610.2 260.1 L613.1 260.0 L614.8 260.8 Z M860.2 372.5 L861.3 372.5 L861.4 368.9 L862.0 368.4 L863.2 371.1 L864.3 371.5 L863.2 368.9 L862.6 367.2 L864.7 366.1 L862.6 366.0 L861.4 365.4 L861.5 364.0 L863.2 363.3 L866.1 363.3 L866.9 362.6 L865.5 364.1 L862.0 364.1 L860.8 363.7 L860.6 365.4 L859.4 368.2 L860.0 369.6 Z M832.0 356.8 L834.5 357.4 L835.7 359.0 L837.5 361.2 L839.2 362.2 L841.0 364.0 L842.1 366.1 L843.3 368.2 L844.5 369.4 L844.2 372.9 L842.7 372.9 L841.5 371.5 L840.1 370.1 L838.6 368.0 L837.8 365.8 L836.5 364.0 L835.7 362.2 L834.5 360.7 L832.8 359.0 Z M857.1 376.7 L859.7 376.3 L859.4 377.1 L857.3 377.4 Z M733.2 252.3 L734.0 253.3 L736.4 254.2 L738.1 255.6 L739.9 256.6 L741.0 255.6 L742.8 254.5 L745.1 253.8 L746.9 253.0 L752.2 252.2 L752.7 251.4 L748.6 251.1 L744.0 250.9 L740.5 251.6 L738.1 251.9 L735.2 251.9 Z M545.8 389.4 L546.4 389.6 L546.0 390.0 Z M889.7 422.2 L893.9 422.5 L893.9 424.3 L893.0 425.8 L891.2 426.2 L890.3 424.3 Z M700.9 324.6 L701.8 324.3 L701.4 325.1 Z M865.5 379.3 L866.9 377.4 L869.2 376.6 L867.8 377.8 Z M515.6 394.4 L516.1 394.5 L515.9 394.9 Z M648.3 349.6 L649.3 349.4 L649.3 350.4 L648.3 350.4 Z M861.1 332.8 L860.9 331.5 L862.0 329.4 L863.0 329.4 L862.6 331.5 L861.9 333.6 Z M576.5 296.3 L574.5 295.7 L572.8 294.7 L570.7 293.3 L571.6 292.9 L574.0 293.6 L575.7 294.9 Z M929.3 388.2 L930.9 387.6 L930.7 388.4 L929.5 388.6 Z M602.0 267.2 L597.9 266.9 L594.4 267.2 L589.7 267.7 L585.6 266.9 L583.3 266.0 L582.1 265.1 L583.9 264.4 L581.5 263.6 L583.3 262.2 L587.4 261.1 L590.9 262.1 L593.8 262.1 L596.7 261.2 L598.5 261.5 L601.4 263.6 L602.6 265.1 Z M927.8 389.4 L928.6 389.2 L929.3 390.1 L928.0 390.6 Z M929.2 264.4 L931.5 263.6 L933.9 264.1 L933.9 263.5 L930.9 263.4 Z M766.4 372.8 L766.9 373.0 L766.6 373.7 Z M788.7 300.4 L790.1 299.3 L792.1 298.6 L792.5 300.4 L791.3 301.9 L789.5 302.5 Z M590.9 281.6 L594.4 280.6 L597.3 281.0 L593.2 281.9 Z M841.9 291.8 L843.9 291.2 L846.8 289.1 L848.9 285.8 L848.2 285.8 L845.6 289.1 L842.7 290.9 Z M806.5 299.4 L808.2 298.8 L810.6 299.0 L813.1 298.7 L812.3 299.4 L808.8 299.7 L807.1 300.4 Z M623.1 305.8 L625.4 306.0 L627.1 305.2 L628.4 304.2 L627.1 304.5 L625.4 304.5 L623.6 305.3 Z M574.5 272.8 L576.9 270.7 L581.5 270.0 L583.3 271.0 L581.0 272.1 L579.2 273.0 L576.9 272.4 Z M583.9 278.5 L587.4 276.4 L593.2 275.9 L590.9 276.8 L585.6 278.5 Z M621.9 299.8 L623.0 299.8 L625.4 300.0 L626.5 300.7 L627.1 301.8 L625.6 302.1 L625.1 303.6 L624.2 303.9 L623.8 302.5 L623.0 302.5 L623.3 301.1 L621.9 300.4 Z M755.7 279.9 L756.8 280.0 L758.9 278.9 L758.0 277.8 L756.2 278.1 L755.7 279.2 Z M760.9 378.3 L761.4 378.8 L761.7 385.2 L761.1 384.9 L760.7 381.0 Z M618.0 305.3 L618.4 305.9 L619.2 305.8 L619.8 304.6 L619.8 302.5 L620.6 301.1 L621.5 300.0 L620.7 299.8 L619.5 300.0 L618.4 301.1 L617.8 301.8 L618.2 303.2 Z M760.9 278.5 L762.7 278.2 L763.0 277.1 L761.5 275.9 L760.9 276.8 Z M627.4 303.5 L628.9 303.4 L631.4 303.2 L631.6 302.4 L630.0 302.5 L627.8 302.9 Z M613.0 298.7 L614.8 298.8 L617.2 298.3 L618.4 299.0 L621.3 298.6 L621.7 299.0 L621.5 297.6 L620.1 296.2 L617.2 296.2 L616.0 296.9 L614.5 297.8 Z M754.7 369.4 L755.2 369.6 L756.2 373.9 L756.8 377.0 L756.4 377.0 L755.1 373.9 L754.6 371.1 Z M638.8 386.3 L639.6 386.6 L640.3 387.6 L639.7 387.7 L638.8 387.0 Z M757.6 366.1 L759.2 364.3 L760.3 365.1 L760.3 366.1 L759.7 368.2 L758.0 368.5 L757.5 366.8 Z M607.3 293.3 L608.1 291.9 L606.7 290.5 L605.5 288.7 L604.9 289.1 L606.7 291.9 Z" stroke="#000" stroke-width="1.7" fill="none" stroke-linejoin="round"/>
<path d="M49.9 303.2 L51.0 302.1 M52.2 301.1 L53.4 300.4 M54.5 299.7 L55.7 298.6 M56.9 298.0 L58.0 296.9 M59.2 296.2 L60.4 294.7 M61.0 294.0 L61.9 292.9 M-314.1 288.0 L-312.4 287.5 M-315.9 288.7 L-314.7 288.8 M-318.2 289.8 L-317.0 289.2 M-322.3 290.8 L-321.1 290.5 M-327.0 291.5 L-325.8 291.3 M-329.3 291.6 L-328.1 291.5 M87.3 291.5 L89.0 291.9 M81.4 289.9 L83.2 290.2 M-301.6 283.4 L-298.9 282.7 L-299.5 284.1 M-192.6 341.7 L-192.2 342.1 M-192.1 343.8 L-191.9 344.3 M-190.4 345.9 L-190.1 346.2 M-192.4 342.7 L-192.2 343.2 M-194.1 340.2 L-193.9 340.5 M-196.5 339.5 L-196.2 339.7 M-290.2 385.9 L-289.0 387.0 M-291.9 385.2 L-290.8 385.9 M-287.8 388.0 L-286.1 388.7 M-285.5 390.1 L-284.3 390.8 M-293.7 385.9 L-293.1 386.6 M-283.7 391.6 L-282.6 392.3 M-307.6 394.7 L-307.3 394.8 M-305.2 395.7 L-305.0 395.7 M-319.3 391.6 L-319.1 391.7 M-324.3 391.0 L-323.9 391.3 M-326.6 383.5 L-326.5 383.6 M-321.5 377.7 L-321.4 377.8 M81.3 362.7 L81.5 362.2 M79.1 354.7 L79.6 354.7 M75.2 352.4 L75.3 351.7 M64.0 354.9 L64.2 354.9 M56.6 354.2 L56.9 354.2 M40.5 351.3 L40.8 351.1 M36.4 354.2 L36.5 354.0 M76.7 391.6 L77.1 392.3 M75.8 388.0 L76.0 388.4 M73.2 379.7 L73.5 380.0 M-226.5 365.8 L-225.3 366.0 M-248.6 403.0 L-248.3 403.1 M-214.2 412.2 L-212.8 412.3 M-34.8 358.8 L-34.8 360.5 M-35.4 355.5 L-35.2 356.9 M-36.0 375.0 L-36.0 375.2 M-55.9 371.2 L-55.8 371.3 M-285.8 387.4 L-285.1 387.7 M-280.6 387.4 L-279.9 387.7 M-295.5 390.5 L-295.3 390.6 M-285.4 385.6 L-285.2 385.7 M-289.9 386.0 L-289.5 386.1 M-287.1 389.3 L-286.9 389.4 M-284.0 391.2 L-283.8 391.3 M-281.0 387.1 L-280.8 387.2 M-283.5 395.0 L-282.8 395.2 M-285.9 394.4 L-285.7 394.4 M-280.1 395.7 L-279.9 395.8 M-280.3 393.9 L-280.1 394.0 M-291.3 384.9 L-290.6 385.2 M-281.7 388.7 L-281.4 388.8 M-294.2 391.8 L-293.8 392.0 M-300.2 395.0 L-300.0 395.1 M-294.3 396.0 L-293.8 396.2 M-300.2 392.7 L-300.0 392.7 M-297.5 391.6 L-297.2 391.7 M-305.9 360.5 L-305.4 360.6 M-303.6 370.3 L-303.2 370.5 M-303.6 372.3 L-303.3 372.4 M-302.2 367.6 L-301.7 367.8 M-307.6 360.9 L-307.1 361.1 M76.3 349.5 L76.8 349.7 M73.6 357.0 L73.9 357.1 M74.2 356.3 L74.7 356.4 M76.1 355.0 L76.8 355.3 M75.3 353.8 L76.0 354.1 M79.4 350.0 L79.8 350.2 M73.5 348.4 L73.8 348.4 M74.9 353.2 L75.4 353.4 M85.6 366.1 L86.3 366.3 M83.4 366.3 L83.9 366.5 M82.0 362.2 L82.7 362.4 M81.1 363.1 L81.6 363.3 M81.2 368.5 L81.9 368.8 M83.4 365.5 L83.6 365.6 M88.4 376.4 L88.9 376.6 M87.1 375.9 L87.3 375.9 M89.5 374.3 L90.0 374.5 M86.5 377.4 L87.2 377.6 M-323.1 394.1 L-322.6 394.3 M-325.8 390.3 L-325.5 390.4 M-326.0 390.4 L-325.8 390.5 M-323.7 383.1 L-323.5 383.2 M-320.7 390.0 L-320.2 390.2 M57.5 355.4 L58.0 355.6 M46.3 354.8 L46.6 354.9 M41.3 351.8 L42.0 352.1 M65.1 353.2 L65.6 353.4 M62.5 356.4 L63.0 356.5 M45.8 352.1 L46.5 352.4 M48.3 352.1 L48.8 352.2 M57.7 352.9 L58.1 353.1 M-199.1 341.2 L-198.7 341.4 M-194.7 346.2 L-194.0 346.4 M-195.8 338.3 L-195.4 338.5 M-196.5 342.6 L-196.2 342.7 M-198.1 340.4 L-197.6 340.6 M-196.3 343.9 L-195.6 344.2 M470.5 303.2 L471.7 302.1 M472.9 301.1 L474.0 300.4 M475.2 299.7 L476.4 298.6 M477.5 298.0 L478.7 296.9 M479.9 296.2 L481.1 294.7 M481.6 294.0 L482.6 292.9 M106.5 288.0 L108.3 287.5 M104.8 288.7 L106.0 288.8 M102.5 289.8 L103.6 289.2 M98.4 290.8 L99.5 290.5 M93.7 291.5 L94.9 291.3 M91.4 291.6 L92.5 291.5 M507.9 291.5 L509.7 291.9 M502.1 289.9 L503.8 290.2 M119.0 283.4 L121.7 282.7 L121.2 284.1 M228.1 341.7 L228.4 342.1 M228.5 343.8 L228.8 344.3 M230.3 345.9 L230.5 346.2 M228.3 342.7 L228.4 343.2 M226.6 340.2 L226.8 340.5 M224.2 339.5 L224.4 339.7 M130.5 385.9 L131.7 387.0 M128.7 385.2 L129.9 385.9 M132.8 388.0 L134.6 388.7 M135.2 390.1 L136.3 390.8 M127.0 385.9 L127.6 386.6 M136.9 391.6 L138.1 392.3 M113.1 394.7 L113.3 394.8 M115.4 395.7 L115.7 395.7 M101.4 391.6 L101.5 391.7 M96.4 391.0 L96.7 391.3 M94.0 383.5 L94.2 383.6 M99.2 377.7 L99.3 377.8 M502.0 362.7 L502.2 362.2 M499.8 354.7 L500.2 354.7 M495.9 352.4 L496.0 351.7 M484.7 354.9 L484.9 354.9 M477.3 354.2 L477.5 354.2 M461.2 351.3 L461.4 351.1 M457.1 354.2 L457.2 354.0 M497.4 391.6 L497.8 392.3 M496.5 388.0 L496.7 388.4 M493.9 379.7 L494.1 380.0 M194.2 365.8 L195.4 366.0 M172.1 403.0 L172.3 403.1 M206.5 412.2 L207.9 412.3 M385.8 358.8 L385.8 360.5 M385.2 355.5 L385.5 356.9 M384.7 375.0 L384.7 375.2 M364.8 371.2 L364.9 371.3 M134.8 387.4 L135.5 387.7 M140.1 387.4 L140.8 387.7 M125.1 390.5 L125.4 390.6 M135.3 385.6 L135.5 385.7 M130.7 386.0 L131.2 386.1 M133.6 389.3 L133.8 389.4 M136.6 391.2 L136.9 391.3 M139.6 387.1 L139.9 387.2 M137.1 395.0 L137.8 395.2 M134.8 394.4 L135.0 394.4 M140.6 395.7 L140.8 395.8 M140.4 393.9 L140.6 394.0 M129.4 384.9 L130.1 385.2 M139.0 388.7 L139.2 388.8 M126.4 391.8 L126.9 392.0 M120.4 395.0 L120.7 395.1 M126.4 396.0 L126.9 396.2 M120.5 392.7 L120.7 392.7 M123.2 391.6 L123.4 391.7 M114.8 360.5 L115.2 360.6 M117.0 370.3 L117.5 370.5 M117.1 372.3 L117.3 372.4 M118.5 367.6 L119.0 367.8 M113.1 360.9 L113.5 361.1 M497.0 349.5 L497.5 349.7 M494.3 357.0 L494.5 357.1 M494.9 356.3 L495.3 356.4 M496.7 355.0 L497.4 355.3 M496.0 353.8 L496.7 354.1 M500.0 350.0 L500.5 350.2 M494.2 348.4 L494.4 348.4 M495.6 353.2 L496.1 353.4 M506.3 366.1 L507.0 366.3 M504.1 366.3 L504.6 366.5 M502.7 362.2 L503.4 362.4 M501.8 363.1 L502.3 363.3 M501.9 368.5 L502.6 368.8 M504.0 365.5 L504.3 365.6 M509.1 376.4 L509.5 376.6 M507.7 375.9 L508.0 375.9 M510.2 374.3 L510.6 374.5 M507.2 377.4 L507.9 377.6 M97.6 394.1 L98.0 394.3 M94.9 390.3 L95.1 390.4 M94.6 390.4 L94.9 390.5 M96.9 383.1 L97.2 383.2 M100.0 390.0 L100.4 390.2 M478.2 355.4 L478.6 355.6 M467.0 354.8 L467.2 354.9 M462.0 351.8 L462.7 352.1 M485.8 353.2 L486.2 353.4 M483.2 356.4 L483.7 356.5 M466.5 352.1 L467.2 352.4 M469.0 352.1 L469.5 352.2 M478.3 352.9 L478.8 353.1 M221.5 341.2 L222.0 341.4 M225.9 346.2 L226.6 346.4 M224.8 338.3 L225.3 338.5 M224.2 342.6 L224.4 342.7 M222.6 340.4 L223.0 340.6 M224.4 343.9 L225.1 344.2 M891.2 303.2 L892.4 302.1 M893.5 301.1 L894.7 300.4 M895.9 299.7 L897.0 298.6 M898.2 298.0 L899.4 296.9 M900.6 296.2 L901.7 294.7 M902.3 294.0 L903.2 292.9 M527.2 288.0 L529.0 287.5 M525.5 288.7 L526.6 288.8 M523.1 289.8 L524.3 289.2 M519.0 290.8 L520.2 290.5 M514.4 291.5 L515.5 291.3 M512.0 291.6 L513.2 291.5 M928.6 291.5 L930.4 291.9 M922.8 289.9 L924.5 290.2 M539.7 283.4 L542.4 282.7 L541.8 284.1 M648.7 341.7 L649.1 342.1 M649.2 343.8 L649.4 344.3 M651.0 345.9 L651.2 346.2 M649.0 342.7 L649.1 343.2 M647.2 340.2 L647.5 340.5 M644.9 339.5 L645.1 339.7 M551.2 385.9 L552.3 387.0 M549.4 385.2 L550.6 385.9 M553.5 388.0 L555.3 388.7 M555.8 390.1 L557.0 390.8 M547.7 385.9 L548.2 386.6 M557.6 391.6 L558.8 392.3 M533.8 394.7 L534.0 394.8 M536.1 395.7 L536.3 395.7 M522.1 391.6 L522.2 391.7 M517.0 391.0 L517.4 391.3 M514.7 383.5 L514.8 383.6 M519.8 377.7 L520.0 377.8 M922.6 362.7 L922.9 362.2 M920.4 354.7 L920.9 354.7 M916.6 352.4 L916.7 351.7 M905.3 354.9 L905.6 354.9 M898.0 354.2 L898.2 354.2 M881.9 351.3 L882.1 351.1 M877.8 354.2 L877.9 354.0 M918.1 391.6 L918.4 392.3 M917.1 388.0 L917.4 388.4 M914.6 379.7 L914.8 380.0 M614.8 365.8 L616.0 366.0 M592.8 403.0 L593.0 403.1 M627.1 412.2 L628.5 412.3 M806.5 358.8 L806.5 360.5 M805.9 355.5 L806.1 356.9 M805.3 375.0 L805.3 375.2 M785.5 371.2 L785.6 371.3 M555.5 387.4 L556.2 387.7 M560.7 387.4 L561.4 387.7 M545.8 390.5 L546.0 390.6 M555.9 385.6 L556.2 385.7 M551.4 386.0 L551.9 386.1 M554.2 389.3 L554.5 389.4 M557.3 391.2 L557.5 391.3 M560.3 387.1 L560.5 387.2 M557.8 395.0 L558.5 395.2 M555.4 394.4 L555.7 394.4 M561.2 395.7 L561.5 395.8 M561.0 393.9 L561.3 394.0 M550.1 384.9 L550.8 385.2 M559.7 388.7 L559.9 388.8 M547.1 391.8 L547.6 392.0 M541.1 395.0 L541.3 395.1 M547.1 396.0 L547.5 396.2 M541.1 392.7 L541.4 392.7 M543.9 391.6 L544.1 391.7 M535.4 360.5 L535.9 360.6 M537.7 370.3 L538.2 370.5 M537.8 372.3 L538.0 372.4 M539.2 367.6 L539.7 367.8 M533.7 360.9 L534.2 361.1 M917.7 349.5 L918.1 349.7 M915.0 357.0 L915.2 357.1 M915.5 356.3 L916.0 356.4 M917.4 355.0 L918.1 355.3 M916.6 353.8 L917.3 354.1 M920.7 350.0 L921.2 350.2 M914.9 348.4 L915.1 348.4 M916.3 353.2 L916.7 353.4 M927.0 366.1 L927.7 366.3 M924.8 366.3 L925.2 366.5 M923.4 362.2 L924.1 362.4 M922.5 363.1 L922.9 363.3 M922.5 368.5 L923.2 368.8 M924.7 365.5 L924.9 365.6 M929.7 376.4 L930.2 376.6 M928.4 375.9 L928.6 375.9 M930.8 374.3 L931.3 374.5 M927.8 377.4 L928.5 377.6 M518.2 394.1 L518.7 394.3 M515.6 390.3 L515.8 390.4 M515.3 390.4 L515.5 390.5 M517.6 383.1 L517.8 383.2 M520.6 390.0 L521.1 390.2 M898.8 355.4 L899.3 355.6 M887.7 354.8 L887.9 354.9 M882.7 351.8 L883.4 352.1 M906.4 353.2 L906.9 353.4 M903.9 356.4 L904.3 356.5 M887.2 352.1 L887.9 352.4 M889.7 352.1 L890.1 352.2 M899.0 352.9 L899.5 353.1 M642.2 341.2 L642.7 341.4 M646.6 346.2 L647.3 346.4 M645.5 338.3 L646.0 338.5 M644.9 342.6 L645.1 342.7 M643.2 340.4 L643.7 340.6 M645.1 343.9 L645.8 344.2" stroke="#000" stroke-width="1.3" fill="none" stroke-linecap="round"/>
<path d="M19.5 342.1 L20.2 338.6 L22.1 338.6 L22.2 340.7 L21.4 342.4 L21.8 344.9 L24.2 345.2 L24.2 347.0 L23.0 346.3 L21.2 345.2 L20.2 344.2 Z M21.8 354.8 L23.6 353.7 L23.8 352.5 L25.9 351.1 L27.1 354.1 L26.7 355.8 L25.9 356.5 L24.2 355.5 Z M24.5 347.0 L25.9 347.7 L25.9 349.9 L25.1 350.6 L24.5 348.7 Z M21.8 348.0 L23.0 349.2 L23.2 351.3 L22.3 350.8 L21.8 349.6 Z M16.2 352.8 L18.9 348.9 L19.1 349.9 L16.6 353.1 Z M19.8 345.6 L21.2 346.3 L20.9 347.5 L20.1 347.0 Z M-9.4 356.8 L-6.8 357.4 L-5.6 359.0 L-3.9 361.2 L-2.1 362.2 L-0.4 364.0 L0.8 366.1 L2.0 368.2 L3.1 369.4 L2.9 372.9 L1.4 372.9 L0.2 371.5 L-1.2 370.1 L-2.7 368.0 L-3.5 365.8 L-4.8 364.0 L-5.6 362.2 L-6.8 360.7 L-8.6 359.0 Z M2.2 374.3 L3.1 373.0 L5.5 373.6 L7.8 374.5 L9.6 374.0 L11.1 374.9 L13.1 375.7 L12.9 377.0 L10.1 376.6 L7.8 376.1 L5.5 375.7 L3.7 375.2 Z M18.9 372.5 L20.0 372.5 L20.1 368.9 L20.7 368.4 L21.8 371.1 L23.0 371.5 L21.8 368.9 L21.2 367.2 L23.3 366.1 L21.2 366.0 L20.1 365.4 L20.2 364.0 L21.8 363.3 L24.7 363.3 L25.6 362.6 L24.2 364.1 L20.7 364.1 L19.5 363.7 L19.3 365.4 L18.1 368.2 L18.7 369.6 Z M28.3 362.6 L29.4 363.3 L28.8 364.7 L29.8 365.8 L28.6 365.4 L28.0 363.6 Z M28.8 369.2 L32.1 369.5 L31.2 370.1 L29.1 369.8 Z M26.5 369.2 L27.9 369.4 L27.4 370.1 L26.5 369.8 Z M12.9 376.1 L14.5 376.6 L13.9 377.1 Z M14.8 376.6 L15.6 376.4 L15.3 377.3 Z M15.7 376.7 L18.3 376.3 L18.1 377.1 L16.0 377.4 Z M19.3 376.7 L22.9 376.1 L22.8 377.0 L19.5 377.1 Z M24.2 379.3 L25.6 377.4 L27.9 376.6 L26.5 377.8 Z M52.6 372.5 L55.1 372.5 L56.9 371.1 L57.2 371.8 L55.7 373.3 L53.4 373.5 Z M55.1 368.2 L56.9 369.4 L58.0 371.1 L57.8 371.5 L56.3 369.9 Z M59.9 372.0 L61.3 373.9 L61.0 374.3 L60.2 373.2 Z M32.2 316.6 L34.1 316.4 L35.8 315.8 L37.3 316.1 L37.6 317.2 L38.8 316.4 L39.4 315.7 L41.1 315.8 L41.7 315.2 L42.6 315.2 L43.8 314.2 L43.6 312.7 L44.0 311.0 L44.7 309.6 L45.2 308.7 L44.6 307.5 L44.5 306.2 L43.4 306.5 L42.9 307.5 L42.9 308.9 L42.3 310.6 L41.1 311.7 L39.7 312.5 L39.1 312.0 L38.2 313.8 L37.6 314.4 L35.8 314.5 L34.1 314.8 L32.9 315.8 Z M30.9 317.4 L32.2 316.8 L33.3 317.6 L32.8 320.2 L31.9 320.9 L31.4 320.2 L31.2 318.3 Z M34.1 317.6 L35.3 317.5 L36.5 316.9 L36.1 316.2 L34.7 316.5 Z M42.9 306.0 L44.0 305.6 L44.6 304.5 L46.7 305.3 L48.1 304.1 L49.3 303.5 L48.9 302.5 L47.5 302.4 L45.2 300.5 L44.7 301.8 L44.5 303.5 L43.3 303.5 L42.9 304.6 Z M45.2 299.7 L46.9 299.0 L46.6 295.2 L47.5 294.7 L46.7 291.9 L46.6 289.8 L46.1 288.0 L45.4 288.1 L44.8 289.4 L45.2 292.6 L45.2 296.9 Z M-219.9 333.7 L-218.9 332.6 L-216.6 332.1 L-214.2 332.1 L-211.9 333.2 L-209.5 334.7 L-207.4 336.2 L-208.4 336.6 L-210.7 336.6 L-211.3 335.4 L-212.5 334.3 L-214.2 333.9 L-216.0 333.3 L-217.7 333.6 L-219.1 334.2 Z M-207.7 338.7 L-205.7 336.6 L-203.7 336.6 L-201.9 337.6 L-200.5 338.4 L-201.9 339.0 L-203.7 339.4 L-204.9 339.0 L-207.2 339.0 Z M440.2 342.1 L440.9 338.6 L442.7 338.6 L442.8 340.7 L442.0 342.4 L442.5 344.9 L444.8 345.2 L444.8 347.0 L443.7 346.3 L441.9 345.2 L440.9 344.2 Z M442.5 354.8 L444.2 353.7 L444.5 352.5 L446.6 351.1 L447.8 354.1 L447.4 355.8 L446.6 356.5 L444.8 355.5 Z M445.2 347.0 L446.6 347.7 L446.6 349.9 L445.8 350.6 L445.2 348.7 Z M442.5 348.0 L443.7 349.2 L443.9 351.3 L443.0 350.8 L442.5 349.6 Z M436.9 352.8 L439.6 348.9 L439.8 349.9 L437.2 353.1 Z M440.5 345.6 L441.9 346.3 L441.6 347.5 L440.7 347.0 Z M411.3 356.8 L413.9 357.4 L415.0 359.0 L416.8 361.2 L418.5 362.2 L420.3 364.0 L421.5 366.1 L422.6 368.2 L423.8 369.4 L423.6 372.9 L422.0 372.9 L420.9 371.5 L419.5 370.1 L418.0 368.0 L417.1 365.8 L415.9 364.0 L415.0 362.2 L413.9 360.7 L412.1 359.0 Z M422.9 374.3 L423.8 373.0 L426.1 373.6 L428.5 374.5 L430.2 374.0 L431.7 374.9 L433.7 375.7 L433.6 377.0 L430.8 376.6 L428.5 376.1 L426.1 375.7 L424.4 375.2 Z M439.6 372.5 L440.6 372.5 L440.7 368.9 L441.3 368.4 L442.5 371.1 L443.7 371.5 L442.5 368.9 L441.9 367.2 L444.0 366.1 L441.9 366.0 L440.7 365.4 L440.9 364.0 L442.5 363.3 L445.4 363.3 L446.2 362.6 L444.8 364.1 L441.3 364.1 L440.2 363.7 L439.9 365.4 L438.8 368.2 L439.3 369.6 Z M448.9 362.6 L450.1 363.3 L449.5 364.7 L450.4 365.8 L449.3 365.4 L448.7 363.6 Z M449.5 369.2 L452.8 369.5 L451.8 370.1 L449.7 369.8 Z M447.2 369.2 L448.6 369.4 L448.1 370.1 L447.2 369.8 Z M433.6 376.1 L435.1 376.6 L434.5 377.1 Z M435.5 376.6 L436.3 376.4 L435.9 377.3 Z M436.4 376.7 L439.0 376.3 L438.8 377.1 L436.7 377.4 Z M439.9 376.7 L443.5 376.1 L443.4 377.0 L440.2 377.1 Z M444.8 379.3 L446.2 377.4 L448.6 376.6 L447.2 377.8 Z M473.2 372.5 L475.8 372.5 L477.5 371.1 L477.9 371.8 L476.4 373.3 L474.0 373.5 Z M475.8 368.2 L477.5 369.4 L478.7 371.1 L478.5 371.5 L477.0 369.9 Z M480.6 372.0 L482.0 373.9 L481.6 374.3 L480.8 373.2 Z M452.9 316.6 L454.8 316.4 L456.5 315.8 L457.9 316.1 L458.3 317.2 L459.4 316.4 L460.0 315.7 L461.8 315.8 L462.4 315.2 L463.3 315.2 L464.5 314.2 L464.2 312.7 L464.7 311.0 L465.4 309.6 L465.9 308.7 L465.3 307.5 L465.2 306.2 L464.1 306.5 L463.5 307.5 L463.5 308.9 L462.9 310.6 L461.8 311.7 L460.4 312.5 L459.8 312.0 L458.9 313.8 L458.3 314.4 L456.5 314.5 L454.8 314.8 L453.6 315.8 Z M451.6 317.4 L452.9 316.8 L453.9 317.6 L453.5 320.2 L452.5 320.9 L452.1 320.2 L451.8 318.3 Z M454.8 317.6 L455.9 317.5 L457.2 316.9 L456.7 316.2 L455.3 316.5 Z M463.5 306.0 L464.7 305.6 L465.3 304.5 L467.4 305.3 L468.8 304.1 L470.0 303.5 L469.6 302.5 L468.2 302.4 L465.9 300.5 L465.4 301.8 L465.2 303.5 L464.0 303.5 L463.5 304.6 Z M465.9 299.7 L467.6 299.0 L467.3 295.2 L468.2 294.7 L467.4 291.9 L467.3 289.8 L466.8 288.0 L466.1 288.1 L465.5 289.4 L465.9 292.6 L465.9 296.9 Z M200.7 333.7 L201.8 332.6 L204.1 332.1 L206.5 332.1 L208.8 333.2 L211.1 334.7 L213.2 336.2 L212.3 336.6 L210.0 336.6 L209.4 335.4 L208.2 334.3 L206.5 333.9 L204.7 333.3 L202.9 333.6 L201.5 334.2 Z M213.0 338.7 L215.0 336.6 L217.0 336.6 L218.7 337.6 L220.1 338.4 L218.7 339.0 L217.0 339.4 L215.8 339.0 L213.5 339.0 Z M860.8 342.1 L861.5 338.6 L863.4 338.6 L863.5 340.7 L862.7 342.4 L863.2 344.9 L865.5 345.2 L865.5 347.0 L864.3 346.3 L862.6 345.2 L861.5 344.2 Z M863.2 354.8 L864.9 353.7 L865.1 352.5 L867.3 351.1 L868.4 354.1 L868.1 355.8 L867.3 356.5 L865.5 355.5 Z M865.8 347.0 L867.3 347.7 L867.3 349.9 L866.4 350.6 L865.8 348.7 Z M863.2 348.0 L864.3 349.2 L864.6 351.3 L863.6 350.8 L863.2 349.6 Z M857.6 352.8 L860.2 348.9 L860.5 349.9 L857.9 353.1 Z M861.2 345.6 L862.6 346.3 L862.2 347.5 L861.4 347.0 Z M832.0 356.8 L834.5 357.4 L835.7 359.0 L837.5 361.2 L839.2 362.2 L841.0 364.0 L842.1 366.1 L843.3 368.2 L844.5 369.4 L844.2 372.9 L842.7 372.9 L841.5 371.5 L840.1 370.1 L838.6 368.0 L837.8 365.8 L836.5 364.0 L835.7 362.2 L834.5 360.7 L832.8 359.0 Z M843.5 374.3 L844.5 373.0 L846.8 373.6 L849.1 374.5 L850.9 374.0 L852.4 374.9 L854.4 375.7 L854.3 377.0 L851.5 376.6 L849.1 376.1 L846.8 375.7 L845.0 375.2 Z M860.2 372.5 L861.3 372.5 L861.4 368.9 L862.0 368.4 L863.2 371.1 L864.3 371.5 L863.2 368.9 L862.6 367.2 L864.7 366.1 L862.6 366.0 L861.4 365.4 L861.5 364.0 L863.2 363.3 L866.1 363.3 L866.9 362.6 L865.5 364.1 L862.0 364.1 L860.8 363.7 L860.6 365.4 L859.4 368.2 L860.0 369.6 Z M869.6 362.6 L870.8 363.3 L870.2 364.7 L871.1 365.8 L869.9 365.4 L869.4 363.6 Z M870.2 369.2 L873.4 369.5 L872.5 370.1 L870.4 369.8 Z M867.8 369.2 L869.2 369.4 L868.8 370.1 L867.8 369.8 Z M854.3 376.1 L855.8 376.6 L855.2 377.1 Z M856.1 376.6 L857.0 376.4 L856.6 377.3 Z M857.1 376.7 L859.7 376.3 L859.4 377.1 L857.3 377.4 Z M860.6 376.7 L864.2 376.1 L864.1 377.0 L860.8 377.1 Z M865.5 379.3 L866.9 377.4 L869.2 376.6 L867.8 377.8 Z M893.9 372.5 L896.5 372.5 L898.2 371.1 L898.6 371.8 L897.0 373.3 L894.7 373.5 Z M896.5 368.2 L898.2 369.4 L899.4 371.1 L899.2 371.5 L897.6 369.9 Z M901.3 372.0 L902.7 373.9 L902.3 374.3 L901.5 373.2 Z M873.6 316.6 L875.4 316.4 L877.2 315.8 L878.6 316.1 L878.9 317.2 L880.1 316.4 L880.7 315.7 L882.4 315.8 L883.0 315.2 L884.0 315.2 L885.1 314.2 L884.9 312.7 L885.4 311.0 L886.1 309.6 L886.5 308.7 L885.9 307.5 L885.8 306.2 L884.8 306.5 L884.2 307.5 L884.2 308.9 L883.6 310.6 L882.4 311.7 L881.0 312.5 L880.5 312.0 L879.5 313.8 L878.9 314.4 L877.2 314.5 L875.4 314.8 L874.3 315.8 Z M872.3 317.4 L873.6 316.8 L874.6 317.6 L874.1 320.2 L873.2 320.9 L872.7 320.2 L872.5 318.3 Z M875.4 317.6 L876.6 317.5 L877.9 316.9 L877.4 316.2 L876.0 316.5 Z M884.2 306.0 L885.4 305.6 L885.9 304.5 L888.0 305.3 L889.5 304.1 L890.6 303.5 L890.3 302.5 L888.9 302.4 L886.5 300.5 L886.1 301.8 L885.8 303.5 L884.7 303.5 L884.2 304.6 Z M886.5 299.7 L888.3 299.0 L887.9 295.2 L888.9 294.7 L888.0 291.9 L887.9 289.8 L887.5 288.0 L886.8 288.1 L886.2 289.4 L886.5 292.6 L886.5 296.9 Z M621.4 333.7 L622.4 332.6 L624.8 332.1 L627.1 332.1 L629.5 333.2 L631.8 334.7 L633.9 336.2 L633.0 336.6 L630.6 336.6 L630.0 335.4 L628.9 334.3 L627.1 333.9 L625.4 333.3 L623.6 333.6 L622.2 334.2 Z M633.7 338.7 L635.6 336.6 L637.6 336.6 L639.4 337.6 L640.8 338.4 L639.4 339.0 L637.6 339.4 L636.5 339.0 L634.1 339.0 Z" stroke="#000" stroke-width="1.9" fill="none" stroke-linejoin="round"/>
<path d="M-108.1 252.3 L-107.3 253.3 L-105.0 254.2 L-103.2 255.6 L-101.5 256.6 L-100.3 255.6 L-98.5 254.5 L-96.2 253.8 L-94.4 253.0 L-89.2 252.2 L-88.6 251.4 L-92.7 251.1 L-97.4 250.9 L-100.9 251.6 L-103.2 251.9 L-106.1 251.9 Z M-68.2 250.9 L-64.6 251.4 L-60.0 251.2 L-62.3 250.2 L-67.0 250.4 Z M-59.4 251.6 L-53.0 251.4 L-48.3 250.8 L-50.6 249.7 L-56.5 249.8 Z M-54.1 249.2 L-48.3 249.1 L-44.8 249.9 L-50.6 249.9 Z M-14.4 252.3 L-9.7 253.9 L-3.3 254.5 L0.2 253.3 L2.0 252.3 L-1.5 250.9 L-3.9 249.9 L-7.4 250.2 L-12.1 250.9 Z M37.6 258.0 L40.5 259.1 L44.0 260.1 L46.9 261.1 L51.0 259.7 L55.1 258.7 L52.2 258.0 L48.7 257.6 L45.2 257.0 L41.7 257.1 Z M-60.3 263.6 L-58.2 264.6 L-53.5 264.9 L-55.3 263.6 L-53.0 262.0 L-50.6 260.1 L-47.7 258.7 L-44.8 257.6 L-40.7 256.0 L-44.8 256.2 L-48.9 256.9 L-52.4 258.0 L-55.3 259.8 L-56.5 261.5 L-58.8 262.5 Z M312.6 252.3 L313.4 253.3 L315.7 254.2 L317.5 255.6 L319.2 256.6 L320.4 255.6 L322.1 254.5 L324.5 253.8 L326.2 253.0 L331.5 252.2 L332.1 251.4 L328.0 251.1 L323.3 250.9 L319.8 251.6 L317.5 251.9 L314.5 251.9 Z M352.5 250.9 L356.0 251.4 L360.7 251.2 L358.4 250.2 L353.7 250.4 Z M361.3 251.6 L367.7 251.4 L372.4 250.8 L370.0 249.7 L364.2 249.8 Z M366.5 249.2 L372.4 249.1 L375.9 249.9 L370.0 249.9 Z M406.3 252.3 L410.9 253.9 L417.4 254.5 L420.9 253.3 L422.6 252.3 L419.1 250.9 L416.8 249.9 L413.3 250.2 L408.6 250.9 Z M458.3 258.0 L461.2 259.1 L464.7 260.1 L467.6 261.1 L471.7 259.7 L475.8 258.7 L472.9 258.0 L469.4 257.6 L465.9 257.0 L462.4 257.1 Z M360.3 263.6 L362.4 264.6 L367.1 264.9 L365.4 263.6 L367.7 262.0 L370.0 260.1 L373.0 258.7 L375.9 257.6 L380.0 256.0 L375.9 256.2 L371.8 256.9 L368.3 258.0 L365.4 259.8 L364.2 261.5 L361.9 262.5 Z M733.2 252.3 L734.0 253.3 L736.4 254.2 L738.1 255.6 L739.9 256.6 L741.0 255.6 L742.8 254.5 L745.1 253.8 L746.9 253.0 L752.2 252.2 L752.7 251.4 L748.6 251.1 L744.0 250.9 L740.5 251.6 L738.1 251.9 L735.2 251.9 Z M773.2 250.9 L776.7 251.4 L781.4 251.2 L779.0 250.2 L774.4 250.4 Z M781.9 251.6 L788.4 251.4 L793.0 250.8 L790.7 249.7 L784.9 249.8 Z M787.2 249.2 L793.0 249.1 L796.6 249.9 L790.7 249.9 Z M826.9 252.3 L831.6 253.9 L838.0 254.5 L841.5 253.3 L843.3 252.3 L839.8 250.9 L837.5 249.9 L833.9 250.2 L829.3 250.9 Z M878.9 258.0 L881.9 259.1 L885.4 260.1 L888.3 261.1 L892.4 259.7 L896.5 258.7 L893.5 258.0 L890.0 257.6 L886.5 257.0 L883.0 257.1 Z M781.0 263.6 L783.1 264.6 L787.8 264.9 L786.0 263.6 L788.4 262.0 L790.7 260.1 L793.6 258.7 L796.6 257.6 L800.6 256.0 L796.6 256.2 L792.5 256.9 L789.0 258.0 L786.0 259.8 L784.9 261.5 L782.5 262.5 Z" fill="#000"/>
<path d="M-281.4 281.3 L-279.7 282.7 L-277.9 284.1 L-276.7 285.6 L-275.0 287.0 L-273.2 288.0 L-272.1 289.8 L-270.3 291.5 L-269.1 292.9 L-266.8 294.2 L-265.0 295.2" stroke="#000" stroke-width="3.2" fill="none" stroke-linejoin="round"/><path d="M-313.0 287.5 L-308.9 286.5 L-305.4 285.3 L-302.4 283.4 L-300.1 281.6 L-297.8 280.6" stroke="#000" stroke-width="2.6" fill="none" stroke-linejoin="round"/><path d="M-298.9 279.6 L-296.0 278.5 L-292.5 279.1 L-289.0 279.6 L-284.3 280.2 L-281.4 281.3" stroke="#000" stroke-width="2.2" fill="none" stroke-linejoin="round"/><path d="M-204.9 253.3 L-204.3 255.4 L-201.4 256.6 L-197.9 257.3 L-192.6 257.0 L-189.1 258.0 L-186.8 260.8 L-185.6 262.9 L-184.4 265.1 L-182.1 266.5 L-180.3 267.2 L-183.2 268.6 L-183.2 270.7 L-181.5 272.1" stroke="#000" stroke-width="3.4" fill="none" stroke-linejoin="round"/><path d="M-141.8 252.3 L-143.5 253.8 L-142.4 255.9 L-144.1 257.3 L-143.5 258.7 L-145.3 259.8 L-146.4 261.5 L-147.0 262.9 L-146.4 264.4 L-147.6 265.1 L-149.9 265.5 L-151.1 267.2 L-155.8 268.3 L-158.7 268.6 L-161.6 270.7 L-165.1 272.0 L-167.5 272.8 L-168.6 275.0" stroke="#000" stroke-width="3.4" fill="none" stroke-linejoin="round"/><path d="M-206.7 424.8 L-207.0 426.9 L-207.8 429.0 L-208.4 431.1 L-208.6 434.0 L-208.4 436.8 L-207.6 438.9" stroke="#000" stroke-width="4.0" fill="none" stroke-linejoin="round"/><path d="M139.3 281.3 L141.0 282.7 L142.8 284.1 L143.9 285.6 L145.7 287.0 L147.4 288.0 L148.6 289.8 L150.4 291.5 L151.5 292.9 L153.9 294.2 L155.6 295.2" stroke="#000" stroke-width="3.2" fill="none" stroke-linejoin="round"/><path d="M107.7 287.5 L111.8 286.5 L115.3 285.3 L118.2 283.4 L120.6 281.6 L122.9 280.6" stroke="#000" stroke-width="2.6" fill="none" stroke-linejoin="round"/><path d="M121.7 279.6 L124.7 278.5 L128.2 279.1 L131.7 279.6 L136.3 280.2 L139.3 281.3" stroke="#000" stroke-width="2.2" fill="none" stroke-linejoin="round"/><path d="M215.8 253.3 L216.4 255.4 L219.3 256.6 L222.8 257.3 L228.1 257.0 L231.6 258.0 L233.9 260.8 L235.1 262.9 L236.2 265.1 L238.6 266.5 L240.3 267.2 L237.4 268.6 L237.4 270.7 L239.2 272.1" stroke="#000" stroke-width="3.4" fill="none" stroke-linejoin="round"/><path d="M278.9 252.3 L277.1 253.8 L278.3 255.9 L276.6 257.3 L277.1 258.7 L275.4 259.8 L274.2 261.5 L273.6 262.9 L274.2 264.4 L273.1 265.1 L270.7 265.5 L269.6 267.2 L264.9 268.3 L262.0 268.6 L259.0 270.7 L255.5 272.0 L253.2 272.8 L252.0 275.0" stroke="#000" stroke-width="3.4" fill="none" stroke-linejoin="round"/><path d="M213.9 424.8 L213.7 426.9 L212.9 429.0 L212.3 431.1 L212.1 434.0 L212.3 436.8 L213.1 438.9" stroke="#000" stroke-width="4.0" fill="none" stroke-linejoin="round"/><path d="M559.9 281.3 L561.7 282.7 L563.4 284.1 L564.6 285.6 L566.4 287.0 L568.1 288.0 L569.3 289.8 L571.0 291.5 L572.2 292.9 L574.5 294.2 L576.3 295.2" stroke="#000" stroke-width="3.2" fill="none" stroke-linejoin="round"/><path d="M528.4 287.5 L532.5 286.5 L536.0 285.3 L538.9 283.4 L541.2 281.6 L543.6 280.6" stroke="#000" stroke-width="2.6" fill="none" stroke-linejoin="round"/><path d="M542.4 279.6 L545.3 278.5 L548.8 279.1 L552.3 279.6 L557.0 280.2 L559.9 281.3" stroke="#000" stroke-width="2.2" fill="none" stroke-linejoin="round"/><path d="M636.5 253.3 L637.1 255.4 L640.0 256.6 L643.5 257.3 L648.7 257.0 L652.2 258.0 L654.6 260.8 L655.7 262.9 L656.9 265.1 L659.3 266.5 L661.0 267.2 L658.1 268.6 L658.1 270.7 L659.8 272.1" stroke="#000" stroke-width="3.4" fill="none" stroke-linejoin="round"/><path d="M699.6 252.3 L697.8 253.8 L699.0 255.9 L697.2 257.3 L697.8 258.7 L696.1 259.8 L694.9 261.5 L694.3 262.9 L694.9 264.4 L693.7 265.1 L691.4 265.5 L690.2 267.2 L685.5 268.3 L682.6 268.6 L679.7 270.7 L676.2 272.0 L673.9 272.8 L672.7 275.0" stroke="#000" stroke-width="3.4" fill="none" stroke-linejoin="round"/><path d="M634.6 424.8 L634.4 426.9 L633.5 429.0 L633.0 431.1 L632.7 434.0 L633.0 436.8 L633.8 438.9" stroke="#000" stroke-width="4.0" fill="none" stroke-linejoin="round"/>
<path d="M202 248h4v1h-4zM214 248h2v1h-2zM217 248h5v1h-5zM223 248h2v1h-2zM197 249h2v1h-2zM203 249h3v1h-3zM205 249h5v1h-5zM208 249h2v2h-2zM213 249h5v1h-5zM215 249h3v1h-3zM217 249h5v1h-5zM224 249h2v2h-2zM190 250h3v2h-3zM197 250h3v1h-3zM203 250h2v1h-2zM206 250h4v1h-4zM188 251h2v1h-2zM199 251h5v1h-5zM206 251h4v1h-4zM209 251h4v1h-4zM212 251h4v1h-4zM213 251h5v1h-5zM178 252h2v1h-2zM182 252h3v2h-3zM188 252h3v2h-3zM190 252h2v2h-2zM192 252h4v1h-4zM205 252h2v2h-2zM206 252h4v1h-4zM214 252h3v2h-3zM173 253h3v2h-3zM174 253h2v1h-2zM181 253h4v1h-4zM200 253h4v1h-4zM169 254h2v1h-2zM185 254h2v1h-2zM194 254h5v1h-5zM196 254h3v1h-3zM206 254h2v2h-2zM211 254h3v2h-3zM180 255h5v1h-5zM188 255h3v2h-3zM200 255h3v1h-3zM167 256h2v1h-2zM169 256h2v1h-2zM176 256h3v2h-3zM188 256h5v1h-5zM191 256h2v1h-2zM192 256h3v1h-3zM198 256h2v2h-2zM205 256h2v2h-2zM175 257h3v1h-3zM176 257h2v1h-2zM178 257h5v1h-5zM184 257h3v2h-3zM188 257h3v2h-3zM195 257h3v2h-3zM200 257h3v1h-3zM204 257h2v1h-2zM205 257h2v2h-2zM162 258h2v2h-2zM163 258h3v1h-3zM171 258h2v1h-2zM194 258h4v1h-4zM196 258h4v1h-4zM199 258h4v1h-4zM160 259h3v2h-3zM161 259h3v1h-3zM164 259h3v1h-3zM166 259h4v1h-4zM176 259h3v2h-3zM197 259h3v1h-3zM202 259h4v1h-4zM204 259h2v2h-2zM206 259h3v1h-3zM165 260h3v2h-3zM167 260h2v1h-2zM171 260h5v1h-5zM182 260h4v1h-4zM197 260h2v1h-2zM198 260h4v1h-4zM201 260h3v2h-3zM157 261h2v1h-2zM184 261h4v1h-4zM187 261h4v1h-4zM209 261h4v1h-4zM154 262h2v2h-2zM167 262h3v2h-3zM168 262h3v1h-3zM173 262h3v2h-3zM178 262h4v1h-4zM179 262h2v2h-2zM181 262h2v2h-2zM191 262h5v1h-5zM161 263h4v1h-4zM168 263h5v1h-5zM170 263h2v1h-2zM191 263h3v1h-3zM194 263h5v1h-5zM199 263h3v1h-3zM212 263h2v2h-2zM158 264h3v1h-3zM160 264h4v1h-4zM165 264h2v2h-2zM172 264h5v1h-5zM180 264h4v1h-4zM183 264h2v1h-2zM185 264h5v1h-5zM189 264h5v1h-5zM190 264h5v1h-5zM194 264h2v1h-2zM206 264h3v1h-3zM215 264h3v1h-3zM157 265h2v2h-2zM163 265h3v1h-3zM164 265h2v1h-2zM170 265h3v1h-3zM176 265h5v1h-5zM191 265h2v2h-2zM208 265h3v1h-3zM212 265h4v1h-4zM161 266h4v1h-4zM168 266h2v2h-2zM175 266h2v1h-2zM180 266h2v2h-2zM188 266h3v2h-3zM197 266h2v2h-2zM201 266h4v1h-4zM220 266h2v2h-2zM178 267h3v1h-3zM200 267h2v1h-2zM201 267h3v1h-3zM202 267h3v2h-3zM207 267h3v1h-3zM208 267h5v1h-5zM213 267h2v1h-2zM205 268h4v1h-4zM216 268h2v1h-2zM210 269h2v2h-2zM207 270h2v1h-2zM211 270h3v2h-3zM221 270h3v1h-3zM223 270h5v1h-5zM226 270h5v1h-5zM207 271h2v1h-2zM214 272h3v2h-3zM216 272h5v1h-5zM220 272h5v1h-5zM225 272h2v1h-2zM216 273h4v1h-4zM220 274h3v2h-3zM215 275h3v1h-3zM218 275h3v2h-3zM221 275h2v1h-2zM628 247h3v1h-3zM630 247h3v1h-3zM620 248h5v1h-5zM633 248h5v1h-5zM613 249h2v2h-2zM623 249h2v1h-2zM630 249h4v1h-4zM643 249h3v1h-3zM609 250h2v2h-2zM618 250h3v2h-3zM624 250h2v1h-2zM627 250h2v2h-2zM638 250h5v1h-5zM639 250h5v1h-5zM640 250h5v1h-5zM621 251h2v1h-2zM629 251h2v1h-2zM612 252h3v1h-3zM617 252h3v2h-3zM622 252h3v2h-3zM624 252h3v2h-3zM611 253h2v1h-2zM619 253h3v2h-3zM622 253h4v1h-4zM586 254h5v1h-5zM588 254h2v2h-2zM591 254h5v1h-5zM606 254h3v1h-3zM608 254h2v1h-2zM618 254h5v1h-5zM580 255h4v1h-4zM590 255h3v1h-3zM593 255h2v1h-2zM594 255h4v1h-4zM596 255h4v1h-4zM605 255h3v2h-3zM615 255h2v1h-2zM620 255h3v2h-3zM623 255h3v1h-3zM624 255h4v1h-4zM625 255h3v2h-3zM589 256h3v1h-3zM601 256h4v1h-4zM604 256h3v1h-3zM608 256h3v1h-3zM611 256h5v1h-5zM621 256h4v1h-4zM595 257h2v2h-2zM605 257h2v2h-2zM608 257h2v1h-2zM619 257h5v1h-5zM620 257h3v1h-3zM578 258h2v1h-2zM588 258h3v2h-3zM592 258h5v1h-5zM600 258h2v1h-2zM607 258h2v2h-2zM610 258h2v2h-2zM618 258h4v1h-4zM576 259h4v1h-4zM577 259h4v1h-4zM610 259h5v1h-5zM616 259h3v2h-3zM619 259h4v1h-4zM622 259h3v2h-3zM623 259h2v2h-2zM624 259h3v1h-3zM625 259h4v1h-4zM626 259h2v1h-2zM578 260h2v2h-2zM580 260h3v1h-3zM593 260h5v1h-5zM602 260h2v1h-2zM603 260h2v2h-2zM617 260h5v1h-5zM620 260h2v1h-2zM623 260h3v2h-3zM581 261h3v1h-3zM583 261h3v2h-3zM592 261h3v1h-3zM594 261h2v2h-2zM598 261h2v1h-2zM614 261h3v2h-3zM616 261h2v2h-2zM626 261h3v2h-3zM627 261h3v2h-3zM577 262h4v1h-4zM582 262h5v1h-5zM584 262h2v2h-2zM597 262h2v1h-2zM604 262h3v2h-3zM606 262h3v1h-3zM613 262h5v1h-5zM614 262h3v2h-3zM615 262h3v1h-3zM618 262h2v2h-2zM621 262h2v2h-2zM628 262h2v2h-2zM575 263h4v1h-4zM587 263h3v1h-3zM588 263h4v1h-4zM591 263h4v1h-4zM593 263h5v1h-5zM606 263h3v1h-3zM618 263h5v1h-5zM624 263h4v1h-4zM577 264h4v1h-4zM601 264h2v2h-2zM606 264h4v1h-4zM607 264h3v2h-3zM613 264h2v1h-2zM629 264h4v1h-4zM580 265h3v2h-3zM581 265h2v2h-2zM584 265h3v2h-3zM602 265h2v2h-2zM609 265h5v1h-5zM610 265h3v2h-3zM611 265h4v1h-4zM631 265h4v1h-4zM634 265h2v1h-2zM581 266h4v1h-4zM582 266h3v1h-3zM588 266h3v1h-3zM617 266h3v2h-3zM627 266h2v2h-2zM637 266h5v1h-5zM638 266h2v1h-2zM585 267h3v1h-3zM595 267h2v2h-2zM608 267h4v1h-4zM618 267h3v2h-3zM624 267h2v2h-2zM626 267h4v1h-4zM633 267h5v1h-5zM624 268h3v2h-3zM626 268h3v1h-3zM627 268h5v1h-5zM630 268h3v1h-3zM634 268h2v1h-2zM636 268h4v1h-4zM632 270h5v1h-5zM638 270h5v1h-5zM643 270h4v1h-4zM630 271h2v1h-2zM643 272h3v2h-3zM636 274h4v1h-4zM642 274h3v1h-3zM636 275h3v1h-3zM139 266h3v1h-3zM145 266h1v2h-1zM135 267h2v1h-2zM136 267h3v1h-3zM139 267h1v1h-1zM155 267h1v2h-1zM160 267h1v1h-1zM144 268h2v2h-2zM145 268h1v1h-1zM154 268h3v1h-3zM161 269h3v1h-3zM143 270h2v1h-2zM167 270h3v1h-3zM177 270h1v2h-1zM182 270h3v1h-3zM149 271h2v1h-2zM155 271h1v1h-1zM168 271h3v1h-3zM146 272h3v1h-3zM156 272h2v1h-2zM164 272h1v1h-1zM169 272h2v1h-2zM144 273h1v1h-1zM149 273h1v2h-1zM155 273h2v1h-2zM167 273h3v1h-3zM139 274h3v1h-3zM175 274h1v2h-1zM160 275h3v1h-3zM170 275h1v1h-1zM145 276h1v2h-1zM154 276h2v2h-2zM157 276h1v2h-1zM168 276h1v1h-1zM135 277h1v1h-1zM139 277h2v1h-2zM160 277h1v2h-1zM166 277h3v1h-3zM175 277h3v1h-3zM181 277h1v1h-1zM140 278h2v1h-2zM143 278h3v1h-3zM148 278h1v1h-1zM169 278h2v2h-2zM143 279h2v2h-2zM157 279h2v1h-2zM162 279h1v2h-1zM163 279h1v2h-1zM169 279h1v1h-1zM170 279h1v2h-1zM178 279h2v1h-2zM180 279h2v1h-2zM182 279h3v1h-3zM139 280h1v1h-1zM140 280h3v1h-3zM175 280h2v1h-2zM141 281h2v1h-2zM148 281h2v1h-2zM149 281h3v1h-3zM151 281h2v2h-2zM153 281h3v1h-3zM158 281h2v1h-2zM163 281h2v1h-2zM165 281h2v1h-2zM166 281h3v1h-3zM168 281h2v1h-2zM144 282h1v1h-1zM145 282h2v1h-2zM152 282h1v1h-1zM153 282h1v1h-1zM155 282h2v2h-2zM174 282h2v1h-2zM177 282h2v2h-2zM153 283h1v2h-1zM165 283h1v2h-1zM172 283h1v1h-1zM179 283h3v1h-3zM180 283h2v2h-2zM159 284h1v2h-1zM181 284h2v2h-2zM149 285h2v2h-2zM152 285h3v1h-3zM148 287h1v2h-1zM174 287h2v1h-2zM177 287h1v2h-1zM152 288h1v2h-1zM158 288h2v1h-2zM175 288h2v2h-2zM168 289h2v1h-2zM169 289h3v1h-3zM170 289h1v2h-1zM175 289h2v2h-2zM182 289h1v1h-1zM154 290h1v2h-1zM156 290h1v1h-1zM167 290h2v2h-2zM182 290h1v2h-1zM157 291h1v1h-1zM162 291h2v2h-2zM174 291h1v2h-1zM159 292h1v2h-1zM165 292h2v1h-2zM169 292h3v1h-3zM172 292h1v2h-1zM175 292h3v1h-3zM178 292h1v2h-1zM156 293h2v1h-2zM556 266h2v1h-2zM564 266h3v1h-3zM581 268h2v1h-2zM568 269h2v2h-2zM579 269h2v1h-2zM582 269h2v2h-2zM601 269h2v1h-2zM560 270h1v2h-1zM563 270h1v2h-1zM565 270h2v2h-2zM577 270h1v1h-1zM583 270h1v1h-1zM594 270h1v1h-1zM600 270h1v2h-1zM579 271h1v2h-1zM580 271h1v1h-1zM586 271h2v1h-2zM558 272h2v1h-2zM560 272h1v2h-1zM586 272h3v1h-3zM594 272h2v1h-2zM558 273h1v2h-1zM561 273h1v1h-1zM560 274h1v1h-1zM564 274h2v1h-2zM568 274h2v1h-2zM573 274h2v2h-2zM586 274h1v2h-1zM599 274h1v1h-1zM579 275h2v1h-2zM580 275h1v1h-1zM599 275h1v1h-1zM602 275h1v1h-1zM563 276h1v1h-1zM569 276h2v2h-2zM579 276h3v1h-3zM584 276h2v2h-2zM578 277h3v1h-3zM579 277h2v1h-2zM595 277h1v2h-1zM596 277h1v1h-1zM576 278h1v1h-1zM579 278h1v1h-1zM585 278h3v1h-3zM590 278h1v2h-1zM595 278h3v1h-3zM597 278h3v1h-3zM599 278h1v1h-1zM574 279h2v1h-2zM602 279h1v1h-1zM565 280h3v1h-3zM576 280h3v1h-3zM589 280h2v2h-2zM597 280h3v1h-3zM600 280h3v1h-3zM566 281h1v2h-1zM581 281h1v2h-1zM586 281h2v2h-2zM591 281h1v1h-1zM597 281h3v1h-3zM566 282h1v2h-1zM593 282h1v1h-1zM598 282h2v1h-2zM600 282h2v1h-2zM567 283h2v1h-2zM580 283h2v2h-2zM597 283h2v2h-2zM569 284h2v2h-2zM574 284h3v1h-3zM597 284h2v1h-2zM601 285h2v1h-2zM603 285h3v1h-3zM598 286h3v1h-3zM602 286h2v1h-2zM568 287h2v1h-2zM587 287h1v1h-1zM598 287h1v2h-1zM599 287h2v2h-2zM602 287h1v2h-1zM571 288h2v2h-2zM587 288h2v2h-2zM574 289h1v1h-1zM577 289h3v1h-3zM596 289h2v1h-2zM579 290h2v1h-2zM584 290h3v1h-3zM597 290h1v2h-1zM600 290h2v1h-2zM578 291h2v1h-2zM583 291h3v1h-3zM599 292h1v1h-1zM603 292h1v2h-1zM576 293h2v2h-2zM588 293h2v1h-2zM593 293h1v1h-1zM603 293h1v2h-1zM577 294h1v1h-1zM599 294h1v1h-1zM193 268h3v1h-3zM198 268h2v1h-2zM184 269h2v2h-2zM191 269h2v2h-2zM196 269h1v1h-1zM204 269h2v2h-2zM184 270h2v2h-2zM185 270h2v2h-2zM187 270h1v2h-1zM188 270h1v1h-1zM193 270h1v1h-1zM203 270h1v1h-1zM185 271h1v1h-1zM187 271h2v2h-2zM192 271h1v2h-1zM194 271h2v1h-2zM201 271h2v1h-2zM184 272h1v1h-1zM196 273h3v1h-3zM197 273h1v1h-1zM206 273h3v1h-3zM184 274h3v1h-3zM194 274h1v1h-1zM196 274h1v2h-1zM189 276h1v1h-1zM190 276h3v1h-3zM190 277h2v1h-2zM211 277h1v1h-1zM189 278h3v1h-3zM209 278h2v2h-2zM211 278h2v2h-2zM185 279h2v1h-2zM209 279h2v2h-2zM215 279h1v1h-1zM220 279h1v1h-1zM210 280h1v2h-1zM212 280h2v1h-2zM222 280h2v1h-2zM188 281h3v1h-3zM214 281h3v1h-3zM223 281h2v1h-2zM189 282h3v1h-3zM220 282h1v1h-1zM184 283h2v2h-2zM186 283h1v1h-1zM218 283h1v1h-1zM224 283h3v1h-3zM190 284h1v1h-1zM210 284h2v1h-2zM213 284h1v1h-1zM217 284h2v1h-2zM183 285h2v1h-2zM187 285h1v2h-1zM190 285h1v1h-1zM213 285h1v2h-1zM184 286h3v1h-3zM194 286h2v1h-2zM216 286h2v1h-2zM226 286h1v1h-1zM227 286h1v1h-1zM183 287h2v2h-2zM217 287h1v2h-1zM222 287h1v2h-1zM226 287h1v2h-1zM188 289h1v2h-1zM199 289h2v2h-2zM204 289h2v2h-2zM208 289h1v1h-1zM222 289h2v1h-2zM225 289h1v2h-1zM226 289h2v2h-2zM195 290h1v1h-1zM197 290h2v1h-2zM201 290h2v2h-2zM202 290h1v1h-1zM210 290h3v1h-3zM211 290h2v1h-2zM215 290h3v1h-3zM218 290h1v1h-1zM220 290h2v2h-2zM225 290h1v1h-1zM226 290h1v2h-1zM228 290h2v2h-2zM230 290h3v1h-3zM231 290h2v1h-2zM233 290h2v1h-2zM183 291h2v2h-2zM185 291h2v1h-2zM190 291h3v1h-3zM191 291h1v1h-1zM210 291h2v1h-2zM219 291h2v2h-2zM224 291h3v1h-3zM184 292h2v1h-2zM187 292h3v1h-3zM197 292h2v2h-2zM216 292h2v2h-2zM225 292h1v2h-1zM199 293h2v2h-2zM213 293h2v2h-2zM222 293h1v1h-1zM226 293h1v2h-1zM229 293h1v2h-1zM230 293h1v1h-1zM186 294h2v1h-2zM197 294h2v1h-2zM195 295h2v2h-2zM199 295h3v1h-3zM206 295h3v1h-3zM211 295h1v1h-1zM219 295h1v1h-1zM220 295h3v1h-3zM206 296h1v1h-1zM213 296h1v1h-1zM218 296h2v2h-2zM202 297h1v1h-1zM206 297h2v1h-2zM207 297h1v1h-1zM204 298h1v1h-1zM205 298h3v1h-3zM209 298h2v1h-2zM211 298h2v1h-2zM212 299h2v2h-2zM612 268h1v2h-1zM605 269h3v1h-3zM608 269h2v2h-2zM604 270h2v2h-2zM618 270h2v2h-2zM620 270h2v2h-2zM621 270h3v1h-3zM612 271h1v2h-1zM616 271h1v2h-1zM624 272h1v2h-1zM609 273h1v2h-1zM607 274h1v2h-1zM612 274h2v2h-2zM626 274h3v1h-3zM604 275h1v1h-1zM605 276h1v2h-1zM612 276h3v1h-3zM604 277h3v1h-3zM609 278h1v1h-1zM633 278h3v1h-3zM637 278h1v1h-1zM608 280h2v2h-2zM604 281h1v1h-1zM607 281h1v2h-1zM604 282h3v1h-3zM631 282h3v1h-3zM632 282h1v1h-1zM635 282h1v2h-1zM639 282h1v1h-1zM632 283h1v2h-1zM610 284h1v1h-1zM612 284h1v1h-1zM634 284h3v1h-3zM643 284h2v1h-2zM645 284h1v1h-1zM609 285h2v1h-2zM612 285h1v2h-1zM638 285h1v1h-1zM644 285h1v2h-1zM609 286h2v1h-2zM616 286h2v2h-2zM622 286h3v1h-3zM634 286h2v1h-2zM636 286h2v2h-2zM604 287h2v2h-2zM605 287h2v2h-2zM613 287h3v1h-3zM629 287h2v1h-2zM634 287h1v2h-1zM645 287h1v2h-1zM649 287h1v2h-1zM609 288h2v2h-2zM619 288h2v1h-2zM636 288h3v1h-3zM643 288h1v1h-1zM616 289h2v2h-2zM617 289h2v2h-2zM618 289h1v1h-1zM647 289h1v1h-1zM651 289h1v2h-1zM606 290h1v1h-1zM609 290h2v2h-2zM617 290h1v1h-1zM629 290h3v1h-3zM653 290h2v2h-2zM625 291h3v1h-3zM626 291h3v1h-3zM627 291h1v2h-1zM628 291h2v2h-2zM635 291h1v1h-1zM636 291h1v1h-1zM638 291h1v1h-1zM642 291h2v1h-2zM652 291h1v1h-1zM653 291h1v2h-1zM613 292h2v1h-2zM623 292h1v1h-1zM639 292h3v1h-3zM649 292h2v2h-2zM606 293h2v1h-2zM607 293h1v1h-1zM616 293h1v2h-1zM618 293h2v1h-2zM619 293h2v2h-2zM640 293h2v2h-2zM605 294h3v1h-3zM606 294h3v1h-3zM627 294h1v1h-1zM632 294h1v2h-1zM636 294h1v1h-1zM639 294h1v1h-1zM615 295h2v2h-2zM617 295h2v1h-2zM623 295h1v2h-1zM624 295h1v1h-1zM630 295h2v1h-2zM629 296h3v1h-3zM636 296h1v1h-1zM623 297h1v1h-1zM629 297h2v2h-2zM635 298h3v1h-3zM203 274h3v1h-3zM203 277h2v2h-2zM204 279h3v1h-3zM193 280h3v1h-3zM209 284h1v2h-1zM208 286h1v1h-1zM623 273h2v1h-2zM613 276h2v2h-2zM622 276h3v1h-3zM627 279h2v1h-2zM615 282h2v2h-2zM623 282h1v2h-1zM625 287h1v2h-1zM108 271h2v2h-2zM121 271h3v1h-3zM111 278h3v1h-3zM108 280h1v2h-1zM111 284h2v1h-2zM536 272h3v1h-3zM541 276h1v1h-1zM537 283h3v1h-3zM324 265h1v1h-1zM325 265h2v1h-2zM326 265h2v1h-2zM331 266h1v2h-1zM318 267h1v1h-1zM324 267h1v2h-1zM327 267h1v1h-1zM329 267h1v2h-1zM335 267h3v1h-3zM342 267h3v1h-3zM318 268h2v2h-2zM320 268h3v1h-3zM324 268h1v1h-1zM326 268h2v2h-2zM332 268h2v2h-2zM339 268h2v2h-2zM341 268h3v1h-3zM319 269h3v1h-3zM322 269h3v1h-3zM333 269h2v1h-2zM316 270h1v2h-1zM317 270h2v1h-2zM320 270h2v1h-2zM328 270h1v2h-1zM338 270h3v1h-3zM339 270h3v1h-3zM314 271h3v1h-3zM322 271h1v1h-1zM326 271h1v2h-1zM327 271h2v1h-2zM338 271h3v1h-3zM341 271h1v2h-1zM316 272h2v2h-2zM324 272h3v1h-3zM349 272h2v1h-2zM314 273h1v2h-1zM316 273h1v2h-1zM336 273h2v1h-2zM327 274h1v2h-1zM328 274h1v1h-1zM340 274h2v2h-2zM345 274h2v1h-2zM347 274h1v2h-1zM348 274h2v2h-2zM310 275h1v2h-1zM313 275h2v1h-2zM314 275h1v2h-1zM318 275h1v2h-1zM319 275h1v1h-1zM335 275h1v2h-1zM343 275h3v1h-3zM346 275h3v1h-3zM314 276h2v1h-2zM316 276h3v1h-3zM324 276h1v2h-1zM331 276h3v1h-3zM336 276h2v2h-2zM337 276h2v2h-2zM340 276h2v1h-2zM349 276h1v2h-1zM306 277h1v1h-1zM319 277h1v1h-1zM320 277h1v1h-1zM333 277h2v2h-2zM347 277h2v2h-2zM312 278h1v1h-1zM320 278h2v1h-2zM324 278h1v2h-1zM330 278h3v1h-3zM333 278h1v2h-1zM334 278h2v1h-2zM337 278h1v1h-1zM343 278h2v1h-2zM344 278h1v1h-1zM308 279h1v1h-1zM310 279h1v1h-1zM316 279h2v1h-2zM318 279h1v2h-1zM319 279h2v1h-2zM330 279h1v1h-1zM336 279h1v2h-1zM330 280h1v1h-1zM316 281h2v2h-2zM317 281h1v2h-1zM322 281h1v1h-1zM327 281h1v2h-1zM331 281h2v1h-2zM334 281h1v2h-1zM308 282h3v1h-3zM314 282h1v2h-1zM317 282h1v1h-1zM320 282h3v1h-3zM327 282h1v1h-1zM329 282h2v1h-2zM330 282h1v1h-1zM314 283h2v2h-2zM321 283h1v2h-1zM322 283h2v2h-2zM331 283h2v2h-2zM316 284h2v2h-2zM321 284h3v1h-3zM327 284h2v2h-2zM331 284h2v2h-2zM320 285h2v1h-2zM327 285h2v2h-2zM745 266h2v1h-2zM739 267h2v1h-2zM739 268h2v2h-2zM742 268h3v1h-3zM745 268h2v2h-2zM741 269h2v2h-2zM744 271h2v2h-2zM745 271h3v1h-3zM736 272h1v2h-1zM737 272h1v2h-1zM738 272h3v1h-3zM740 273h2v1h-2zM733 274h3v1h-3zM734 274h1v2h-1zM735 274h2v1h-2zM736 274h3v1h-3zM739 274h2v2h-2zM740 274h1v2h-1zM732 275h3v1h-3zM738 275h2v1h-2zM740 275h3v1h-3zM741 275h1v1h-1zM743 275h3v1h-3zM745 275h1v1h-1zM729 276h1v1h-1zM740 276h2v1h-2zM742 276h2v1h-2zM732 277h2v1h-2zM740 277h2v2h-2zM733 278h2v2h-2zM735 278h2v1h-2zM737 278h3v1h-3zM744 278h2v2h-2zM727 279h1v1h-1zM728 279h1v2h-1zM730 279h2v2h-2zM732 279h2v2h-2zM733 279h1v1h-1zM746 279h2v2h-2zM735 280h2v2h-2zM740 280h1v2h-1zM743 280h3v1h-3zM743 281h2v1h-2zM734 282h1v2h-1zM742 282h2v1h-2zM735 283h2v2h-2zM735 284h1v1h-1zM737 284h1v2h-1zM293 282h2v2h-2zM293 284h3v1h-3zM296 284h2v1h-2zM297 287h1v1h-1zM298 287h1v1h-1zM296 289h2v1h-2zM297 289h2v1h-2zM298 290h2v2h-2zM294 291h1v2h-1zM301 291h1v1h-1zM295 292h2v2h-2zM296 292h1v1h-1zM714 283h1v1h-1zM714 284h1v1h-1zM717 287h1v1h-1zM718 288h3v1h-3zM719 288h3v1h-3zM715 289h2v1h-2zM717 289h3v1h-3zM719 289h2v1h-2zM720 290h2v1h-2zM715 291h3v1h-3zM717 292h2v1h-2zM719 292h1v2h-1zM336 279h2v2h-2zM331 280h3v1h-3zM333 280h3v1h-3zM328 281h1v1h-1zM336 282h1v2h-1zM331 283h1v2h-1zM337 283h2v2h-2zM324 284h2v1h-2zM331 284h1v2h-1zM332 284h2v1h-2zM334 284h2v1h-2zM331 285h1v2h-1zM333 285h1v1h-1zM338 285h2v1h-2zM309 286h2v1h-2zM312 286h1v1h-1zM314 286h2v2h-2zM322 286h1v2h-1zM324 286h2v2h-2zM330 286h2v2h-2zM335 286h1v2h-1zM339 286h2v2h-2zM327 287h1v2h-1zM317 288h2v2h-2zM319 288h1v2h-1zM327 288h1v2h-1zM331 288h1v1h-1zM308 289h2v1h-2zM314 289h3v1h-3zM316 289h3v1h-3zM317 289h2v2h-2zM333 289h2v1h-2zM310 290h1v2h-1zM321 290h2v2h-2zM323 290h1v2h-1zM327 290h2v1h-2zM321 291h2v1h-2zM322 291h1v2h-1zM325 291h1v2h-1zM328 291h3v1h-3zM331 291h2v1h-2zM338 291h3v1h-3zM339 291h2v1h-2zM303 292h1v2h-1zM315 292h1v2h-1zM325 292h3v1h-3zM331 292h1v1h-1zM339 292h1v2h-1zM300 293h2v2h-2zM308 293h2v1h-2zM313 293h1v1h-1zM300 294h1v1h-1zM302 294h3v1h-3zM313 294h3v1h-3zM314 294h2v1h-2zM315 294h3v1h-3zM327 294h3v1h-3zM332 294h2v2h-2zM335 294h1v1h-1zM337 294h1v1h-1zM730 284h1v2h-1zM746 284h1v2h-1zM746 285h1v1h-1zM731 286h3v1h-3zM733 287h2v2h-2zM737 287h3v1h-3zM731 288h2v1h-2zM736 288h3v1h-3zM744 288h3v1h-3zM743 289h3v1h-3zM725 290h3v1h-3zM727 290h2v1h-2zM730 290h2v1h-2zM733 290h3v1h-3zM734 290h1v1h-1zM735 290h2v2h-2zM739 290h2v1h-2zM742 290h1v2h-1zM726 292h2v2h-2zM732 292h1v2h-1zM735 292h1v2h-1zM737 292h1v2h-1zM742 292h1v1h-1zM746 292h2v1h-2zM732 293h1v2h-1zM736 293h3v1h-3zM742 293h2v1h-2zM722 294h2v2h-2zM723 294h2v2h-2zM728 294h2v2h-2zM329 295h1v1h-1zM332 295h2v2h-2zM316 297h3v1h-3zM311 298h2v2h-2zM315 298h2v1h-2zM317 300h2v2h-2zM318 300h2v1h-2zM322 300h2v2h-2zM310 301h2v2h-2zM328 302h1v1h-1zM329 303h1v2h-1zM321 304h1v1h-1zM333 305h2v2h-2zM327 306h2v2h-2zM333 306h3v1h-3zM325 309h2v2h-2zM743 295h1v2h-1zM744 296h1v2h-1zM742 297h2v2h-2zM744 298h2v2h-2zM746 301h1v2h-1zM743 302h1v1h-1zM742 305h3v1h-3zM746 310h3v1h-3zM326 308h2v1h-2zM330 308h2v2h-2zM327 309h1v2h-1zM326 311h3v1h-3zM328 311h2v1h-2zM331 311h1v1h-1zM401 297h2v1h-2zM423 298h1v1h-1zM375 299h1v1h-1zM388 299h1v1h-1zM374 300h2v1h-2zM436 301h2v1h-2zM448 301h1v1h-1zM415 302h2v1h-2zM394 303h2v1h-2zM425 306h2v1h-2zM405 307h2v1h-2zM424 307h1v1h-1zM443 307h2v1h-2zM374 308h1v1h-1zM448 310h1v1h-1zM406 311h2v1h-2zM420 313h1v1h-1zM435 314h1v1h-1zM439 314h2v1h-2zM426 315h1v1h-1zM427 315h2v1h-2zM449 315h2v1h-2zM373 316h1v1h-1zM416 316h2v1h-2zM400 318h2v1h-2zM405 320h2v1h-2zM421 321h2v1h-2zM432 321h1v1h-1zM402 324h1v1h-1zM413 331h2v1h-2zM421 335h1v1h-1zM173 297h2v1h-2zM178 298h1v1h-1zM185 298h2v1h-2zM190 302h2v1h-2zM196 305h1v1h-1zM199 305h1v1h-1zM177 306h2v1h-2zM195 306h1v1h-1zM203 306h2v1h-2zM177 307h2v1h-2zM180 307h2v1h-2zM159 308h2v1h-2zM164 308h2v1h-2zM176 308h2v1h-2zM195 308h2v1h-2zM207 309h2v1h-2zM159 310h1v1h-1zM168 312h1v1h-1zM203 312h1v1h-1zM193 314h2v1h-2zM161 315h1v1h-1zM193 315h1v1h-1zM200 316h1v1h-1zM172 318h1v1h-1zM193 318h2v1h-2zM191 324h2v1h-2zM592 299h1v1h-1zM604 299h1v1h-1zM598 300h1v1h-1zM590 301h1v1h-1zM580 302h2v1h-2zM614 302h1v1h-1zM616 303h1v1h-1zM587 304h1v1h-1zM589 304h2v1h-2zM625 304h2v1h-2zM581 305h1v1h-1zM587 305h2v1h-2zM600 305h2v1h-2zM606 306h1v1h-1zM604 308h1v1h-1zM595 309h2v1h-2zM597 309h1v1h-1zM604 310h2v1h-2zM618 312h2v1h-2zM590 314h2v1h-2zM626 314h1v1h-1zM628 314h2v1h-2zM607 317h1v1h-1zM610 317h1v1h-1zM615 317h2v1h-2zM618 317h1v1h-1zM620 318h2v1h-2zM598 320h1v1h-1zM200 297h3v1h-3zM208 298h2v1h-2zM219 298h1v1h-1zM191 299h1v1h-1zM217 300h1v2h-1zM196 302h2v1h-2zM202 302h3v1h-3zM208 302h3v1h-3zM213 305h2v1h-2zM204 306h2v2h-2zM614 295h1v2h-1zM616 298h1v1h-1zM627 299h2v1h-2zM624 300h2v2h-2zM634 300h3v1h-3zM614 301h1v2h-1zM632 301h3v1h-3zM641 301h1v2h-1zM617 302h1v2h-1zM639 302h1v1h-1zM639 303h1v2h-1zM637 304h2v1h-2zM619 306h1v2h-1zM622 306h3v1h-3z" fill="#000" shape-rendering="crispEdges"/>

<g style="font-family:'DejaVu Sans';font-weight:200" font-size="28" fill="#000">
<text x="215" y="288.5" textLength="79" lengthAdjust="spacingAndGlyphs">Entire</text>
<text x="307" y="288.5" textLength="57" lengthAdjust="spacingAndGlyphs">Grid</text>
<text x="380" y="288.5" textLength="137" lengthAdjust="spacingAndGlyphs">Undefined</text>
</g>
</g>
<rect x="71" y="174" width="677" height="265" fill="none" stroke="#000" stroke-width="2"/>
<path d="M89.5 440 V444 M160.5 440 V444 M229.5 440 V444 M300.5 440 V444 M370.5 440 V444 M440.5 440 V444 M510.5 440 V444 M580.5 440 V444 M650.5 440 V444 M720.5 440 V444 M66 195.5 H70 M66 237.5 H70 M66 279.5 H70 M66 322.5 H70 M66 364.5 H70 M66 407.5 H70" stroke="#000" stroke-width="1" shape-rendering="crispEdges"/>
<g style="font-family:'DejaVu Sans','Liberation Sans',sans-serif;font-weight:200" font-size="15" fill="#000" stroke="#000" stroke-width="0.3">
<text x="89.5" y="459" text-anchor="middle" textLength="28" lengthAdjust="spacingAndGlyphs">180</text><text x="160.5" y="459" text-anchor="middle" textLength="38" lengthAdjust="spacingAndGlyphs">120W</text><text x="229.5" y="459" text-anchor="middle" textLength="28.4" lengthAdjust="spacingAndGlyphs">60W</text><text x="300.5" y="459" text-anchor="middle" textLength="9.3" lengthAdjust="spacingAndGlyphs">0</text><text x="370.5" y="459" text-anchor="middle" textLength="28.4" lengthAdjust="spacingAndGlyphs">60E</text><text x="440.5" y="459" text-anchor="middle" textLength="38" lengthAdjust="spacingAndGlyphs">120E</text><text x="510.5" y="459" text-anchor="middle" textLength="28" lengthAdjust="spacingAndGlyphs">180</text><text x="580.5" y="459" text-anchor="middle" textLength="38" lengthAdjust="spacingAndGlyphs">120W</text><text x="650.5" y="459" text-anchor="middle" textLength="28.4" lengthAdjust="spacingAndGlyphs">60W</text><text x="720.5" y="459" text-anchor="middle" textLength="9.3" lengthAdjust="spacingAndGlyphs">0</text>
<text x="64.5" y="202.0" text-anchor="end" textLength="36.4" lengthAdjust="spacingAndGlyphs">120N</text><text x="64.5" y="244.0" text-anchor="end" textLength="29" lengthAdjust="spacingAndGlyphs">90N</text><text x="64.5" y="286.0" text-anchor="end" textLength="29" lengthAdjust="spacingAndGlyphs">60N</text><text x="64.5" y="329.0" text-anchor="end" textLength="29" lengthAdjust="spacingAndGlyphs">30N</text><text x="64.5" y="371.0" text-anchor="end" textLength="20" lengthAdjust="spacingAndGlyphs">EQ</text><text x="64.5" y="414.0" text-anchor="end" textLength="29" lengthAdjust="spacingAndGlyphs">30S</text>
</g>
<g style="font-family:'DejaVu Sans','Liberation Sans',sans-serif;font-weight:200" font-size="24.5" fill="#000" stroke="#000" stroke-width="0.8">
<text x="140.6" y="161.7" textLength="84" lengthAdjust="spacingAndGlyphs">Rainfall</text>
<text x="234.4" y="161.7" textLength="83.2" lengthAdjust="spacingAndGlyphs">(7-day</text>
<text x="328.9" y="161.7" textLength="92" lengthAdjust="spacingAndGlyphs">accum.)</text>
<text x="433.1" y="161.7" textLength="63.4" lengthAdjust="spacingAndGlyphs">[mm]</text>
<text x="512.5" y="161.7" textLength="166" lengthAdjust="spacingAndGlyphs">12Z10Aug2018</text>
</g>
<path d="M306 533 L363.5 526 V540 Z M477.5 533 L420.5 526 V540 Z" fill="#aaa" stroke="#000" stroke-width="1"/>
<rect x="363.5" y="526" width="57" height="14" fill="#fff" stroke="#000" stroke-width="1"/>
<g style="font-family:'DejaVu Sans','Liberation Sans',sans-serif;font-weight:200" font-size="13.5" fill="#000" stroke="#000" stroke-width="0.3">
<text x="363.5" y="553.7" text-anchor="middle" textLength="56" lengthAdjust="spacingAndGlyphs">580.154</text>
<text x="420.8" y="553.7" text-anchor="middle" textLength="92" lengthAdjust="spacingAndGlyphs">5.80144e+06</text>
<text x="458" y="553.7" textLength="38.5" lengthAdjust="spacingAndGlyphs">[mm]</text>
</g>
</svg>
</body></html>
